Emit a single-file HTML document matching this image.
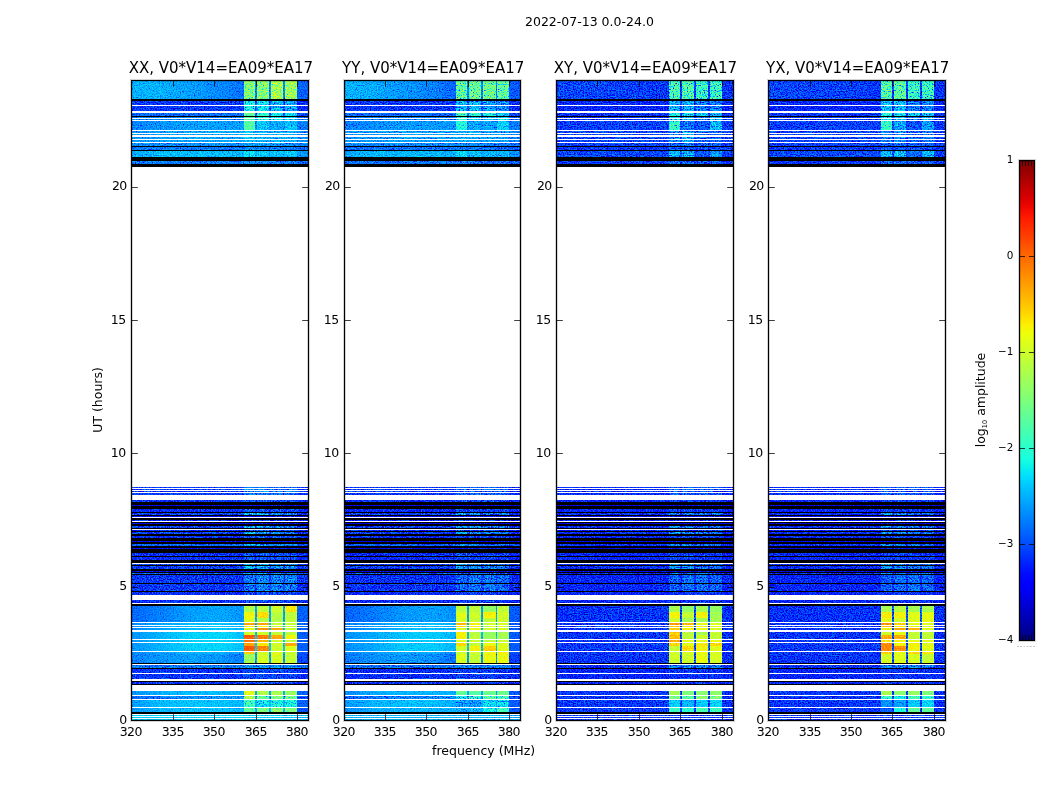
<!DOCTYPE html><html><head><meta charset="utf-8"><title>2022-07-13 0.0-24.0</title>
<style>html,body{margin:0;padding:0;background:#fff}svg{display:block}text{font-family:"DejaVu Sans","Liberation Sans",sans-serif;fill:#000}</style></head><body>
<svg width="1050" height="800" viewBox="0 0 1050 800">
<defs>
<linearGradient id="g131t1" gradientUnits="userSpaceOnUse" x1="132.2" y1="0" x2="244.2" y2="0"><stop offset="0.000" stop-color="#655500"/><stop offset="0.259" stop-color="#655500"/><stop offset="0.527" stop-color="#615500"/><stop offset="0.795" stop-color="#5d5500"/><stop offset="1.000" stop-color="#575500"/></linearGradient>
<linearGradient id="g131t5" gradientUnits="userSpaceOnUse" x1="132.2" y1="0" x2="244.2" y2="0"><stop offset="0.000" stop-color="#576600"/><stop offset="0.259" stop-color="#5b6600"/><stop offset="0.527" stop-color="#5d6600"/><stop offset="0.795" stop-color="#5d6600"/><stop offset="1.000" stop-color="#5d6600"/></linearGradient>
<linearGradient id="g131t6" gradientUnits="userSpaceOnUse" x1="132.2" y1="0" x2="244.2" y2="0"><stop offset="0.000" stop-color="#5b6600"/><stop offset="0.259" stop-color="#5d6600"/><stop offset="0.527" stop-color="#5f6600"/><stop offset="0.795" stop-color="#5f6600"/><stop offset="1.000" stop-color="#5f6600"/></linearGradient>
<linearGradient id="g131t9" gradientUnits="userSpaceOnUse" x1="132.2" y1="0" x2="244.2" y2="0"><stop offset="0.000" stop-color="#615f00"/><stop offset="0.259" stop-color="#655f00"/><stop offset="0.527" stop-color="#655f00"/><stop offset="0.795" stop-color="#655f00"/><stop offset="1.000" stop-color="#635f00"/></linearGradient>
<linearGradient id="g131m1" gradientUnits="userSpaceOnUse" x1="132.2" y1="0" x2="244.2" y2="0"><stop offset="0.000" stop-color="#5d3a00"/><stop offset="0.259" stop-color="#623a00"/><stop offset="0.527" stop-color="#683a00"/><stop offset="0.795" stop-color="#6a3a00"/><stop offset="1.000" stop-color="#663a00"/></linearGradient>
<linearGradient id="g131m2" gradientUnits="userSpaceOnUse" x1="132.2" y1="0" x2="244.2" y2="0"><stop offset="0.000" stop-color="#5d3a00"/><stop offset="0.259" stop-color="#623a00"/><stop offset="0.527" stop-color="#683a00"/><stop offset="0.795" stop-color="#6a3a00"/><stop offset="1.000" stop-color="#663a00"/></linearGradient>
<linearGradient id="g131m3" gradientUnits="userSpaceOnUse" x1="132.2" y1="0" x2="244.2" y2="0"><stop offset="0.000" stop-color="#5d3a00"/><stop offset="0.259" stop-color="#623a00"/><stop offset="0.527" stop-color="#683a00"/><stop offset="0.795" stop-color="#6a3a00"/><stop offset="1.000" stop-color="#663a00"/></linearGradient>
<linearGradient id="g131m4" gradientUnits="userSpaceOnUse" x1="132.2" y1="0" x2="244.2" y2="0"><stop offset="0.000" stop-color="#663300"/><stop offset="0.259" stop-color="#6b3300"/><stop offset="0.527" stop-color="#703300"/><stop offset="0.795" stop-color="#723300"/><stop offset="1.000" stop-color="#6e3300"/></linearGradient>
<linearGradient id="g131m5" gradientUnits="userSpaceOnUse" x1="132.2" y1="0" x2="244.2" y2="0"><stop offset="0.000" stop-color="#663300"/><stop offset="0.259" stop-color="#6b3300"/><stop offset="0.527" stop-color="#703300"/><stop offset="0.795" stop-color="#723300"/><stop offset="1.000" stop-color="#6e3300"/></linearGradient>
<linearGradient id="g131m6" gradientUnits="userSpaceOnUse" x1="132.2" y1="0" x2="244.2" y2="0"><stop offset="0.000" stop-color="#663300"/><stop offset="0.259" stop-color="#6b3300"/><stop offset="0.527" stop-color="#703300"/><stop offset="0.795" stop-color="#723300"/><stop offset="1.000" stop-color="#6e3300"/></linearGradient>
<linearGradient id="g131m7" gradientUnits="userSpaceOnUse" x1="132.2" y1="0" x2="244.2" y2="0"><stop offset="0.000" stop-color="#6a2c00"/><stop offset="0.259" stop-color="#702c00"/><stop offset="0.527" stop-color="#762c00"/><stop offset="0.795" stop-color="#772c00"/><stop offset="1.000" stop-color="#722c00"/></linearGradient>
<linearGradient id="g131m8" gradientUnits="userSpaceOnUse" x1="132.2" y1="0" x2="244.2" y2="0"><stop offset="0.000" stop-color="#6a2c00"/><stop offset="0.259" stop-color="#702c00"/><stop offset="0.527" stop-color="#762c00"/><stop offset="0.795" stop-color="#772c00"/><stop offset="1.000" stop-color="#722c00"/></linearGradient>
<linearGradient id="g131m9" gradientUnits="userSpaceOnUse" x1="132.2" y1="0" x2="244.2" y2="0"><stop offset="0.000" stop-color="#6a2c00"/><stop offset="0.259" stop-color="#702c00"/><stop offset="0.527" stop-color="#762c00"/><stop offset="0.795" stop-color="#772c00"/><stop offset="1.000" stop-color="#722c00"/></linearGradient>
<linearGradient id="g131m10" gradientUnits="userSpaceOnUse" x1="132.2" y1="0" x2="244.2" y2="0"><stop offset="0.000" stop-color="#6a2c00"/><stop offset="0.259" stop-color="#702c00"/><stop offset="0.527" stop-color="#762c00"/><stop offset="0.795" stop-color="#772c00"/><stop offset="1.000" stop-color="#722c00"/></linearGradient>
<linearGradient id="g131m11" gradientUnits="userSpaceOnUse" x1="132.2" y1="0" x2="244.2" y2="0"><stop offset="0.000" stop-color="#6a2c00"/><stop offset="0.259" stop-color="#702c00"/><stop offset="0.527" stop-color="#762c00"/><stop offset="0.795" stop-color="#772c00"/><stop offset="1.000" stop-color="#722c00"/></linearGradient>
<linearGradient id="g131m12" gradientUnits="userSpaceOnUse" x1="132.2" y1="0" x2="244.2" y2="0"><stop offset="0.000" stop-color="#643a00"/><stop offset="0.259" stop-color="#683a00"/><stop offset="0.527" stop-color="#6c3a00"/><stop offset="0.795" stop-color="#6c3a00"/><stop offset="1.000" stop-color="#663a00"/></linearGradient>
<linearGradient id="g131m13" gradientUnits="userSpaceOnUse" x1="132.2" y1="0" x2="244.2" y2="0"><stop offset="0.000" stop-color="#5e4b00"/><stop offset="0.259" stop-color="#624b00"/><stop offset="0.527" stop-color="#644b00"/><stop offset="0.795" stop-color="#624b00"/><stop offset="1.000" stop-color="#5c4b00"/></linearGradient>
<linearGradient id="g131d1" gradientUnits="userSpaceOnUse" x1="132.2" y1="0" x2="244.2" y2="0"><stop offset="0.000" stop-color="#653d00"/><stop offset="0.259" stop-color="#6b3d00"/><stop offset="0.527" stop-color="#6d3d00"/><stop offset="0.795" stop-color="#6d3d00"/><stop offset="1.000" stop-color="#6b3d00"/></linearGradient>
<linearGradient id="g131d2" gradientUnits="userSpaceOnUse" x1="132.2" y1="0" x2="244.2" y2="0"><stop offset="0.000" stop-color="#4d7700"/><stop offset="0.259" stop-color="#517700"/><stop offset="0.527" stop-color="#557700"/><stop offset="0.795" stop-color="#577700"/><stop offset="1.000" stop-color="#577700"/></linearGradient>
<linearGradient id="g131d3" gradientUnits="userSpaceOnUse" x1="132.2" y1="0" x2="244.2" y2="0"><stop offset="0.000" stop-color="#673d00"/><stop offset="0.259" stop-color="#6d3d00"/><stop offset="0.527" stop-color="#6f3d00"/><stop offset="0.795" stop-color="#6f3d00"/><stop offset="1.000" stop-color="#6b3d00"/></linearGradient>
<linearGradient id="g131d4" gradientUnits="userSpaceOnUse" x1="132.2" y1="0" x2="244.2" y2="0"><stop offset="0.000" stop-color="#644400"/><stop offset="0.259" stop-color="#6a4400"/><stop offset="0.527" stop-color="#6c4400"/><stop offset="0.795" stop-color="#6c4400"/><stop offset="1.000" stop-color="#6a4400"/></linearGradient>
<linearGradient id="g131e1" gradientUnits="userSpaceOnUse" x1="132.2" y1="0" x2="244.2" y2="0"><stop offset="0.000" stop-color="#6e4400"/><stop offset="0.259" stop-color="#704400"/><stop offset="0.527" stop-color="#704400"/><stop offset="0.795" stop-color="#704400"/><stop offset="1.000" stop-color="#704400"/></linearGradient>
<linearGradient id="g344t1" gradientUnits="userSpaceOnUse" x1="344.5" y1="0" x2="456.4" y2="0"><stop offset="0.000" stop-color="#645c00"/><stop offset="0.259" stop-color="#625c00"/><stop offset="0.527" stop-color="#5e5c00"/><stop offset="0.795" stop-color="#5a5c00"/><stop offset="1.000" stop-color="#535c00"/></linearGradient>
<linearGradient id="g344t5" gradientUnits="userSpaceOnUse" x1="344.5" y1="0" x2="456.4" y2="0"><stop offset="0.000" stop-color="#546d00"/><stop offset="0.259" stop-color="#586d00"/><stop offset="0.527" stop-color="#5a6d00"/><stop offset="0.795" stop-color="#5a6d00"/><stop offset="1.000" stop-color="#5a6d00"/></linearGradient>
<linearGradient id="g344t6" gradientUnits="userSpaceOnUse" x1="344.5" y1="0" x2="456.4" y2="0"><stop offset="0.000" stop-color="#586d00"/><stop offset="0.259" stop-color="#5a6d00"/><stop offset="0.527" stop-color="#5c6d00"/><stop offset="0.795" stop-color="#5c6d00"/><stop offset="1.000" stop-color="#5c6d00"/></linearGradient>
<linearGradient id="g344t9" gradientUnits="userSpaceOnUse" x1="344.5" y1="0" x2="456.4" y2="0"><stop offset="0.000" stop-color="#5e6600"/><stop offset="0.259" stop-color="#626600"/><stop offset="0.527" stop-color="#626600"/><stop offset="0.795" stop-color="#626600"/><stop offset="1.000" stop-color="#606600"/></linearGradient>
<linearGradient id="g344m1" gradientUnits="userSpaceOnUse" x1="344.5" y1="0" x2="456.4" y2="0"><stop offset="0.000" stop-color="#5a4100"/><stop offset="0.259" stop-color="#5f4100"/><stop offset="0.527" stop-color="#654100"/><stop offset="0.795" stop-color="#674100"/><stop offset="1.000" stop-color="#634100"/></linearGradient>
<linearGradient id="g344m2" gradientUnits="userSpaceOnUse" x1="344.5" y1="0" x2="456.4" y2="0"><stop offset="0.000" stop-color="#5a4100"/><stop offset="0.259" stop-color="#5f4100"/><stop offset="0.527" stop-color="#654100"/><stop offset="0.795" stop-color="#674100"/><stop offset="1.000" stop-color="#634100"/></linearGradient>
<linearGradient id="g344m3" gradientUnits="userSpaceOnUse" x1="344.5" y1="0" x2="456.4" y2="0"><stop offset="0.000" stop-color="#5a4100"/><stop offset="0.259" stop-color="#5f4100"/><stop offset="0.527" stop-color="#654100"/><stop offset="0.795" stop-color="#674100"/><stop offset="1.000" stop-color="#634100"/></linearGradient>
<linearGradient id="g344m4" gradientUnits="userSpaceOnUse" x1="344.5" y1="0" x2="456.4" y2="0"><stop offset="0.000" stop-color="#623a00"/><stop offset="0.259" stop-color="#673a00"/><stop offset="0.527" stop-color="#6d3a00"/><stop offset="0.795" stop-color="#6f3a00"/><stop offset="1.000" stop-color="#6b3a00"/></linearGradient>
<linearGradient id="g344m5" gradientUnits="userSpaceOnUse" x1="344.5" y1="0" x2="456.4" y2="0"><stop offset="0.000" stop-color="#623a00"/><stop offset="0.259" stop-color="#673a00"/><stop offset="0.527" stop-color="#6d3a00"/><stop offset="0.795" stop-color="#6f3a00"/><stop offset="1.000" stop-color="#6b3a00"/></linearGradient>
<linearGradient id="g344m6" gradientUnits="userSpaceOnUse" x1="344.5" y1="0" x2="456.4" y2="0"><stop offset="0.000" stop-color="#623a00"/><stop offset="0.259" stop-color="#673a00"/><stop offset="0.527" stop-color="#6d3a00"/><stop offset="0.795" stop-color="#6f3a00"/><stop offset="1.000" stop-color="#6b3a00"/></linearGradient>
<linearGradient id="g344m7" gradientUnits="userSpaceOnUse" x1="344.5" y1="0" x2="456.4" y2="0"><stop offset="0.000" stop-color="#673300"/><stop offset="0.259" stop-color="#6c3300"/><stop offset="0.527" stop-color="#723300"/><stop offset="0.795" stop-color="#733300"/><stop offset="1.000" stop-color="#6e3300"/></linearGradient>
<linearGradient id="g344m8" gradientUnits="userSpaceOnUse" x1="344.5" y1="0" x2="456.4" y2="0"><stop offset="0.000" stop-color="#673300"/><stop offset="0.259" stop-color="#6c3300"/><stop offset="0.527" stop-color="#723300"/><stop offset="0.795" stop-color="#733300"/><stop offset="1.000" stop-color="#6e3300"/></linearGradient>
<linearGradient id="g344m9" gradientUnits="userSpaceOnUse" x1="344.5" y1="0" x2="456.4" y2="0"><stop offset="0.000" stop-color="#673300"/><stop offset="0.259" stop-color="#6c3300"/><stop offset="0.527" stop-color="#723300"/><stop offset="0.795" stop-color="#733300"/><stop offset="1.000" stop-color="#6e3300"/></linearGradient>
<linearGradient id="g344m10" gradientUnits="userSpaceOnUse" x1="344.5" y1="0" x2="456.4" y2="0"><stop offset="0.000" stop-color="#673300"/><stop offset="0.259" stop-color="#6c3300"/><stop offset="0.527" stop-color="#723300"/><stop offset="0.795" stop-color="#733300"/><stop offset="1.000" stop-color="#6e3300"/></linearGradient>
<linearGradient id="g344m11" gradientUnits="userSpaceOnUse" x1="344.5" y1="0" x2="456.4" y2="0"><stop offset="0.000" stop-color="#673300"/><stop offset="0.259" stop-color="#6c3300"/><stop offset="0.527" stop-color="#723300"/><stop offset="0.795" stop-color="#733300"/><stop offset="1.000" stop-color="#6e3300"/></linearGradient>
<linearGradient id="g344m12" gradientUnits="userSpaceOnUse" x1="344.5" y1="0" x2="456.4" y2="0"><stop offset="0.000" stop-color="#614100"/><stop offset="0.259" stop-color="#654100"/><stop offset="0.527" stop-color="#694100"/><stop offset="0.795" stop-color="#694100"/><stop offset="1.000" stop-color="#634100"/></linearGradient>
<linearGradient id="g344m13" gradientUnits="userSpaceOnUse" x1="344.5" y1="0" x2="456.4" y2="0"><stop offset="0.000" stop-color="#5a5200"/><stop offset="0.259" stop-color="#5f5200"/><stop offset="0.527" stop-color="#615200"/><stop offset="0.795" stop-color="#5f5200"/><stop offset="1.000" stop-color="#585200"/></linearGradient>
<linearGradient id="g344d1" gradientUnits="userSpaceOnUse" x1="344.5" y1="0" x2="456.4" y2="0"><stop offset="0.000" stop-color="#624400"/><stop offset="0.259" stop-color="#684400"/><stop offset="0.527" stop-color="#6a4400"/><stop offset="0.795" stop-color="#6a4400"/><stop offset="1.000" stop-color="#684400"/></linearGradient>
<linearGradient id="g344d2" gradientUnits="userSpaceOnUse" x1="344.5" y1="0" x2="456.4" y2="0"><stop offset="0.000" stop-color="#4a7e00"/><stop offset="0.259" stop-color="#4e7e00"/><stop offset="0.527" stop-color="#527e00"/><stop offset="0.795" stop-color="#547e00"/><stop offset="1.000" stop-color="#547e00"/></linearGradient>
<linearGradient id="g344d3" gradientUnits="userSpaceOnUse" x1="344.5" y1="0" x2="456.4" y2="0"><stop offset="0.000" stop-color="#644400"/><stop offset="0.259" stop-color="#6a4400"/><stop offset="0.527" stop-color="#6c4400"/><stop offset="0.795" stop-color="#6c4400"/><stop offset="1.000" stop-color="#684400"/></linearGradient>
<linearGradient id="g344d4" gradientUnits="userSpaceOnUse" x1="344.5" y1="0" x2="456.4" y2="0"><stop offset="0.000" stop-color="#604b00"/><stop offset="0.259" stop-color="#664b00"/><stop offset="0.527" stop-color="#684b00"/><stop offset="0.795" stop-color="#684b00"/><stop offset="1.000" stop-color="#664b00"/></linearGradient>
<linearGradient id="g556t1" gradientUnits="userSpaceOnUse" x1="556.8" y1="0" x2="668.7" y2="0"><stop offset="0.000" stop-color="#3e9900"/><stop offset="0.259" stop-color="#3e9900"/><stop offset="0.527" stop-color="#3d9900"/><stop offset="0.795" stop-color="#3c9900"/><stop offset="1.000" stop-color="#3a9900"/></linearGradient>
<linearGradient id="g556t5" gradientUnits="userSpaceOnUse" x1="556.8" y1="0" x2="668.7" y2="0"><stop offset="0.000" stop-color="#3b9900"/><stop offset="0.259" stop-color="#3c9900"/><stop offset="0.527" stop-color="#3d9900"/><stop offset="0.795" stop-color="#3d9900"/><stop offset="1.000" stop-color="#3d9900"/></linearGradient>
<linearGradient id="g556t6" gradientUnits="userSpaceOnUse" x1="556.8" y1="0" x2="668.7" y2="0"><stop offset="0.000" stop-color="#3c9900"/><stop offset="0.259" stop-color="#3d9900"/><stop offset="0.527" stop-color="#3e9900"/><stop offset="0.795" stop-color="#3e9900"/><stop offset="1.000" stop-color="#3e9900"/></linearGradient>
<linearGradient id="g556t9" gradientUnits="userSpaceOnUse" x1="556.8" y1="0" x2="668.7" y2="0"><stop offset="0.000" stop-color="#3e9900"/><stop offset="0.259" stop-color="#3f9900"/><stop offset="0.527" stop-color="#3f9900"/><stop offset="0.795" stop-color="#3f9900"/><stop offset="1.000" stop-color="#3e9900"/></linearGradient>
<linearGradient id="g556m1" gradientUnits="userSpaceOnUse" x1="556.8" y1="0" x2="668.7" y2="0"><stop offset="0.000" stop-color="#399900"/><stop offset="0.259" stop-color="#399900"/><stop offset="0.527" stop-color="#3a9900"/><stop offset="0.795" stop-color="#3a9900"/><stop offset="1.000" stop-color="#3a9900"/></linearGradient>
<linearGradient id="g556m2" gradientUnits="userSpaceOnUse" x1="556.8" y1="0" x2="668.7" y2="0"><stop offset="0.000" stop-color="#399900"/><stop offset="0.259" stop-color="#399900"/><stop offset="0.527" stop-color="#3a9900"/><stop offset="0.795" stop-color="#3a9900"/><stop offset="1.000" stop-color="#3a9900"/></linearGradient>
<linearGradient id="g556m3" gradientUnits="userSpaceOnUse" x1="556.8" y1="0" x2="668.7" y2="0"><stop offset="0.000" stop-color="#399900"/><stop offset="0.259" stop-color="#399900"/><stop offset="0.527" stop-color="#3a9900"/><stop offset="0.795" stop-color="#3a9900"/><stop offset="1.000" stop-color="#3a9900"/></linearGradient>
<linearGradient id="g556m4" gradientUnits="userSpaceOnUse" x1="556.8" y1="0" x2="668.7" y2="0"><stop offset="0.000" stop-color="#3a9900"/><stop offset="0.259" stop-color="#3a9900"/><stop offset="0.527" stop-color="#3b9900"/><stop offset="0.795" stop-color="#3b9900"/><stop offset="1.000" stop-color="#3b9900"/></linearGradient>
<linearGradient id="g556m5" gradientUnits="userSpaceOnUse" x1="556.8" y1="0" x2="668.7" y2="0"><stop offset="0.000" stop-color="#3a9900"/><stop offset="0.259" stop-color="#3a9900"/><stop offset="0.527" stop-color="#3b9900"/><stop offset="0.795" stop-color="#3b9900"/><stop offset="1.000" stop-color="#3b9900"/></linearGradient>
<linearGradient id="g556m6" gradientUnits="userSpaceOnUse" x1="556.8" y1="0" x2="668.7" y2="0"><stop offset="0.000" stop-color="#3a9900"/><stop offset="0.259" stop-color="#3a9900"/><stop offset="0.527" stop-color="#3b9900"/><stop offset="0.795" stop-color="#3b9900"/><stop offset="1.000" stop-color="#3b9900"/></linearGradient>
<linearGradient id="g556m7" gradientUnits="userSpaceOnUse" x1="556.8" y1="0" x2="668.7" y2="0"><stop offset="0.000" stop-color="#3a9900"/><stop offset="0.259" stop-color="#3b9900"/><stop offset="0.527" stop-color="#3b9900"/><stop offset="0.795" stop-color="#3b9900"/><stop offset="1.000" stop-color="#3b9900"/></linearGradient>
<linearGradient id="g556m8" gradientUnits="userSpaceOnUse" x1="556.8" y1="0" x2="668.7" y2="0"><stop offset="0.000" stop-color="#3a9900"/><stop offset="0.259" stop-color="#3b9900"/><stop offset="0.527" stop-color="#3b9900"/><stop offset="0.795" stop-color="#3b9900"/><stop offset="1.000" stop-color="#3b9900"/></linearGradient>
<linearGradient id="g556m9" gradientUnits="userSpaceOnUse" x1="556.8" y1="0" x2="668.7" y2="0"><stop offset="0.000" stop-color="#3a9900"/><stop offset="0.259" stop-color="#3b9900"/><stop offset="0.527" stop-color="#3b9900"/><stop offset="0.795" stop-color="#3b9900"/><stop offset="1.000" stop-color="#3b9900"/></linearGradient>
<linearGradient id="g556m10" gradientUnits="userSpaceOnUse" x1="556.8" y1="0" x2="668.7" y2="0"><stop offset="0.000" stop-color="#3a9900"/><stop offset="0.259" stop-color="#3b9900"/><stop offset="0.527" stop-color="#3b9900"/><stop offset="0.795" stop-color="#3b9900"/><stop offset="1.000" stop-color="#3b9900"/></linearGradient>
<linearGradient id="g556m11" gradientUnits="userSpaceOnUse" x1="556.8" y1="0" x2="668.7" y2="0"><stop offset="0.000" stop-color="#3a9900"/><stop offset="0.259" stop-color="#3b9900"/><stop offset="0.527" stop-color="#3b9900"/><stop offset="0.795" stop-color="#3b9900"/><stop offset="1.000" stop-color="#3b9900"/></linearGradient>
<linearGradient id="g556m12" gradientUnits="userSpaceOnUse" x1="556.8" y1="0" x2="668.7" y2="0"><stop offset="0.000" stop-color="#3a9900"/><stop offset="0.259" stop-color="#3a9900"/><stop offset="0.527" stop-color="#3b9900"/><stop offset="0.795" stop-color="#3b9900"/><stop offset="1.000" stop-color="#3a9900"/></linearGradient>
<linearGradient id="g556m13" gradientUnits="userSpaceOnUse" x1="556.8" y1="0" x2="668.7" y2="0"><stop offset="0.000" stop-color="#399900"/><stop offset="0.259" stop-color="#3a9900"/><stop offset="0.527" stop-color="#3a9900"/><stop offset="0.795" stop-color="#3a9900"/><stop offset="1.000" stop-color="#399900"/></linearGradient>
<linearGradient id="g556d1" gradientUnits="userSpaceOnUse" x1="556.8" y1="0" x2="668.7" y2="0"><stop offset="0.000" stop-color="#3a9900"/><stop offset="0.259" stop-color="#3b9900"/><stop offset="0.527" stop-color="#3b9900"/><stop offset="0.795" stop-color="#3b9900"/><stop offset="1.000" stop-color="#3b9900"/></linearGradient>
<linearGradient id="g556d2" gradientUnits="userSpaceOnUse" x1="556.8" y1="0" x2="668.7" y2="0"><stop offset="0.000" stop-color="#399900"/><stop offset="0.259" stop-color="#399900"/><stop offset="0.527" stop-color="#3a9900"/><stop offset="0.795" stop-color="#3a9900"/><stop offset="1.000" stop-color="#3a9900"/></linearGradient>
<linearGradient id="g556d3" gradientUnits="userSpaceOnUse" x1="556.8" y1="0" x2="668.7" y2="0"><stop offset="0.000" stop-color="#3a9900"/><stop offset="0.259" stop-color="#3b9900"/><stop offset="0.527" stop-color="#3b9900"/><stop offset="0.795" stop-color="#3b9900"/><stop offset="1.000" stop-color="#3b9900"/></linearGradient>
<linearGradient id="g556d4" gradientUnits="userSpaceOnUse" x1="556.8" y1="0" x2="668.7" y2="0"><stop offset="0.000" stop-color="#3a9900"/><stop offset="0.259" stop-color="#3b9900"/><stop offset="0.527" stop-color="#3b9900"/><stop offset="0.795" stop-color="#3b9900"/><stop offset="1.000" stop-color="#3b9900"/></linearGradient>
<linearGradient id="g556e1" gradientUnits="userSpaceOnUse" x1="556.8" y1="0" x2="668.7" y2="0"><stop offset="0.000" stop-color="#3b9900"/><stop offset="0.259" stop-color="#3b9900"/><stop offset="0.527" stop-color="#3b9900"/><stop offset="0.795" stop-color="#3b9900"/><stop offset="1.000" stop-color="#3b9900"/></linearGradient>
<linearGradient id="g768t1" gradientUnits="userSpaceOnUse" x1="769.1" y1="0" x2="881.0" y2="0"><stop offset="0.000" stop-color="#3e9900"/><stop offset="0.259" stop-color="#3e9900"/><stop offset="0.527" stop-color="#3d9900"/><stop offset="0.795" stop-color="#3c9900"/><stop offset="1.000" stop-color="#3a9900"/></linearGradient>
<linearGradient id="g768t5" gradientUnits="userSpaceOnUse" x1="769.1" y1="0" x2="881.0" y2="0"><stop offset="0.000" stop-color="#3b9900"/><stop offset="0.259" stop-color="#3c9900"/><stop offset="0.527" stop-color="#3d9900"/><stop offset="0.795" stop-color="#3d9900"/><stop offset="1.000" stop-color="#3d9900"/></linearGradient>
<linearGradient id="g768t6" gradientUnits="userSpaceOnUse" x1="769.1" y1="0" x2="881.0" y2="0"><stop offset="0.000" stop-color="#3c9900"/><stop offset="0.259" stop-color="#3d9900"/><stop offset="0.527" stop-color="#3e9900"/><stop offset="0.795" stop-color="#3e9900"/><stop offset="1.000" stop-color="#3e9900"/></linearGradient>
<linearGradient id="g768t9" gradientUnits="userSpaceOnUse" x1="769.1" y1="0" x2="881.0" y2="0"><stop offset="0.000" stop-color="#3e9900"/><stop offset="0.259" stop-color="#3f9900"/><stop offset="0.527" stop-color="#3f9900"/><stop offset="0.795" stop-color="#3f9900"/><stop offset="1.000" stop-color="#3e9900"/></linearGradient>
<linearGradient id="g768m1" gradientUnits="userSpaceOnUse" x1="769.1" y1="0" x2="881.0" y2="0"><stop offset="0.000" stop-color="#399900"/><stop offset="0.259" stop-color="#399900"/><stop offset="0.527" stop-color="#3a9900"/><stop offset="0.795" stop-color="#3a9900"/><stop offset="1.000" stop-color="#3a9900"/></linearGradient>
<linearGradient id="g768m2" gradientUnits="userSpaceOnUse" x1="769.1" y1="0" x2="881.0" y2="0"><stop offset="0.000" stop-color="#399900"/><stop offset="0.259" stop-color="#399900"/><stop offset="0.527" stop-color="#3a9900"/><stop offset="0.795" stop-color="#3a9900"/><stop offset="1.000" stop-color="#3a9900"/></linearGradient>
<linearGradient id="g768m3" gradientUnits="userSpaceOnUse" x1="769.1" y1="0" x2="881.0" y2="0"><stop offset="0.000" stop-color="#399900"/><stop offset="0.259" stop-color="#399900"/><stop offset="0.527" stop-color="#3a9900"/><stop offset="0.795" stop-color="#3a9900"/><stop offset="1.000" stop-color="#3a9900"/></linearGradient>
<linearGradient id="g768m4" gradientUnits="userSpaceOnUse" x1="769.1" y1="0" x2="881.0" y2="0"><stop offset="0.000" stop-color="#3a9900"/><stop offset="0.259" stop-color="#3a9900"/><stop offset="0.527" stop-color="#3b9900"/><stop offset="0.795" stop-color="#3b9900"/><stop offset="1.000" stop-color="#3b9900"/></linearGradient>
<linearGradient id="g768m5" gradientUnits="userSpaceOnUse" x1="769.1" y1="0" x2="881.0" y2="0"><stop offset="0.000" stop-color="#3a9900"/><stop offset="0.259" stop-color="#3a9900"/><stop offset="0.527" stop-color="#3b9900"/><stop offset="0.795" stop-color="#3b9900"/><stop offset="1.000" stop-color="#3b9900"/></linearGradient>
<linearGradient id="g768m6" gradientUnits="userSpaceOnUse" x1="769.1" y1="0" x2="881.0" y2="0"><stop offset="0.000" stop-color="#3a9900"/><stop offset="0.259" stop-color="#3a9900"/><stop offset="0.527" stop-color="#3b9900"/><stop offset="0.795" stop-color="#3b9900"/><stop offset="1.000" stop-color="#3b9900"/></linearGradient>
<linearGradient id="g768m7" gradientUnits="userSpaceOnUse" x1="769.1" y1="0" x2="881.0" y2="0"><stop offset="0.000" stop-color="#3a9900"/><stop offset="0.259" stop-color="#3b9900"/><stop offset="0.527" stop-color="#3b9900"/><stop offset="0.795" stop-color="#3b9900"/><stop offset="1.000" stop-color="#3b9900"/></linearGradient>
<linearGradient id="g768m8" gradientUnits="userSpaceOnUse" x1="769.1" y1="0" x2="881.0" y2="0"><stop offset="0.000" stop-color="#3a9900"/><stop offset="0.259" stop-color="#3b9900"/><stop offset="0.527" stop-color="#3b9900"/><stop offset="0.795" stop-color="#3b9900"/><stop offset="1.000" stop-color="#3b9900"/></linearGradient>
<linearGradient id="g768m9" gradientUnits="userSpaceOnUse" x1="769.1" y1="0" x2="881.0" y2="0"><stop offset="0.000" stop-color="#3a9900"/><stop offset="0.259" stop-color="#3b9900"/><stop offset="0.527" stop-color="#3b9900"/><stop offset="0.795" stop-color="#3b9900"/><stop offset="1.000" stop-color="#3b9900"/></linearGradient>
<linearGradient id="g768m10" gradientUnits="userSpaceOnUse" x1="769.1" y1="0" x2="881.0" y2="0"><stop offset="0.000" stop-color="#3a9900"/><stop offset="0.259" stop-color="#3b9900"/><stop offset="0.527" stop-color="#3b9900"/><stop offset="0.795" stop-color="#3b9900"/><stop offset="1.000" stop-color="#3b9900"/></linearGradient>
<linearGradient id="g768m11" gradientUnits="userSpaceOnUse" x1="769.1" y1="0" x2="881.0" y2="0"><stop offset="0.000" stop-color="#3a9900"/><stop offset="0.259" stop-color="#3b9900"/><stop offset="0.527" stop-color="#3b9900"/><stop offset="0.795" stop-color="#3b9900"/><stop offset="1.000" stop-color="#3b9900"/></linearGradient>
<linearGradient id="g768m12" gradientUnits="userSpaceOnUse" x1="769.1" y1="0" x2="881.0" y2="0"><stop offset="0.000" stop-color="#3a9900"/><stop offset="0.259" stop-color="#3a9900"/><stop offset="0.527" stop-color="#3b9900"/><stop offset="0.795" stop-color="#3b9900"/><stop offset="1.000" stop-color="#3a9900"/></linearGradient>
<linearGradient id="g768m13" gradientUnits="userSpaceOnUse" x1="769.1" y1="0" x2="881.0" y2="0"><stop offset="0.000" stop-color="#399900"/><stop offset="0.259" stop-color="#3a9900"/><stop offset="0.527" stop-color="#3a9900"/><stop offset="0.795" stop-color="#3a9900"/><stop offset="1.000" stop-color="#399900"/></linearGradient>
<linearGradient id="g768d1" gradientUnits="userSpaceOnUse" x1="769.1" y1="0" x2="881.0" y2="0"><stop offset="0.000" stop-color="#3a9900"/><stop offset="0.259" stop-color="#3b9900"/><stop offset="0.527" stop-color="#3b9900"/><stop offset="0.795" stop-color="#3b9900"/><stop offset="1.000" stop-color="#3b9900"/></linearGradient>
<linearGradient id="g768d2" gradientUnits="userSpaceOnUse" x1="769.1" y1="0" x2="881.0" y2="0"><stop offset="0.000" stop-color="#399900"/><stop offset="0.259" stop-color="#399900"/><stop offset="0.527" stop-color="#3a9900"/><stop offset="0.795" stop-color="#3a9900"/><stop offset="1.000" stop-color="#3a9900"/></linearGradient>
<linearGradient id="g768d3" gradientUnits="userSpaceOnUse" x1="769.1" y1="0" x2="881.0" y2="0"><stop offset="0.000" stop-color="#3a9900"/><stop offset="0.259" stop-color="#3b9900"/><stop offset="0.527" stop-color="#3b9900"/><stop offset="0.795" stop-color="#3b9900"/><stop offset="1.000" stop-color="#3b9900"/></linearGradient>
<linearGradient id="g768d4" gradientUnits="userSpaceOnUse" x1="769.1" y1="0" x2="881.0" y2="0"><stop offset="0.000" stop-color="#3a9900"/><stop offset="0.259" stop-color="#3b9900"/><stop offset="0.527" stop-color="#3b9900"/><stop offset="0.795" stop-color="#3b9900"/><stop offset="1.000" stop-color="#3b9900"/></linearGradient>
<linearGradient id="g768e1" gradientUnits="userSpaceOnUse" x1="769.1" y1="0" x2="881.0" y2="0"><stop offset="0.000" stop-color="#3b9900"/><stop offset="0.259" stop-color="#3b9900"/><stop offset="0.527" stop-color="#3b9900"/><stop offset="0.795" stop-color="#3b9900"/><stop offset="1.000" stop-color="#3b9900"/></linearGradient>
<filter id="f131" filterUnits="userSpaceOnUse" x="131" y="80" width="178" height="641" color-interpolation-filters="sRGB">
<feTurbulence type="fractalNoise" baseFrequency="0.71 0.83" numOctaves="2" seed="3" result="n"/>
<feColorMatrix in="n" type="matrix" values="1 0 0 0 0  1 0 0 0 0  1 0 0 0 0  0 0 0 0 1" result="ng0"/>
<feComponentTransfer in="ng0" result="ng"><feFuncR type="table" tableValues="0.000 0.000 0.000 0.000 0.000 0.000 0.000 0.000 0.000 0.000 0.014 0.083 0.148 0.209 0.267 0.322 0.373 0.421 0.466 0.509 0.549 0.586 0.621 0.654 0.685 0.714 0.741 0.767 0.792 0.815 0.837 0.857 0.877 0.896 0.914 0.931 0.947 0.963 0.978 0.992 1.000 1.000 1.000 1.000 1.000 1.000 1.000 1.000 1.000 1.000 1.000"/><feFuncG type="table" tableValues="0.000 0.000 0.000 0.000 0.000 0.000 0.000 0.000 0.000 0.000 0.014 0.083 0.148 0.209 0.267 0.322 0.373 0.421 0.466 0.509 0.549 0.586 0.621 0.654 0.685 0.714 0.741 0.767 0.792 0.815 0.837 0.857 0.877 0.896 0.914 0.931 0.947 0.963 0.978 0.992 1.000 1.000 1.000 1.000 1.000 1.000 1.000 1.000 1.000 1.000 1.000"/><feFuncB type="table" tableValues="0.000 0.000 0.000 0.000 0.000 0.000 0.000 0.000 0.000 0.000 0.014 0.083 0.148 0.209 0.267 0.322 0.373 0.421 0.466 0.509 0.549 0.586 0.621 0.654 0.685 0.714 0.741 0.767 0.792 0.815 0.837 0.857 0.877 0.896 0.914 0.931 0.947 0.963 0.978 0.992 1.000 1.000 1.000 1.000 1.000 1.000 1.000 1.000 1.000 1.000 1.000"/></feComponentTransfer>
<feColorMatrix in="SourceGraphic" type="matrix" values="0 1 0 0 0  0 1 0 0 0  0 1 0 0 0  0 0 0 0 1" result="amp"/>
<feColorMatrix in="SourceGraphic" type="matrix" values="1 0 0 0 0  1 0 0 0 0  1 0 0 0 0  0 0 0 0 1" result="v"/>
<feComposite in="amp" in2="ng" operator="arithmetic" k1="0.44999999999999996" k2="0" k3="0" k4="0" result="an"/>
<feComposite in="v" in2="an" operator="arithmetic" k1="0" k2="1.25" k3="1" k4="-0.3" result="vv"/>
<feComponentTransfer in="vv">
<feFuncR type="table" tableValues="0.000 0.000 0.000 0.000 0.000 0.000 0.000 0.000 0.000 0.000 0.000 0.000 0.000 0.000 0.000 0.000 0.000 0.000 0.000 0.000 0.000 0.000 0.000 0.000 0.000 0.000 0.000 0.000 0.000 0.035 0.085 0.123 0.161 0.199 0.237 0.288 0.326 0.364 0.402 0.440 0.490 0.528 0.566 0.604 0.642 0.693 0.731 0.769 0.806 0.844 0.895 0.933 0.971 1.000 1.000 1.000 1.000 1.000 1.000 1.000 1.000 1.000 1.000 1.000 1.000 1.000 1.000 1.000 1.000 1.000 1.000 0.999 0.946 0.892 0.839 0.767 0.714 0.660 0.607 0.553 0.500"/>
<feFuncG type="table" tableValues="0.000 0.000 0.000 0.000 0.000 0.000 0.000 0.000 0.000 0.000 0.002 0.049 0.096 0.143 0.190 0.253 0.300 0.347 0.394 0.441 0.504 0.551 0.598 0.645 0.692 0.755 0.802 0.849 0.896 0.943 1.000 1.000 1.000 1.000 1.000 1.000 1.000 1.000 1.000 1.000 1.000 1.000 1.000 1.000 1.000 1.000 1.000 1.000 1.000 1.000 1.000 1.000 0.959 0.916 0.872 0.814 0.771 0.727 0.683 0.640 0.582 0.538 0.495 0.451 0.407 0.349 0.306 0.262 0.219 0.175 0.117 0.073 0.030 0.000 0.000 0.000 0.000 0.000 0.000 0.000 0.000"/>
<feFuncB type="table" tableValues="0.500 0.553 0.607 0.660 0.714 0.785 0.839 0.892 0.946 0.999 1.000 1.000 1.000 1.000 1.000 1.000 1.000 1.000 1.000 1.000 1.000 1.000 1.000 1.000 1.000 1.000 1.000 1.000 0.971 0.933 0.882 0.844 0.806 0.769 0.731 0.680 0.642 0.604 0.566 0.528 0.478 0.440 0.402 0.364 0.326 0.275 0.237 0.199 0.161 0.123 0.073 0.035 0.000 0.000 0.000 0.000 0.000 0.000 0.000 0.000 0.000 0.000 0.000 0.000 0.000 0.000 0.000 0.000 0.000 0.000 0.000 0.000 0.000 0.000 0.000 0.000 0.000 0.000 0.000 0.000 0.000"/>
<feFuncA type="linear" slope="0" intercept="1"/>
</feComponentTransfer>
</filter>
<filter id="f344" filterUnits="userSpaceOnUse" x="344" y="80" width="177" height="641" color-interpolation-filters="sRGB">
<feTurbulence type="fractalNoise" baseFrequency="0.71 0.83" numOctaves="2" seed="11" result="n"/>
<feColorMatrix in="n" type="matrix" values="1 0 0 0 0  1 0 0 0 0  1 0 0 0 0  0 0 0 0 1" result="ng0"/>
<feComponentTransfer in="ng0" result="ng"><feFuncR type="table" tableValues="0.000 0.000 0.000 0.000 0.000 0.000 0.000 0.000 0.000 0.000 0.014 0.083 0.148 0.209 0.267 0.322 0.373 0.421 0.466 0.509 0.549 0.586 0.621 0.654 0.685 0.714 0.741 0.767 0.792 0.815 0.837 0.857 0.877 0.896 0.914 0.931 0.947 0.963 0.978 0.992 1.000 1.000 1.000 1.000 1.000 1.000 1.000 1.000 1.000 1.000 1.000"/><feFuncG type="table" tableValues="0.000 0.000 0.000 0.000 0.000 0.000 0.000 0.000 0.000 0.000 0.014 0.083 0.148 0.209 0.267 0.322 0.373 0.421 0.466 0.509 0.549 0.586 0.621 0.654 0.685 0.714 0.741 0.767 0.792 0.815 0.837 0.857 0.877 0.896 0.914 0.931 0.947 0.963 0.978 0.992 1.000 1.000 1.000 1.000 1.000 1.000 1.000 1.000 1.000 1.000 1.000"/><feFuncB type="table" tableValues="0.000 0.000 0.000 0.000 0.000 0.000 0.000 0.000 0.000 0.000 0.014 0.083 0.148 0.209 0.267 0.322 0.373 0.421 0.466 0.509 0.549 0.586 0.621 0.654 0.685 0.714 0.741 0.767 0.792 0.815 0.837 0.857 0.877 0.896 0.914 0.931 0.947 0.963 0.978 0.992 1.000 1.000 1.000 1.000 1.000 1.000 1.000 1.000 1.000 1.000 1.000"/></feComponentTransfer>
<feColorMatrix in="SourceGraphic" type="matrix" values="0 1 0 0 0  0 1 0 0 0  0 1 0 0 0  0 0 0 0 1" result="amp"/>
<feColorMatrix in="SourceGraphic" type="matrix" values="1 0 0 0 0  1 0 0 0 0  1 0 0 0 0  0 0 0 0 1" result="v"/>
<feComposite in="amp" in2="ng" operator="arithmetic" k1="0.44999999999999996" k2="0" k3="0" k4="0" result="an"/>
<feComposite in="v" in2="an" operator="arithmetic" k1="0" k2="1.25" k3="1" k4="-0.3" result="vv"/>
<feComponentTransfer in="vv">
<feFuncR type="table" tableValues="0.000 0.000 0.000 0.000 0.000 0.000 0.000 0.000 0.000 0.000 0.000 0.000 0.000 0.000 0.000 0.000 0.000 0.000 0.000 0.000 0.000 0.000 0.000 0.000 0.000 0.000 0.000 0.000 0.000 0.035 0.085 0.123 0.161 0.199 0.237 0.288 0.326 0.364 0.402 0.440 0.490 0.528 0.566 0.604 0.642 0.693 0.731 0.769 0.806 0.844 0.895 0.933 0.971 1.000 1.000 1.000 1.000 1.000 1.000 1.000 1.000 1.000 1.000 1.000 1.000 1.000 1.000 1.000 1.000 1.000 1.000 0.999 0.946 0.892 0.839 0.767 0.714 0.660 0.607 0.553 0.500"/>
<feFuncG type="table" tableValues="0.000 0.000 0.000 0.000 0.000 0.000 0.000 0.000 0.000 0.000 0.002 0.049 0.096 0.143 0.190 0.253 0.300 0.347 0.394 0.441 0.504 0.551 0.598 0.645 0.692 0.755 0.802 0.849 0.896 0.943 1.000 1.000 1.000 1.000 1.000 1.000 1.000 1.000 1.000 1.000 1.000 1.000 1.000 1.000 1.000 1.000 1.000 1.000 1.000 1.000 1.000 1.000 0.959 0.916 0.872 0.814 0.771 0.727 0.683 0.640 0.582 0.538 0.495 0.451 0.407 0.349 0.306 0.262 0.219 0.175 0.117 0.073 0.030 0.000 0.000 0.000 0.000 0.000 0.000 0.000 0.000"/>
<feFuncB type="table" tableValues="0.500 0.553 0.607 0.660 0.714 0.785 0.839 0.892 0.946 0.999 1.000 1.000 1.000 1.000 1.000 1.000 1.000 1.000 1.000 1.000 1.000 1.000 1.000 1.000 1.000 1.000 1.000 1.000 0.971 0.933 0.882 0.844 0.806 0.769 0.731 0.680 0.642 0.604 0.566 0.528 0.478 0.440 0.402 0.364 0.326 0.275 0.237 0.199 0.161 0.123 0.073 0.035 0.000 0.000 0.000 0.000 0.000 0.000 0.000 0.000 0.000 0.000 0.000 0.000 0.000 0.000 0.000 0.000 0.000 0.000 0.000 0.000 0.000 0.000 0.000 0.000 0.000 0.000 0.000 0.000 0.000"/>
<feFuncA type="linear" slope="0" intercept="1"/>
</feComponentTransfer>
</filter>
<filter id="f556" filterUnits="userSpaceOnUse" x="556" y="80" width="178" height="641" color-interpolation-filters="sRGB">
<feTurbulence type="fractalNoise" baseFrequency="0.71 0.83" numOctaves="2" seed="23" result="n"/>
<feColorMatrix in="n" type="matrix" values="1 0 0 0 0  1 0 0 0 0  1 0 0 0 0  0 0 0 0 1" result="ng0"/>
<feComponentTransfer in="ng0" result="ng"><feFuncR type="table" tableValues="0.000 0.000 0.000 0.000 0.000 0.000 0.000 0.000 0.000 0.000 0.014 0.083 0.148 0.209 0.267 0.322 0.373 0.421 0.466 0.509 0.549 0.586 0.621 0.654 0.685 0.714 0.741 0.767 0.792 0.815 0.837 0.857 0.877 0.896 0.914 0.931 0.947 0.963 0.978 0.992 1.000 1.000 1.000 1.000 1.000 1.000 1.000 1.000 1.000 1.000 1.000"/><feFuncG type="table" tableValues="0.000 0.000 0.000 0.000 0.000 0.000 0.000 0.000 0.000 0.000 0.014 0.083 0.148 0.209 0.267 0.322 0.373 0.421 0.466 0.509 0.549 0.586 0.621 0.654 0.685 0.714 0.741 0.767 0.792 0.815 0.837 0.857 0.877 0.896 0.914 0.931 0.947 0.963 0.978 0.992 1.000 1.000 1.000 1.000 1.000 1.000 1.000 1.000 1.000 1.000 1.000"/><feFuncB type="table" tableValues="0.000 0.000 0.000 0.000 0.000 0.000 0.000 0.000 0.000 0.000 0.014 0.083 0.148 0.209 0.267 0.322 0.373 0.421 0.466 0.509 0.549 0.586 0.621 0.654 0.685 0.714 0.741 0.767 0.792 0.815 0.837 0.857 0.877 0.896 0.914 0.931 0.947 0.963 0.978 0.992 1.000 1.000 1.000 1.000 1.000 1.000 1.000 1.000 1.000 1.000 1.000"/></feComponentTransfer>
<feColorMatrix in="SourceGraphic" type="matrix" values="0 1 0 0 0  0 1 0 0 0  0 1 0 0 0  0 0 0 0 1" result="amp"/>
<feColorMatrix in="SourceGraphic" type="matrix" values="1 0 0 0 0  1 0 0 0 0  1 0 0 0 0  0 0 0 0 1" result="v"/>
<feComposite in="amp" in2="ng" operator="arithmetic" k1="0.44999999999999996" k2="0" k3="0" k4="0" result="an"/>
<feComposite in="v" in2="an" operator="arithmetic" k1="0" k2="1.25" k3="1" k4="-0.3" result="vv"/>
<feComponentTransfer in="vv">
<feFuncR type="table" tableValues="0.000 0.000 0.000 0.000 0.000 0.000 0.000 0.000 0.000 0.000 0.000 0.000 0.000 0.000 0.000 0.000 0.000 0.000 0.000 0.000 0.000 0.000 0.000 0.000 0.000 0.000 0.000 0.000 0.000 0.035 0.085 0.123 0.161 0.199 0.237 0.288 0.326 0.364 0.402 0.440 0.490 0.528 0.566 0.604 0.642 0.693 0.731 0.769 0.806 0.844 0.895 0.933 0.971 1.000 1.000 1.000 1.000 1.000 1.000 1.000 1.000 1.000 1.000 1.000 1.000 1.000 1.000 1.000 1.000 1.000 1.000 0.999 0.946 0.892 0.839 0.767 0.714 0.660 0.607 0.553 0.500"/>
<feFuncG type="table" tableValues="0.000 0.000 0.000 0.000 0.000 0.000 0.000 0.000 0.000 0.000 0.002 0.049 0.096 0.143 0.190 0.253 0.300 0.347 0.394 0.441 0.504 0.551 0.598 0.645 0.692 0.755 0.802 0.849 0.896 0.943 1.000 1.000 1.000 1.000 1.000 1.000 1.000 1.000 1.000 1.000 1.000 1.000 1.000 1.000 1.000 1.000 1.000 1.000 1.000 1.000 1.000 1.000 0.959 0.916 0.872 0.814 0.771 0.727 0.683 0.640 0.582 0.538 0.495 0.451 0.407 0.349 0.306 0.262 0.219 0.175 0.117 0.073 0.030 0.000 0.000 0.000 0.000 0.000 0.000 0.000 0.000"/>
<feFuncB type="table" tableValues="0.500 0.553 0.607 0.660 0.714 0.785 0.839 0.892 0.946 0.999 1.000 1.000 1.000 1.000 1.000 1.000 1.000 1.000 1.000 1.000 1.000 1.000 1.000 1.000 1.000 1.000 1.000 1.000 0.971 0.933 0.882 0.844 0.806 0.769 0.731 0.680 0.642 0.604 0.566 0.528 0.478 0.440 0.402 0.364 0.326 0.275 0.237 0.199 0.161 0.123 0.073 0.035 0.000 0.000 0.000 0.000 0.000 0.000 0.000 0.000 0.000 0.000 0.000 0.000 0.000 0.000 0.000 0.000 0.000 0.000 0.000 0.000 0.000 0.000 0.000 0.000 0.000 0.000 0.000 0.000 0.000"/>
<feFuncA type="linear" slope="0" intercept="1"/>
</feComponentTransfer>
</filter>
<filter id="f768" filterUnits="userSpaceOnUse" x="768" y="80" width="178" height="641" color-interpolation-filters="sRGB">
<feTurbulence type="fractalNoise" baseFrequency="0.71 0.83" numOctaves="2" seed="37" result="n"/>
<feColorMatrix in="n" type="matrix" values="1 0 0 0 0  1 0 0 0 0  1 0 0 0 0  0 0 0 0 1" result="ng0"/>
<feComponentTransfer in="ng0" result="ng"><feFuncR type="table" tableValues="0.000 0.000 0.000 0.000 0.000 0.000 0.000 0.000 0.000 0.000 0.014 0.083 0.148 0.209 0.267 0.322 0.373 0.421 0.466 0.509 0.549 0.586 0.621 0.654 0.685 0.714 0.741 0.767 0.792 0.815 0.837 0.857 0.877 0.896 0.914 0.931 0.947 0.963 0.978 0.992 1.000 1.000 1.000 1.000 1.000 1.000 1.000 1.000 1.000 1.000 1.000"/><feFuncG type="table" tableValues="0.000 0.000 0.000 0.000 0.000 0.000 0.000 0.000 0.000 0.000 0.014 0.083 0.148 0.209 0.267 0.322 0.373 0.421 0.466 0.509 0.549 0.586 0.621 0.654 0.685 0.714 0.741 0.767 0.792 0.815 0.837 0.857 0.877 0.896 0.914 0.931 0.947 0.963 0.978 0.992 1.000 1.000 1.000 1.000 1.000 1.000 1.000 1.000 1.000 1.000 1.000"/><feFuncB type="table" tableValues="0.000 0.000 0.000 0.000 0.000 0.000 0.000 0.000 0.000 0.000 0.014 0.083 0.148 0.209 0.267 0.322 0.373 0.421 0.466 0.509 0.549 0.586 0.621 0.654 0.685 0.714 0.741 0.767 0.792 0.815 0.837 0.857 0.877 0.896 0.914 0.931 0.947 0.963 0.978 0.992 1.000 1.000 1.000 1.000 1.000 1.000 1.000 1.000 1.000 1.000 1.000"/></feComponentTransfer>
<feColorMatrix in="SourceGraphic" type="matrix" values="0 1 0 0 0  0 1 0 0 0  0 1 0 0 0  0 0 0 0 1" result="amp"/>
<feColorMatrix in="SourceGraphic" type="matrix" values="1 0 0 0 0  1 0 0 0 0  1 0 0 0 0  0 0 0 0 1" result="v"/>
<feComposite in="amp" in2="ng" operator="arithmetic" k1="0.44999999999999996" k2="0" k3="0" k4="0" result="an"/>
<feComposite in="v" in2="an" operator="arithmetic" k1="0" k2="1.25" k3="1" k4="-0.3" result="vv"/>
<feComponentTransfer in="vv">
<feFuncR type="table" tableValues="0.000 0.000 0.000 0.000 0.000 0.000 0.000 0.000 0.000 0.000 0.000 0.000 0.000 0.000 0.000 0.000 0.000 0.000 0.000 0.000 0.000 0.000 0.000 0.000 0.000 0.000 0.000 0.000 0.000 0.035 0.085 0.123 0.161 0.199 0.237 0.288 0.326 0.364 0.402 0.440 0.490 0.528 0.566 0.604 0.642 0.693 0.731 0.769 0.806 0.844 0.895 0.933 0.971 1.000 1.000 1.000 1.000 1.000 1.000 1.000 1.000 1.000 1.000 1.000 1.000 1.000 1.000 1.000 1.000 1.000 1.000 0.999 0.946 0.892 0.839 0.767 0.714 0.660 0.607 0.553 0.500"/>
<feFuncG type="table" tableValues="0.000 0.000 0.000 0.000 0.000 0.000 0.000 0.000 0.000 0.000 0.002 0.049 0.096 0.143 0.190 0.253 0.300 0.347 0.394 0.441 0.504 0.551 0.598 0.645 0.692 0.755 0.802 0.849 0.896 0.943 1.000 1.000 1.000 1.000 1.000 1.000 1.000 1.000 1.000 1.000 1.000 1.000 1.000 1.000 1.000 1.000 1.000 1.000 1.000 1.000 1.000 1.000 0.959 0.916 0.872 0.814 0.771 0.727 0.683 0.640 0.582 0.538 0.495 0.451 0.407 0.349 0.306 0.262 0.219 0.175 0.117 0.073 0.030 0.000 0.000 0.000 0.000 0.000 0.000 0.000 0.000"/>
<feFuncB type="table" tableValues="0.500 0.553 0.607 0.660 0.714 0.785 0.839 0.892 0.946 0.999 1.000 1.000 1.000 1.000 1.000 1.000 1.000 1.000 1.000 1.000 1.000 1.000 1.000 1.000 1.000 1.000 1.000 1.000 0.971 0.933 0.882 0.844 0.806 0.769 0.731 0.680 0.642 0.604 0.566 0.528 0.478 0.440 0.402 0.364 0.326 0.275 0.237 0.199 0.161 0.123 0.073 0.035 0.000 0.000 0.000 0.000 0.000 0.000 0.000 0.000 0.000 0.000 0.000 0.000 0.000 0.000 0.000 0.000 0.000 0.000 0.000 0.000 0.000 0.000 0.000 0.000 0.000 0.000 0.000 0.000 0.000"/>
<feFuncA type="linear" slope="0" intercept="1"/>
</feComponentTransfer>
</filter>
<linearGradient id="cb" x1="0" y1="0" x2="0" y2="1"><stop offset="0.000" stop-color="#800000"/><stop offset="0.020" stop-color="#960000"/><stop offset="0.040" stop-color="#ad0000"/><stop offset="0.060" stop-color="#c40000"/><stop offset="0.080" stop-color="#da0000"/><stop offset="0.100" stop-color="#f10800"/><stop offset="0.120" stop-color="#ff1a00"/><stop offset="0.140" stop-color="#ff2d00"/><stop offset="0.160" stop-color="#ff3f00"/><stop offset="0.180" stop-color="#ff5500"/><stop offset="0.200" stop-color="#ff6800"/><stop offset="0.220" stop-color="#ff7a00"/><stop offset="0.240" stop-color="#ff8d00"/><stop offset="0.260" stop-color="#ff9f00"/><stop offset="0.280" stop-color="#ffb200"/><stop offset="0.300" stop-color="#ffc400"/><stop offset="0.320" stop-color="#ffd700"/><stop offset="0.340" stop-color="#feed00"/><stop offset="0.360" stop-color="#eeff09"/><stop offset="0.380" stop-color="#deff19"/><stop offset="0.400" stop-color="#ceff29"/><stop offset="0.420" stop-color="#beff39"/><stop offset="0.440" stop-color="#adff49"/><stop offset="0.460" stop-color="#9dff5a"/><stop offset="0.480" stop-color="#8dff6a"/><stop offset="0.500" stop-color="#7dff7a"/><stop offset="0.520" stop-color="#6aff8d"/><stop offset="0.540" stop-color="#5aff9d"/><stop offset="0.560" stop-color="#49ffad"/><stop offset="0.580" stop-color="#39ffbe"/><stop offset="0.600" stop-color="#29ffce"/><stop offset="0.620" stop-color="#19ffde"/><stop offset="0.640" stop-color="#09f0ee"/><stop offset="0.660" stop-color="#00dcfe"/><stop offset="0.680" stop-color="#00c4ff"/><stop offset="0.700" stop-color="#00b0ff"/><stop offset="0.720" stop-color="#009cff"/><stop offset="0.740" stop-color="#0088ff"/><stop offset="0.760" stop-color="#0074ff"/><stop offset="0.780" stop-color="#0060ff"/><stop offset="0.800" stop-color="#004cff"/><stop offset="0.820" stop-color="#0038ff"/><stop offset="0.840" stop-color="#0020ff"/><stop offset="0.860" stop-color="#000cff"/><stop offset="0.880" stop-color="#0000ff"/><stop offset="0.900" stop-color="#0000f1"/><stop offset="0.920" stop-color="#0000da"/><stop offset="0.940" stop-color="#0000c4"/><stop offset="0.960" stop-color="#0000ad"/><stop offset="0.980" stop-color="#000096"/><stop offset="1.000" stop-color="#000080"/></linearGradient>
</defs>
<rect width="1050" height="800" fill="#fff"/>
<text x="525" y="26" font-size="12.5">2022-07-13 0.0-24.0</text>
<g filter="url(#f131)" shape-rendering="crispEdges">
<rect x="131" y="80" width="178" height="641" fill="#593300"/>
<rect x="132" y="81" width="112" height="18" fill="url(#g131t1)"/>
<rect x="244" y="81" width="11" height="18" fill="#71cc00"/>
<rect x="255" y="81" width="2" height="18" fill="#5b5500"/>
<rect x="257" y="81" width="12" height="18" fill="#73cc00"/>
<rect x="269" y="81" width="2" height="18" fill="#5b5500"/>
<rect x="271" y="81" width="12" height="18" fill="#7bcc00"/>
<rect x="283" y="81" width="2" height="18" fill="#5b5500"/>
<rect x="285" y="81" width="12" height="18" fill="#79cc00"/>
<rect x="297" y="81" width="11" height="18" fill="#555500"/>
<rect x="132" y="101" width="112" height="4" fill="#3b9900"/>
<rect x="244" y="101" width="11" height="4" fill="#5da800"/>
<rect x="255" y="101" width="2" height="4" fill="#3e9900"/>
<rect x="257" y="101" width="12" height="4" fill="#59a800"/>
<rect x="269" y="101" width="2" height="4" fill="#3e9900"/>
<rect x="271" y="101" width="12" height="4" fill="#51a800"/>
<rect x="283" y="101" width="2" height="4" fill="#3e9900"/>
<rect x="285" y="101" width="12" height="4" fill="#4da800"/>
<rect x="297" y="101" width="11" height="4" fill="#389900"/>
<rect x="132" y="106" width="112" height="5" fill="#3b9900"/>
<rect x="244" y="106" width="11" height="5" fill="#5da800"/>
<rect x="255" y="106" width="2" height="5" fill="#3e9900"/>
<rect x="257" y="106" width="12" height="5" fill="#59a800"/>
<rect x="269" y="106" width="2" height="5" fill="#3e9900"/>
<rect x="271" y="106" width="12" height="5" fill="#51a800"/>
<rect x="283" y="106" width="2" height="5" fill="#3e9900"/>
<rect x="285" y="106" width="12" height="5" fill="#4da800"/>
<rect x="297" y="106" width="11" height="5" fill="#389900"/>
<rect x="132" y="113" width="112" height="3" fill="#4f7700"/>
<rect x="244" y="113" width="11" height="3" fill="#7b8300"/>
<rect x="255" y="113" width="2" height="3" fill="#4d7700"/>
<rect x="257" y="113" width="12" height="3" fill="#6f8300"/>
<rect x="269" y="113" width="2" height="3" fill="#4d7700"/>
<rect x="271" y="113" width="12" height="3" fill="#668300"/>
<rect x="283" y="113" width="2" height="3" fill="#4d7700"/>
<rect x="285" y="113" width="12" height="3" fill="#608300"/>
<rect x="297" y="113" width="11" height="3" fill="#497700"/>
<rect x="132" y="117" width="112" height="1" fill="#537700"/>
<rect x="244" y="117" width="11" height="1" fill="#7b8300"/>
<rect x="255" y="117" width="2" height="1" fill="#517700"/>
<rect x="257" y="117" width="12" height="1" fill="#6b8300"/>
<rect x="269" y="117" width="2" height="1" fill="#517700"/>
<rect x="271" y="117" width="12" height="1" fill="#648300"/>
<rect x="283" y="117" width="2" height="1" fill="#517700"/>
<rect x="285" y="117" width="12" height="1" fill="#608300"/>
<rect x="297" y="117" width="11" height="1" fill="#4d7700"/>
<rect x="132" y="119" width="112" height="1" fill="#537700"/>
<rect x="244" y="119" width="11" height="1" fill="#7b8300"/>
<rect x="255" y="119" width="2" height="1" fill="#517700"/>
<rect x="257" y="119" width="12" height="1" fill="#6b8300"/>
<rect x="269" y="119" width="2" height="1" fill="#517700"/>
<rect x="271" y="119" width="12" height="1" fill="#648300"/>
<rect x="283" y="119" width="2" height="1" fill="#517700"/>
<rect x="285" y="119" width="12" height="1" fill="#608300"/>
<rect x="297" y="119" width="11" height="1" fill="#4d7700"/>
<rect x="132" y="121" width="112" height="9" fill="url(#g131t5)"/>
<rect x="244" y="121" width="11" height="9" fill="#7d7000"/>
<rect x="255" y="121" width="2" height="9" fill="#5b6600"/>
<rect x="257" y="121" width="12" height="9" fill="#637000"/>
<rect x="269" y="121" width="2" height="9" fill="#5b6600"/>
<rect x="271" y="121" width="12" height="9" fill="#5d7000"/>
<rect x="283" y="121" width="2" height="9" fill="#5b6600"/>
<rect x="285" y="121" width="12" height="9" fill="#617000"/>
<rect x="297" y="121" width="11" height="9" fill="#576600"/>
<rect x="132" y="131" width="112" height="2" fill="url(#g131t6)"/>
<rect x="244" y="131" width="11" height="2" fill="#617000"/>
<rect x="255" y="131" width="2" height="2" fill="#5d6600"/>
<rect x="257" y="131" width="12" height="2" fill="#5f7000"/>
<rect x="269" y="131" width="2" height="2" fill="#5d6600"/>
<rect x="271" y="131" width="12" height="2" fill="#5f7000"/>
<rect x="283" y="131" width="2" height="2" fill="#5d6600"/>
<rect x="285" y="131" width="12" height="2" fill="#5d7000"/>
<rect x="297" y="131" width="11" height="2" fill="#596600"/>
<rect x="132" y="134" width="112" height="1" fill="url(#g131t6)"/>
<rect x="244" y="134" width="11" height="1" fill="#617000"/>
<rect x="255" y="134" width="2" height="1" fill="#5d6600"/>
<rect x="257" y="134" width="12" height="1" fill="#5f7000"/>
<rect x="269" y="134" width="2" height="1" fill="#5d6600"/>
<rect x="271" y="134" width="12" height="1" fill="#5f7000"/>
<rect x="283" y="134" width="2" height="1" fill="#5d6600"/>
<rect x="285" y="134" width="12" height="1" fill="#5d7000"/>
<rect x="297" y="134" width="11" height="1" fill="#596600"/>
<rect x="132" y="137" width="112" height="2" fill="url(#g131t6)"/>
<rect x="244" y="137" width="11" height="2" fill="#617000"/>
<rect x="255" y="137" width="2" height="2" fill="#5d6600"/>
<rect x="257" y="137" width="12" height="2" fill="#5f7000"/>
<rect x="269" y="137" width="2" height="2" fill="#5d6600"/>
<rect x="271" y="137" width="12" height="2" fill="#5f7000"/>
<rect x="283" y="137" width="2" height="2" fill="#5d6600"/>
<rect x="285" y="137" width="12" height="2" fill="#5d7000"/>
<rect x="297" y="137" width="11" height="2" fill="#596600"/>
<rect x="132" y="140" width="112" height="2" fill="url(#g131t6)"/>
<rect x="244" y="140" width="11" height="2" fill="#617000"/>
<rect x="255" y="140" width="2" height="2" fill="#5d6600"/>
<rect x="257" y="140" width="12" height="2" fill="#5f7000"/>
<rect x="269" y="140" width="2" height="2" fill="#5d6600"/>
<rect x="271" y="140" width="12" height="2" fill="#5f7000"/>
<rect x="283" y="140" width="2" height="2" fill="#5d6600"/>
<rect x="285" y="140" width="12" height="2" fill="#5d7000"/>
<rect x="297" y="140" width="11" height="2" fill="#596600"/>
<rect x="132" y="143" width="112" height="3" fill="#557700"/>
<rect x="244" y="143" width="11" height="3" fill="#568300"/>
<rect x="255" y="143" width="2" height="3" fill="#557700"/>
<rect x="257" y="143" width="12" height="3" fill="#568300"/>
<rect x="269" y="143" width="2" height="3" fill="#557700"/>
<rect x="271" y="143" width="12" height="3" fill="#548300"/>
<rect x="283" y="143" width="2" height="3" fill="#557700"/>
<rect x="285" y="143" width="12" height="3" fill="#528300"/>
<rect x="297" y="143" width="11" height="3" fill="#517700"/>
<rect x="132" y="147" width="112" height="3" fill="#517700"/>
<rect x="244" y="147" width="11" height="3" fill="#528300"/>
<rect x="255" y="147" width="2" height="3" fill="#517700"/>
<rect x="257" y="147" width="12" height="3" fill="#528300"/>
<rect x="269" y="147" width="2" height="3" fill="#517700"/>
<rect x="271" y="147" width="12" height="3" fill="#508300"/>
<rect x="283" y="147" width="2" height="3" fill="#517700"/>
<rect x="285" y="147" width="12" height="3" fill="#4e8300"/>
<rect x="297" y="147" width="11" height="3" fill="#4d7700"/>
<rect x="132" y="151" width="112" height="6" fill="url(#g131t9)"/>
<rect x="244" y="151" width="11" height="6" fill="#696900"/>
<rect x="255" y="151" width="2" height="6" fill="#615f00"/>
<rect x="257" y="151" width="12" height="6" fill="#656900"/>
<rect x="269" y="151" width="2" height="6" fill="#615f00"/>
<rect x="271" y="151" width="12" height="6" fill="#636900"/>
<rect x="283" y="151" width="2" height="6" fill="#615f00"/>
<rect x="285" y="151" width="12" height="6" fill="#656900"/>
<rect x="297" y="151" width="11" height="6" fill="#5d5f00"/>
<rect x="132" y="161" width="112" height="3" fill="#4d8800"/>
<rect x="244" y="161" width="11" height="3" fill="#4f9600"/>
<rect x="255" y="161" width="2" height="3" fill="#4d8800"/>
<rect x="257" y="161" width="12" height="3" fill="#4d9600"/>
<rect x="269" y="161" width="2" height="3" fill="#4d8800"/>
<rect x="271" y="161" width="12" height="3" fill="#4b9600"/>
<rect x="283" y="161" width="2" height="3" fill="#4d8800"/>
<rect x="285" y="161" width="12" height="3" fill="#4b9600"/>
<rect x="297" y="161" width="11" height="3" fill="#498800"/>
<rect x="132" y="487" width="112" height="1" fill="#3c9900"/>
<rect x="244" y="487" width="11" height="1" fill="#45a800"/>
<rect x="255" y="487" width="2" height="1" fill="#3c9900"/>
<rect x="257" y="487" width="12" height="1" fill="#45a800"/>
<rect x="269" y="487" width="2" height="1" fill="#3c9900"/>
<rect x="271" y="487" width="12" height="1" fill="#43a800"/>
<rect x="283" y="487" width="2" height="1" fill="#3c9900"/>
<rect x="285" y="487" width="12" height="1" fill="#41a800"/>
<rect x="297" y="487" width="11" height="1" fill="#389900"/>
<rect x="132" y="489" width="112" height="1" fill="#3c9900"/>
<rect x="244" y="489" width="11" height="1" fill="#45a800"/>
<rect x="255" y="489" width="2" height="1" fill="#3c9900"/>
<rect x="257" y="489" width="12" height="1" fill="#45a800"/>
<rect x="269" y="489" width="2" height="1" fill="#3c9900"/>
<rect x="271" y="489" width="12" height="1" fill="#43a800"/>
<rect x="283" y="489" width="2" height="1" fill="#3c9900"/>
<rect x="285" y="489" width="12" height="1" fill="#41a800"/>
<rect x="297" y="489" width="11" height="1" fill="#389900"/>
<rect x="132" y="491" width="112" height="1" fill="#3c9900"/>
<rect x="244" y="491" width="11" height="1" fill="#45a800"/>
<rect x="255" y="491" width="2" height="1" fill="#3c9900"/>
<rect x="257" y="491" width="12" height="1" fill="#45a800"/>
<rect x="269" y="491" width="2" height="1" fill="#3c9900"/>
<rect x="271" y="491" width="12" height="1" fill="#43a800"/>
<rect x="283" y="491" width="2" height="1" fill="#3c9900"/>
<rect x="285" y="491" width="12" height="1" fill="#41a800"/>
<rect x="297" y="491" width="11" height="1" fill="#389900"/>
<rect x="132" y="493" width="112" height="2" fill="#3c9900"/>
<rect x="244" y="493" width="11" height="2" fill="#45a800"/>
<rect x="255" y="493" width="2" height="2" fill="#3c9900"/>
<rect x="257" y="493" width="12" height="2" fill="#45a800"/>
<rect x="269" y="493" width="2" height="2" fill="#3c9900"/>
<rect x="271" y="493" width="12" height="2" fill="#43a800"/>
<rect x="283" y="493" width="2" height="2" fill="#3c9900"/>
<rect x="285" y="493" width="12" height="2" fill="#41a800"/>
<rect x="297" y="493" width="11" height="2" fill="#389900"/>
<rect x="132" y="500" width="112" height="2" fill="#34aa00"/>
<rect x="244" y="500" width="11" height="2" fill="#38bb00"/>
<rect x="255" y="500" width="2" height="2" fill="#34aa00"/>
<rect x="257" y="500" width="12" height="2" fill="#38bb00"/>
<rect x="269" y="500" width="2" height="2" fill="#34aa00"/>
<rect x="271" y="500" width="12" height="2" fill="#36bb00"/>
<rect x="283" y="500" width="2" height="2" fill="#34aa00"/>
<rect x="285" y="500" width="12" height="2" fill="#36bb00"/>
<rect x="297" y="500" width="11" height="2" fill="#32aa00"/>
<rect x="132" y="505" width="112" height="1" fill="#2e9900"/>
<rect x="244" y="505" width="11" height="1" fill="#2ea800"/>
<rect x="255" y="505" width="2" height="1" fill="#2e9900"/>
<rect x="257" y="505" width="12" height="1" fill="#2ea800"/>
<rect x="269" y="505" width="2" height="1" fill="#2e9900"/>
<rect x="271" y="505" width="12" height="1" fill="#2ea800"/>
<rect x="283" y="505" width="2" height="1" fill="#2e9900"/>
<rect x="285" y="505" width="12" height="1" fill="#2ca800"/>
<rect x="297" y="505" width="11" height="1" fill="#2c9900"/>
<rect x="132" y="509" width="112" height="3" fill="#34aa00"/>
<rect x="244" y="509" width="11" height="3" fill="#38bb00"/>
<rect x="255" y="509" width="2" height="3" fill="#34aa00"/>
<rect x="257" y="509" width="12" height="3" fill="#38bb00"/>
<rect x="269" y="509" width="2" height="3" fill="#34aa00"/>
<rect x="271" y="509" width="12" height="3" fill="#36bb00"/>
<rect x="283" y="509" width="2" height="3" fill="#34aa00"/>
<rect x="285" y="509" width="12" height="3" fill="#36bb00"/>
<rect x="297" y="509" width="11" height="3" fill="#32aa00"/>
<rect x="132" y="513" width="112" height="2" fill="#38aa00"/>
<rect x="244" y="513" width="11" height="2" fill="#4cbb00"/>
<rect x="255" y="513" width="2" height="2" fill="#3aaa00"/>
<rect x="257" y="513" width="12" height="2" fill="#48bb00"/>
<rect x="269" y="513" width="2" height="2" fill="#3aaa00"/>
<rect x="271" y="513" width="12" height="2" fill="#44bb00"/>
<rect x="283" y="513" width="2" height="2" fill="#3aaa00"/>
<rect x="285" y="513" width="12" height="2" fill="#42bb00"/>
<rect x="297" y="513" width="11" height="2" fill="#36aa00"/>
<rect x="132" y="516" width="112" height="1" fill="#2e9900"/>
<rect x="244" y="516" width="11" height="1" fill="#2ea800"/>
<rect x="255" y="516" width="2" height="1" fill="#2e9900"/>
<rect x="257" y="516" width="12" height="1" fill="#2ea800"/>
<rect x="269" y="516" width="2" height="1" fill="#2e9900"/>
<rect x="271" y="516" width="12" height="1" fill="#2ea800"/>
<rect x="283" y="516" width="2" height="1" fill="#2e9900"/>
<rect x="285" y="516" width="12" height="1" fill="#2ca800"/>
<rect x="297" y="516" width="11" height="1" fill="#2c9900"/>
<rect x="132" y="520" width="112" height="1" fill="#34aa00"/>
<rect x="244" y="520" width="11" height="1" fill="#38bb00"/>
<rect x="255" y="520" width="2" height="1" fill="#34aa00"/>
<rect x="257" y="520" width="12" height="1" fill="#38bb00"/>
<rect x="269" y="520" width="2" height="1" fill="#34aa00"/>
<rect x="271" y="520" width="12" height="1" fill="#36bb00"/>
<rect x="283" y="520" width="2" height="1" fill="#34aa00"/>
<rect x="285" y="520" width="12" height="1" fill="#36bb00"/>
<rect x="297" y="520" width="11" height="1" fill="#32aa00"/>
<rect x="132" y="523" width="112" height="1" fill="#2e9900"/>
<rect x="244" y="523" width="11" height="1" fill="#2ea800"/>
<rect x="255" y="523" width="2" height="1" fill="#2e9900"/>
<rect x="257" y="523" width="12" height="1" fill="#2ea800"/>
<rect x="269" y="523" width="2" height="1" fill="#2e9900"/>
<rect x="271" y="523" width="12" height="1" fill="#2ea800"/>
<rect x="283" y="523" width="2" height="1" fill="#2e9900"/>
<rect x="285" y="523" width="12" height="1" fill="#2ca800"/>
<rect x="297" y="523" width="11" height="1" fill="#2c9900"/>
<rect x="132" y="526" width="112" height="2" fill="#38aa00"/>
<rect x="244" y="526" width="11" height="2" fill="#4cbb00"/>
<rect x="255" y="526" width="2" height="2" fill="#3aaa00"/>
<rect x="257" y="526" width="12" height="2" fill="#48bb00"/>
<rect x="269" y="526" width="2" height="2" fill="#3aaa00"/>
<rect x="271" y="526" width="12" height="2" fill="#44bb00"/>
<rect x="283" y="526" width="2" height="2" fill="#3aaa00"/>
<rect x="285" y="526" width="12" height="2" fill="#42bb00"/>
<rect x="297" y="526" width="11" height="2" fill="#36aa00"/>
<rect x="132" y="530" width="112" height="1" fill="#34aa00"/>
<rect x="244" y="530" width="11" height="1" fill="#38bb00"/>
<rect x="255" y="530" width="2" height="1" fill="#34aa00"/>
<rect x="257" y="530" width="12" height="1" fill="#38bb00"/>
<rect x="269" y="530" width="2" height="1" fill="#34aa00"/>
<rect x="271" y="530" width="12" height="1" fill="#36bb00"/>
<rect x="283" y="530" width="2" height="1" fill="#34aa00"/>
<rect x="285" y="530" width="12" height="1" fill="#36bb00"/>
<rect x="297" y="530" width="11" height="1" fill="#32aa00"/>
<rect x="132" y="532" width="112" height="2" fill="#38aa00"/>
<rect x="244" y="532" width="11" height="2" fill="#4cbb00"/>
<rect x="255" y="532" width="2" height="2" fill="#3aaa00"/>
<rect x="257" y="532" width="12" height="2" fill="#48bb00"/>
<rect x="269" y="532" width="2" height="2" fill="#3aaa00"/>
<rect x="271" y="532" width="12" height="2" fill="#44bb00"/>
<rect x="283" y="532" width="2" height="2" fill="#3aaa00"/>
<rect x="285" y="532" width="12" height="2" fill="#42bb00"/>
<rect x="297" y="532" width="11" height="2" fill="#36aa00"/>
<rect x="132" y="536" width="112" height="2" fill="#34aa00"/>
<rect x="244" y="536" width="11" height="2" fill="#38bb00"/>
<rect x="255" y="536" width="2" height="2" fill="#34aa00"/>
<rect x="257" y="536" width="12" height="2" fill="#38bb00"/>
<rect x="269" y="536" width="2" height="2" fill="#34aa00"/>
<rect x="271" y="536" width="12" height="2" fill="#36bb00"/>
<rect x="283" y="536" width="2" height="2" fill="#34aa00"/>
<rect x="285" y="536" width="12" height="2" fill="#36bb00"/>
<rect x="297" y="536" width="11" height="2" fill="#32aa00"/>
<rect x="132" y="541" width="112" height="1" fill="#2e9900"/>
<rect x="244" y="541" width="11" height="1" fill="#2ea800"/>
<rect x="255" y="541" width="2" height="1" fill="#2e9900"/>
<rect x="257" y="541" width="12" height="1" fill="#2ea800"/>
<rect x="269" y="541" width="2" height="1" fill="#2e9900"/>
<rect x="271" y="541" width="12" height="1" fill="#2ea800"/>
<rect x="283" y="541" width="2" height="1" fill="#2e9900"/>
<rect x="285" y="541" width="12" height="1" fill="#2ca800"/>
<rect x="297" y="541" width="11" height="1" fill="#2c9900"/>
<rect x="132" y="544" width="112" height="2" fill="#498800"/>
<rect x="244" y="544" width="11" height="2" fill="#529600"/>
<rect x="255" y="544" width="2" height="2" fill="#498800"/>
<rect x="257" y="544" width="12" height="2" fill="#4f9600"/>
<rect x="269" y="544" width="2" height="2" fill="#498800"/>
<rect x="271" y="544" width="12" height="2" fill="#4d9600"/>
<rect x="283" y="544" width="2" height="2" fill="#498800"/>
<rect x="285" y="544" width="12" height="2" fill="#4b9600"/>
<rect x="297" y="544" width="11" height="2" fill="#458800"/>
<rect x="132" y="548" width="112" height="1" fill="#2e9900"/>
<rect x="244" y="548" width="11" height="1" fill="#2ea800"/>
<rect x="255" y="548" width="2" height="1" fill="#2e9900"/>
<rect x="257" y="548" width="12" height="1" fill="#2ea800"/>
<rect x="269" y="548" width="2" height="1" fill="#2e9900"/>
<rect x="271" y="548" width="12" height="1" fill="#2ea800"/>
<rect x="283" y="548" width="2" height="1" fill="#2e9900"/>
<rect x="285" y="548" width="12" height="1" fill="#2ca800"/>
<rect x="297" y="548" width="11" height="1" fill="#2c9900"/>
<rect x="132" y="553" width="112" height="3" fill="#34aa00"/>
<rect x="244" y="553" width="11" height="3" fill="#38bb00"/>
<rect x="255" y="553" width="2" height="3" fill="#34aa00"/>
<rect x="257" y="553" width="12" height="3" fill="#38bb00"/>
<rect x="269" y="553" width="2" height="3" fill="#34aa00"/>
<rect x="271" y="553" width="12" height="3" fill="#36bb00"/>
<rect x="283" y="553" width="2" height="3" fill="#34aa00"/>
<rect x="285" y="553" width="12" height="3" fill="#36bb00"/>
<rect x="297" y="553" width="11" height="3" fill="#32aa00"/>
<rect x="132" y="557" width="112" height="3" fill="#34aa00"/>
<rect x="244" y="557" width="11" height="3" fill="#38bb00"/>
<rect x="255" y="557" width="2" height="3" fill="#34aa00"/>
<rect x="257" y="557" width="12" height="3" fill="#38bb00"/>
<rect x="269" y="557" width="2" height="3" fill="#34aa00"/>
<rect x="271" y="557" width="12" height="3" fill="#36bb00"/>
<rect x="283" y="557" width="2" height="3" fill="#34aa00"/>
<rect x="285" y="557" width="12" height="3" fill="#36bb00"/>
<rect x="297" y="557" width="11" height="3" fill="#32aa00"/>
<rect x="132" y="564" width="112" height="1" fill="#38aa00"/>
<rect x="244" y="564" width="11" height="1" fill="#4cbb00"/>
<rect x="255" y="564" width="2" height="1" fill="#3aaa00"/>
<rect x="257" y="564" width="12" height="1" fill="#48bb00"/>
<rect x="269" y="564" width="2" height="1" fill="#3aaa00"/>
<rect x="271" y="564" width="12" height="1" fill="#44bb00"/>
<rect x="283" y="564" width="2" height="1" fill="#3aaa00"/>
<rect x="285" y="564" width="12" height="1" fill="#42bb00"/>
<rect x="297" y="564" width="11" height="1" fill="#36aa00"/>
<rect x="132" y="566" width="112" height="3" fill="#38aa00"/>
<rect x="244" y="566" width="11" height="3" fill="#4cbb00"/>
<rect x="255" y="566" width="2" height="3" fill="#3aaa00"/>
<rect x="257" y="566" width="12" height="3" fill="#48bb00"/>
<rect x="269" y="566" width="2" height="3" fill="#3aaa00"/>
<rect x="271" y="566" width="12" height="3" fill="#44bb00"/>
<rect x="283" y="566" width="2" height="3" fill="#3aaa00"/>
<rect x="285" y="566" width="12" height="3" fill="#42bb00"/>
<rect x="297" y="566" width="11" height="3" fill="#36aa00"/>
<rect x="132" y="571" width="112" height="1" fill="#2e9900"/>
<rect x="244" y="571" width="11" height="1" fill="#2ea800"/>
<rect x="255" y="571" width="2" height="1" fill="#2e9900"/>
<rect x="257" y="571" width="12" height="1" fill="#2ea800"/>
<rect x="269" y="571" width="2" height="1" fill="#2e9900"/>
<rect x="271" y="571" width="12" height="1" fill="#2ea800"/>
<rect x="283" y="571" width="2" height="1" fill="#2e9900"/>
<rect x="285" y="571" width="12" height="1" fill="#2ca800"/>
<rect x="297" y="571" width="11" height="1" fill="#2c9900"/>
<rect x="132" y="573" width="112" height="1" fill="#498800"/>
<rect x="244" y="573" width="11" height="1" fill="#529600"/>
<rect x="255" y="573" width="2" height="1" fill="#498800"/>
<rect x="257" y="573" width="12" height="1" fill="#4f9600"/>
<rect x="269" y="573" width="2" height="1" fill="#498800"/>
<rect x="271" y="573" width="12" height="1" fill="#4d9600"/>
<rect x="283" y="573" width="2" height="1" fill="#498800"/>
<rect x="285" y="573" width="12" height="1" fill="#4b9600"/>
<rect x="297" y="573" width="11" height="1" fill="#458800"/>
<rect x="132" y="575" width="112" height="8" fill="#36aa00"/>
<rect x="244" y="575" width="11" height="8" fill="#3ebb00"/>
<rect x="255" y="575" width="2" height="8" fill="#38aa00"/>
<rect x="257" y="575" width="12" height="8" fill="#42bb00"/>
<rect x="269" y="575" width="2" height="8" fill="#38aa00"/>
<rect x="271" y="575" width="12" height="8" fill="#42bb00"/>
<rect x="283" y="575" width="2" height="8" fill="#38aa00"/>
<rect x="285" y="575" width="12" height="8" fill="#40bb00"/>
<rect x="297" y="575" width="11" height="8" fill="#34aa00"/>
<rect x="132" y="584" width="112" height="7" fill="#36aa00"/>
<rect x="244" y="584" width="11" height="7" fill="#3ebb00"/>
<rect x="255" y="584" width="2" height="7" fill="#38aa00"/>
<rect x="257" y="584" width="12" height="7" fill="#42bb00"/>
<rect x="269" y="584" width="2" height="7" fill="#38aa00"/>
<rect x="271" y="584" width="12" height="7" fill="#42bb00"/>
<rect x="283" y="584" width="2" height="7" fill="#38aa00"/>
<rect x="285" y="584" width="12" height="7" fill="#40bb00"/>
<rect x="297" y="584" width="11" height="7" fill="#34aa00"/>
<rect x="132" y="592" width="112" height="3" fill="#34aa00"/>
<rect x="244" y="592" width="11" height="3" fill="#36bb00"/>
<rect x="255" y="592" width="2" height="3" fill="#34aa00"/>
<rect x="257" y="592" width="12" height="3" fill="#36bb00"/>
<rect x="269" y="592" width="2" height="3" fill="#34aa00"/>
<rect x="271" y="592" width="12" height="3" fill="#36bb00"/>
<rect x="283" y="592" width="2" height="3" fill="#34aa00"/>
<rect x="285" y="592" width="12" height="3" fill="#34bb00"/>
<rect x="297" y="592" width="11" height="3" fill="#32aa00"/>
<rect x="132" y="600" width="112" height="3" fill="#34aa00"/>
<rect x="244" y="600" width="11" height="3" fill="#36bb00"/>
<rect x="255" y="600" width="2" height="3" fill="#34aa00"/>
<rect x="257" y="600" width="12" height="3" fill="#36bb00"/>
<rect x="269" y="600" width="2" height="3" fill="#34aa00"/>
<rect x="271" y="600" width="12" height="3" fill="#36bb00"/>
<rect x="283" y="600" width="2" height="3" fill="#34aa00"/>
<rect x="285" y="600" width="12" height="3" fill="#34bb00"/>
<rect x="297" y="600" width="11" height="3" fill="#32aa00"/>
<rect x="132" y="606" width="112" height="6" fill="url(#g131m1)"/>
<rect x="244" y="606" width="11" height="6" fill="#a33a00"/>
<rect x="255" y="606" width="2" height="6" fill="#6a3a00"/>
<rect x="257" y="606" width="12" height="6" fill="#a53a00"/>
<rect x="269" y="606" width="2" height="6" fill="#6a3a00"/>
<rect x="271" y="606" width="12" height="6" fill="#a93a00"/>
<rect x="283" y="606" width="2" height="6" fill="#6a3a00"/>
<rect x="285" y="606" width="12" height="6" fill="#b63a00"/>
<rect x="297" y="606" width="11" height="6" fill="#5c3a00"/>
<rect x="132" y="612" width="112" height="6" fill="url(#g131m2)"/>
<rect x="244" y="612" width="11" height="6" fill="#b23a00"/>
<rect x="255" y="612" width="2" height="6" fill="#6a3a00"/>
<rect x="257" y="612" width="12" height="6" fill="#b83a00"/>
<rect x="269" y="612" width="2" height="6" fill="#6a3a00"/>
<rect x="271" y="612" width="12" height="6" fill="#a33a00"/>
<rect x="283" y="612" width="2" height="6" fill="#6a3a00"/>
<rect x="285" y="612" width="12" height="6" fill="#a53a00"/>
<rect x="297" y="612" width="11" height="6" fill="#5c3a00"/>
<rect x="132" y="618" width="112" height="4" fill="url(#g131m3)"/>
<rect x="244" y="618" width="11" height="4" fill="#ad3a00"/>
<rect x="255" y="618" width="2" height="4" fill="#6a3a00"/>
<rect x="257" y="618" width="12" height="4" fill="#a33a00"/>
<rect x="269" y="618" width="2" height="4" fill="#6a3a00"/>
<rect x="271" y="618" width="12" height="4" fill="#a33a00"/>
<rect x="283" y="618" width="2" height="4" fill="#6a3a00"/>
<rect x="285" y="618" width="12" height="4" fill="#a53a00"/>
<rect x="297" y="618" width="11" height="4" fill="#5c3a00"/>
<rect x="132" y="623" width="112" height="2" fill="url(#g131m4)"/>
<rect x="244" y="623" width="11" height="2" fill="#c63300"/>
<rect x="255" y="623" width="2" height="2" fill="#703300"/>
<rect x="257" y="623" width="12" height="2" fill="#c63300"/>
<rect x="269" y="623" width="2" height="2" fill="#703300"/>
<rect x="271" y="623" width="12" height="2" fill="#a93300"/>
<rect x="283" y="623" width="2" height="2" fill="#703300"/>
<rect x="285" y="623" width="12" height="2" fill="#a93300"/>
<rect x="297" y="623" width="11" height="2" fill="#5e3300"/>
<rect x="132" y="626" width="112" height="1" fill="url(#g131m5)"/>
<rect x="244" y="626" width="11" height="1" fill="#b93300"/>
<rect x="255" y="626" width="2" height="1" fill="#703300"/>
<rect x="257" y="626" width="12" height="1" fill="#b33300"/>
<rect x="269" y="626" width="2" height="1" fill="#703300"/>
<rect x="271" y="626" width="12" height="1" fill="#a93300"/>
<rect x="283" y="626" width="2" height="1" fill="#703300"/>
<rect x="285" y="626" width="12" height="1" fill="#a93300"/>
<rect x="297" y="626" width="11" height="1" fill="#5e3300"/>
<rect x="132" y="628" width="112" height="2" fill="url(#g131m6)"/>
<rect x="244" y="628" width="11" height="2" fill="#af3300"/>
<rect x="255" y="628" width="2" height="2" fill="#703300"/>
<rect x="257" y="628" width="12" height="2" fill="#ca3300"/>
<rect x="269" y="628" width="2" height="2" fill="#703300"/>
<rect x="271" y="628" width="12" height="2" fill="#c63300"/>
<rect x="283" y="628" width="2" height="2" fill="#703300"/>
<rect x="285" y="628" width="12" height="2" fill="#a93300"/>
<rect x="297" y="628" width="11" height="2" fill="#5e3300"/>
<rect x="132" y="632" width="112" height="3" fill="url(#g131m7)"/>
<rect x="244" y="632" width="11" height="3" fill="#ad2c00"/>
<rect x="255" y="632" width="2" height="3" fill="#722c00"/>
<rect x="257" y="632" width="12" height="3" fill="#ad2c00"/>
<rect x="269" y="632" width="2" height="3" fill="#722c00"/>
<rect x="271" y="632" width="12" height="3" fill="#ab2c00"/>
<rect x="283" y="632" width="2" height="3" fill="#722c00"/>
<rect x="285" y="632" width="12" height="3" fill="#a92c00"/>
<rect x="297" y="632" width="11" height="3" fill="#5f2c00"/>
<rect x="132" y="635" width="112" height="4" fill="url(#g131m8)"/>
<rect x="244" y="635" width="11" height="4" fill="#d82c00"/>
<rect x="255" y="635" width="2" height="4" fill="#742c00"/>
<rect x="257" y="635" width="12" height="4" fill="#d12c00"/>
<rect x="269" y="635" width="2" height="4" fill="#742c00"/>
<rect x="271" y="635" width="12" height="4" fill="#c72c00"/>
<rect x="283" y="635" width="2" height="4" fill="#742c00"/>
<rect x="285" y="635" width="12" height="4" fill="#b52c00"/>
<rect x="297" y="635" width="11" height="4" fill="#5f2c00"/>
<rect x="132" y="640" width="112" height="2" fill="url(#g131m9)"/>
<rect x="244" y="640" width="11" height="2" fill="#d32c00"/>
<rect x="255" y="640" width="2" height="2" fill="#742c00"/>
<rect x="257" y="640" width="12" height="2" fill="#c52c00"/>
<rect x="269" y="640" width="2" height="2" fill="#742c00"/>
<rect x="271" y="640" width="12" height="2" fill="#ad2c00"/>
<rect x="283" y="640" width="2" height="2" fill="#742c00"/>
<rect x="285" y="640" width="12" height="2" fill="#a92c00"/>
<rect x="297" y="640" width="11" height="2" fill="#5f2c00"/>
<rect x="132" y="643" width="112" height="3" fill="url(#g131m10)"/>
<rect x="244" y="643" width="11" height="3" fill="#c92c00"/>
<rect x="255" y="643" width="2" height="3" fill="#742c00"/>
<rect x="257" y="643" width="12" height="3" fill="#b92c00"/>
<rect x="269" y="643" width="2" height="3" fill="#742c00"/>
<rect x="271" y="643" width="12" height="3" fill="#ad2c00"/>
<rect x="283" y="643" width="2" height="3" fill="#742c00"/>
<rect x="285" y="643" width="12" height="3" fill="#c72c00"/>
<rect x="297" y="643" width="11" height="3" fill="#5f2c00"/>
<rect x="132" y="646" width="112" height="5" fill="url(#g131m11)"/>
<rect x="244" y="646" width="11" height="5" fill="#d82c00"/>
<rect x="255" y="646" width="2" height="5" fill="#742c00"/>
<rect x="257" y="646" width="12" height="5" fill="#cf2c00"/>
<rect x="269" y="646" width="2" height="5" fill="#742c00"/>
<rect x="271" y="646" width="12" height="5" fill="#ad2c00"/>
<rect x="283" y="646" width="2" height="5" fill="#742c00"/>
<rect x="285" y="646" width="12" height="5" fill="#b12c00"/>
<rect x="297" y="646" width="11" height="5" fill="#5f2c00"/>
<rect x="132" y="652" width="112" height="2" fill="url(#g131m12)"/>
<rect x="244" y="652" width="11" height="2" fill="#bc3a00"/>
<rect x="255" y="652" width="2" height="2" fill="#6c3a00"/>
<rect x="257" y="652" width="12" height="2" fill="#a93a00"/>
<rect x="269" y="652" width="2" height="2" fill="#6c3a00"/>
<rect x="271" y="652" width="12" height="2" fill="#ad3a00"/>
<rect x="283" y="652" width="2" height="2" fill="#6c3a00"/>
<rect x="285" y="652" width="12" height="2" fill="#a93a00"/>
<rect x="297" y="652" width="11" height="2" fill="#5a3a00"/>
<rect x="132" y="654" width="112" height="9" fill="url(#g131m13)"/>
<rect x="244" y="654" width="11" height="9" fill="#994b00"/>
<rect x="255" y="654" width="2" height="9" fill="#624b00"/>
<rect x="257" y="654" width="12" height="9" fill="#a74b00"/>
<rect x="269" y="654" width="2" height="9" fill="#624b00"/>
<rect x="271" y="654" width="12" height="9" fill="#a74b00"/>
<rect x="283" y="654" width="2" height="9" fill="#624b00"/>
<rect x="285" y="654" width="12" height="9" fill="#a34b00"/>
<rect x="297" y="654" width="11" height="9" fill="#524b00"/>
<rect x="132" y="665" width="112" height="3" fill="#517700"/>
<rect x="244" y="665" width="11" height="3" fill="#548300"/>
<rect x="255" y="665" width="2" height="3" fill="#517700"/>
<rect x="257" y="665" width="12" height="3" fill="#548300"/>
<rect x="269" y="665" width="2" height="3" fill="#517700"/>
<rect x="271" y="665" width="12" height="3" fill="#548300"/>
<rect x="283" y="665" width="2" height="3" fill="#517700"/>
<rect x="285" y="665" width="12" height="3" fill="#528300"/>
<rect x="297" y="665" width="11" height="3" fill="#4d7700"/>
<rect x="132" y="669" width="112" height="4" fill="#35aa00"/>
<rect x="244" y="669" width="11" height="4" fill="#36bb00"/>
<rect x="255" y="669" width="2" height="4" fill="#35aa00"/>
<rect x="257" y="669" width="12" height="4" fill="#36bb00"/>
<rect x="269" y="669" width="2" height="4" fill="#35aa00"/>
<rect x="271" y="669" width="12" height="4" fill="#36bb00"/>
<rect x="283" y="669" width="2" height="4" fill="#35aa00"/>
<rect x="285" y="669" width="12" height="4" fill="#34bb00"/>
<rect x="297" y="669" width="11" height="4" fill="#34aa00"/>
<rect x="132" y="674" width="112" height="5" fill="#35aa00"/>
<rect x="244" y="674" width="11" height="5" fill="#36bb00"/>
<rect x="255" y="674" width="2" height="5" fill="#35aa00"/>
<rect x="257" y="674" width="12" height="5" fill="#36bb00"/>
<rect x="269" y="674" width="2" height="5" fill="#35aa00"/>
<rect x="271" y="674" width="12" height="5" fill="#36bb00"/>
<rect x="283" y="674" width="2" height="5" fill="#35aa00"/>
<rect x="285" y="674" width="12" height="5" fill="#34bb00"/>
<rect x="297" y="674" width="11" height="5" fill="#34aa00"/>
<rect x="132" y="682" width="112" height="2" fill="#35aa00"/>
<rect x="244" y="682" width="11" height="2" fill="#36bb00"/>
<rect x="255" y="682" width="2" height="2" fill="#35aa00"/>
<rect x="257" y="682" width="12" height="2" fill="#36bb00"/>
<rect x="269" y="682" width="2" height="2" fill="#35aa00"/>
<rect x="271" y="682" width="12" height="2" fill="#36bb00"/>
<rect x="283" y="682" width="2" height="2" fill="#35aa00"/>
<rect x="285" y="682" width="12" height="2" fill="#34bb00"/>
<rect x="297" y="682" width="11" height="2" fill="#34aa00"/>
<rect x="132" y="691" width="112" height="4" fill="url(#g131d1)"/>
<rect x="244" y="691" width="11" height="4" fill="#a36600"/>
<rect x="255" y="691" width="2" height="4" fill="#6b3d00"/>
<rect x="257" y="691" width="12" height="4" fill="#966600"/>
<rect x="269" y="691" width="2" height="4" fill="#6b3d00"/>
<rect x="271" y="691" width="12" height="4" fill="#966600"/>
<rect x="283" y="691" width="2" height="4" fill="#6b3d00"/>
<rect x="285" y="691" width="12" height="4" fill="#926600"/>
<rect x="297" y="691" width="11" height="4" fill="#5b3d00"/>
<rect x="132" y="696" width="112" height="3" fill="url(#g131d2)"/>
<rect x="244" y="696" width="11" height="3" fill="#7fbe00"/>
<rect x="255" y="696" width="2" height="3" fill="#577700"/>
<rect x="257" y="696" width="12" height="3" fill="#6cbe00"/>
<rect x="269" y="696" width="2" height="3" fill="#577700"/>
<rect x="271" y="696" width="12" height="3" fill="#74be00"/>
<rect x="283" y="696" width="2" height="3" fill="#577700"/>
<rect x="285" y="696" width="12" height="3" fill="#70be00"/>
<rect x="297" y="696" width="11" height="3" fill="#497700"/>
<rect x="132" y="700" width="112" height="7" fill="url(#g131d3)"/>
<rect x="244" y="700" width="11" height="7" fill="#6d9900"/>
<rect x="255" y="700" width="2" height="7" fill="#6b3d00"/>
<rect x="257" y="700" width="12" height="7" fill="#5d9900"/>
<rect x="269" y="700" width="2" height="7" fill="#6b3d00"/>
<rect x="271" y="700" width="12" height="7" fill="#639900"/>
<rect x="283" y="700" width="2" height="7" fill="#6b3d00"/>
<rect x="285" y="700" width="12" height="7" fill="#639900"/>
<rect x="297" y="700" width="11" height="7" fill="#5b3d00"/>
<rect x="132" y="708" width="112" height="4" fill="url(#g131d4)"/>
<rect x="244" y="708" width="11" height="4" fill="#7a8800"/>
<rect x="255" y="708" width="2" height="4" fill="#6a4400"/>
<rect x="257" y="708" width="12" height="4" fill="#828800"/>
<rect x="269" y="708" width="2" height="4" fill="#6a4400"/>
<rect x="271" y="708" width="12" height="4" fill="#868800"/>
<rect x="283" y="708" width="2" height="4" fill="#6a4400"/>
<rect x="285" y="708" width="12" height="4" fill="#828800"/>
<rect x="297" y="708" width="11" height="4" fill="#574400"/>
<rect x="132" y="715" width="112" height="1" fill="url(#g131e1)"/>
<rect x="244" y="715" width="11" height="1" fill="#6e4b00"/>
<rect x="255" y="715" width="2" height="1" fill="#704400"/>
<rect x="257" y="715" width="12" height="1" fill="#6e4b00"/>
<rect x="269" y="715" width="2" height="1" fill="#704400"/>
<rect x="271" y="715" width="12" height="1" fill="#6e4b00"/>
<rect x="283" y="715" width="2" height="1" fill="#704400"/>
<rect x="285" y="715" width="12" height="1" fill="#6c4b00"/>
<rect x="297" y="715" width="11" height="1" fill="#6a4400"/>
<rect x="132" y="717" width="112" height="1" fill="url(#g131e1)"/>
<rect x="244" y="717" width="11" height="1" fill="#6e4b00"/>
<rect x="255" y="717" width="2" height="1" fill="#704400"/>
<rect x="257" y="717" width="12" height="1" fill="#6e4b00"/>
<rect x="269" y="717" width="2" height="1" fill="#704400"/>
<rect x="271" y="717" width="12" height="1" fill="#6e4b00"/>
<rect x="283" y="717" width="2" height="1" fill="#704400"/>
<rect x="285" y="717" width="12" height="1" fill="#6c4b00"/>
<rect x="297" y="717" width="11" height="1" fill="#6a4400"/>
<rect x="132" y="719" width="112" height="1" fill="url(#g131e1)"/>
<rect x="244" y="719" width="11" height="1" fill="#6e4b00"/>
<rect x="255" y="719" width="2" height="1" fill="#704400"/>
<rect x="257" y="719" width="12" height="1" fill="#6e4b00"/>
<rect x="269" y="719" width="2" height="1" fill="#704400"/>
<rect x="271" y="719" width="12" height="1" fill="#6e4b00"/>
<rect x="283" y="719" width="2" height="1" fill="#704400"/>
<rect x="285" y="719" width="12" height="1" fill="#6c4b00"/>
<rect x="297" y="719" width="11" height="1" fill="#6a4400"/>
</g>
<path d="M131 105h177v1h-177zM131 111h177v2h-177zM131 118h177v1h-177zM131 120h177v1h-177zM131 130h177v1h-177zM131 133h177v1h-177zM131 135h177v2h-177zM131 139h177v1h-177zM131 142h177v1h-177zM131 167h177v320h-177zM131 488h177v1h-177zM131 490h177v1h-177zM131 492h177v1h-177zM131 495h177v5h-177zM131 517h177v1h-177zM131 521h177v1h-177zM131 529h177v1h-177zM131 563h177v1h-177zM131 595h177v5h-177zM131 603h177v1h-177zM131 622h177v1h-177zM131 625h177v1h-177zM131 627h177v1h-177zM131 630h177v2h-177zM131 639h177v1h-177zM131 642h177v1h-177zM131 651h177v1h-177zM131 664h177v1h-177zM131 673h177v1h-177zM131 679h177v2h-177zM131 685h177v6h-177zM131 695h177v1h-177zM131 699h177v1h-177zM131 707h177v1h-177zM131 714h177v1h-177zM131 716h177v1h-177zM131 718h177v1h-177z" fill="#fff" shape-rendering="crispEdges"/>
<path d="M131 99h177v2h-177zM131 116h177v1h-177zM131 146h177v1h-177zM131 150h177v1h-177zM131 157h177v4h-177zM131 164h177v3h-177zM131 502h177v3h-177zM131 506h177v3h-177zM131 512h177v1h-177zM131 515h177v1h-177zM131 518h177v2h-177zM131 522h177v1h-177zM131 524h177v2h-177zM131 528h177v1h-177zM131 531h177v1h-177zM131 534h177v2h-177zM131 538h177v3h-177zM131 542h177v2h-177zM131 546h177v2h-177zM131 549h177v4h-177zM131 556h177v1h-177zM131 560h177v3h-177zM131 565h177v1h-177zM131 569h177v2h-177zM131 572h177v1h-177zM131 574h177v1h-177zM131 583h177v1h-177zM131 591h177v1h-177zM131 604h177v2h-177zM131 663h177v1h-177zM131 668h177v1h-177zM131 681h177v1h-177zM131 684h177v1h-177zM131 712h177v2h-177z" fill="#000" shape-rendering="crispEdges"/>
<rect x="131.5" y="80.5" width="177" height="640" fill="none" stroke="#000" stroke-opacity="0.17" stroke-width="3"/><rect x="131.5" y="80.5" width="177" height="640" fill="none" stroke="#000" stroke-width="1"/>
<path d="M173.5 720.5v-6.3M173.5 80.5v6.3M214.5 720.5v-6.3M214.5 80.5v6.3M256.5 720.5v-6.3M256.5 80.5v6.3M297.5 720.5v-6.3M297.5 80.5v6.3M131.5 587.5h6.3M308.5 587.5h-6.3M131.5 453.5h6.3M308.5 453.5h-6.3M131.5 320.5h6.3M308.5 320.5h-6.3M131.5 187.5h6.3M308.5 187.5h-6.3" stroke="#000" stroke-width="0.75" fill="none"/>
<text x="130.8" y="736.0" font-size="12.5" text-anchor="middle" letter-spacing="-0.6">320</text>
<text x="172.8" y="736.0" font-size="12.5" text-anchor="middle" letter-spacing="-0.6">335</text>
<text x="213.8" y="736.0" font-size="12.5" text-anchor="middle" letter-spacing="-0.6">350</text>
<text x="255.8" y="736.0" font-size="12.5" text-anchor="middle" letter-spacing="-0.6">365</text>
<text x="296.9" y="736.0" font-size="12.5" text-anchor="middle" letter-spacing="-0.6">380</text>
<text x="126.6" y="723.6" font-size="12.5" text-anchor="end" letter-spacing="-0.6">0</text>
<text x="126.6" y="590.3" font-size="12.5" text-anchor="end" letter-spacing="-0.6">5</text>
<text x="125.5" y="456.9" font-size="12.5" text-anchor="end" letter-spacing="-0.6">10</text>
<text x="125.5" y="323.6" font-size="12.5" text-anchor="end" letter-spacing="-0.6">15</text>
<text x="126.6" y="190.3" font-size="12.5" text-anchor="end" letter-spacing="-0.6">20</text>
<text x="220.9" y="73.2" font-size="15" text-anchor="middle">XX, V0*V14=EA09*EA17</text>
<g filter="url(#f344)" shape-rendering="crispEdges">
<rect x="344" y="80" width="177" height="641" fill="#593300"/>
<rect x="345" y="81" width="111" height="18" fill="url(#g344t1)"/>
<rect x="456" y="81" width="11" height="18" fill="#63dd00"/>
<rect x="467" y="81" width="2" height="18" fill="#585c00"/>
<rect x="469" y="81" width="12" height="18" fill="#67dd00"/>
<rect x="481" y="81" width="2" height="18" fill="#585c00"/>
<rect x="483" y="81" width="13" height="18" fill="#67dd00"/>
<rect x="496" y="81" width="1" height="18" fill="#585c00"/>
<rect x="497" y="81" width="12" height="18" fill="#63dd00"/>
<rect x="509" y="81" width="11" height="18" fill="#525c00"/>
<rect x="345" y="101" width="111" height="4" fill="#38a000"/>
<rect x="456" y="101" width="11" height="4" fill="#4fb000"/>
<rect x="467" y="101" width="2" height="4" fill="#3ba000"/>
<rect x="469" y="101" width="12" height="4" fill="#4fb000"/>
<rect x="481" y="101" width="2" height="4" fill="#3ba000"/>
<rect x="483" y="101" width="13" height="4" fill="#49b000"/>
<rect x="496" y="101" width="1" height="4" fill="#3ba000"/>
<rect x="497" y="101" width="12" height="4" fill="#47b000"/>
<rect x="509" y="101" width="11" height="4" fill="#35a000"/>
<rect x="345" y="106" width="111" height="5" fill="#38a000"/>
<rect x="456" y="106" width="11" height="5" fill="#4fb000"/>
<rect x="467" y="106" width="2" height="5" fill="#3ba000"/>
<rect x="469" y="106" width="12" height="5" fill="#4fb000"/>
<rect x="481" y="106" width="2" height="5" fill="#3ba000"/>
<rect x="483" y="106" width="13" height="5" fill="#49b000"/>
<rect x="496" y="106" width="1" height="5" fill="#3ba000"/>
<rect x="497" y="106" width="12" height="5" fill="#47b000"/>
<rect x="509" y="106" width="11" height="5" fill="#35a000"/>
<rect x="345" y="113" width="111" height="3" fill="#4c7e00"/>
<rect x="456" y="113" width="11" height="3" fill="#718a00"/>
<rect x="467" y="113" width="2" height="3" fill="#4a7e00"/>
<rect x="469" y="113" width="12" height="3" fill="#6d8a00"/>
<rect x="481" y="113" width="2" height="3" fill="#4a7e00"/>
<rect x="483" y="113" width="13" height="3" fill="#698a00"/>
<rect x="496" y="113" width="1" height="3" fill="#4a7e00"/>
<rect x="497" y="113" width="12" height="3" fill="#5c8a00"/>
<rect x="509" y="113" width="11" height="3" fill="#457e00"/>
<rect x="345" y="117" width="111" height="1" fill="#507e00"/>
<rect x="456" y="117" width="11" height="1" fill="#698a00"/>
<rect x="467" y="117" width="2" height="1" fill="#4e7e00"/>
<rect x="469" y="117" width="12" height="1" fill="#5c8a00"/>
<rect x="481" y="117" width="2" height="1" fill="#4e7e00"/>
<rect x="483" y="117" width="13" height="1" fill="#588a00"/>
<rect x="496" y="117" width="1" height="1" fill="#4e7e00"/>
<rect x="497" y="117" width="12" height="1" fill="#5c8a00"/>
<rect x="509" y="117" width="11" height="1" fill="#4a7e00"/>
<rect x="345" y="119" width="111" height="1" fill="#507e00"/>
<rect x="456" y="119" width="11" height="1" fill="#698a00"/>
<rect x="467" y="119" width="2" height="1" fill="#4e7e00"/>
<rect x="469" y="119" width="12" height="1" fill="#5c8a00"/>
<rect x="481" y="119" width="2" height="1" fill="#4e7e00"/>
<rect x="483" y="119" width="13" height="1" fill="#588a00"/>
<rect x="496" y="119" width="1" height="1" fill="#4e7e00"/>
<rect x="497" y="119" width="12" height="1" fill="#5c8a00"/>
<rect x="509" y="119" width="11" height="1" fill="#4a7e00"/>
<rect x="345" y="121" width="111" height="9" fill="url(#g344t5)"/>
<rect x="456" y="121" width="11" height="9" fill="#6d7800"/>
<rect x="467" y="121" width="2" height="9" fill="#586d00"/>
<rect x="469" y="121" width="12" height="9" fill="#5b7800"/>
<rect x="481" y="121" width="2" height="9" fill="#586d00"/>
<rect x="483" y="121" width="13" height="9" fill="#597800"/>
<rect x="496" y="121" width="1" height="9" fill="#586d00"/>
<rect x="497" y="121" width="12" height="9" fill="#617800"/>
<rect x="509" y="121" width="11" height="9" fill="#546d00"/>
<rect x="345" y="131" width="111" height="2" fill="url(#g344t6)"/>
<rect x="456" y="131" width="11" height="2" fill="#5b7800"/>
<rect x="467" y="131" width="2" height="2" fill="#5a6d00"/>
<rect x="469" y="131" width="12" height="2" fill="#5b7800"/>
<rect x="481" y="131" width="2" height="2" fill="#5a6d00"/>
<rect x="483" y="131" width="13" height="2" fill="#597800"/>
<rect x="496" y="131" width="1" height="2" fill="#5a6d00"/>
<rect x="497" y="131" width="12" height="2" fill="#597800"/>
<rect x="509" y="131" width="11" height="2" fill="#566d00"/>
<rect x="345" y="134" width="111" height="1" fill="url(#g344t6)"/>
<rect x="456" y="134" width="11" height="1" fill="#5b7800"/>
<rect x="467" y="134" width="2" height="1" fill="#5a6d00"/>
<rect x="469" y="134" width="12" height="1" fill="#5b7800"/>
<rect x="481" y="134" width="2" height="1" fill="#5a6d00"/>
<rect x="483" y="134" width="13" height="1" fill="#597800"/>
<rect x="496" y="134" width="1" height="1" fill="#5a6d00"/>
<rect x="497" y="134" width="12" height="1" fill="#597800"/>
<rect x="509" y="134" width="11" height="1" fill="#566d00"/>
<rect x="345" y="137" width="111" height="2" fill="url(#g344t6)"/>
<rect x="456" y="137" width="11" height="2" fill="#5b7800"/>
<rect x="467" y="137" width="2" height="2" fill="#5a6d00"/>
<rect x="469" y="137" width="12" height="2" fill="#5b7800"/>
<rect x="481" y="137" width="2" height="2" fill="#5a6d00"/>
<rect x="483" y="137" width="13" height="2" fill="#597800"/>
<rect x="496" y="137" width="1" height="2" fill="#5a6d00"/>
<rect x="497" y="137" width="12" height="2" fill="#597800"/>
<rect x="509" y="137" width="11" height="2" fill="#566d00"/>
<rect x="345" y="140" width="111" height="2" fill="url(#g344t6)"/>
<rect x="456" y="140" width="11" height="2" fill="#5b7800"/>
<rect x="467" y="140" width="2" height="2" fill="#5a6d00"/>
<rect x="469" y="140" width="12" height="2" fill="#5b7800"/>
<rect x="481" y="140" width="2" height="2" fill="#5a6d00"/>
<rect x="483" y="140" width="13" height="2" fill="#597800"/>
<rect x="496" y="140" width="1" height="2" fill="#5a6d00"/>
<rect x="497" y="140" width="12" height="2" fill="#597800"/>
<rect x="509" y="140" width="11" height="2" fill="#566d00"/>
<rect x="345" y="143" width="111" height="3" fill="#527e00"/>
<rect x="456" y="143" width="11" height="3" fill="#508a00"/>
<rect x="467" y="143" width="2" height="3" fill="#527e00"/>
<rect x="469" y="143" width="12" height="3" fill="#508a00"/>
<rect x="481" y="143" width="2" height="3" fill="#527e00"/>
<rect x="483" y="143" width="13" height="3" fill="#4e8a00"/>
<rect x="496" y="143" width="1" height="3" fill="#527e00"/>
<rect x="497" y="143" width="12" height="3" fill="#4c8a00"/>
<rect x="509" y="143" width="11" height="3" fill="#4e7e00"/>
<rect x="345" y="147" width="111" height="3" fill="#4e7e00"/>
<rect x="456" y="147" width="11" height="3" fill="#4c8a00"/>
<rect x="467" y="147" width="2" height="3" fill="#4e7e00"/>
<rect x="469" y="147" width="12" height="3" fill="#4c8a00"/>
<rect x="481" y="147" width="2" height="3" fill="#4e7e00"/>
<rect x="483" y="147" width="13" height="3" fill="#4a8a00"/>
<rect x="496" y="147" width="1" height="3" fill="#4e7e00"/>
<rect x="497" y="147" width="12" height="3" fill="#488a00"/>
<rect x="509" y="147" width="11" height="3" fill="#4a7e00"/>
<rect x="345" y="151" width="111" height="6" fill="url(#g344t9)"/>
<rect x="456" y="151" width="11" height="6" fill="#657000"/>
<rect x="467" y="151" width="2" height="6" fill="#5e6600"/>
<rect x="469" y="151" width="12" height="6" fill="#617000"/>
<rect x="481" y="151" width="2" height="6" fill="#5e6600"/>
<rect x="483" y="151" width="13" height="6" fill="#5f7000"/>
<rect x="496" y="151" width="1" height="6" fill="#5e6600"/>
<rect x="497" y="151" width="12" height="6" fill="#5f7000"/>
<rect x="509" y="151" width="11" height="6" fill="#5a6600"/>
<rect x="345" y="161" width="111" height="3" fill="#498f00"/>
<rect x="456" y="161" width="11" height="3" fill="#499d00"/>
<rect x="467" y="161" width="2" height="3" fill="#498f00"/>
<rect x="469" y="161" width="12" height="3" fill="#479d00"/>
<rect x="481" y="161" width="2" height="3" fill="#498f00"/>
<rect x="483" y="161" width="13" height="3" fill="#459d00"/>
<rect x="496" y="161" width="1" height="3" fill="#498f00"/>
<rect x="497" y="161" width="12" height="3" fill="#459d00"/>
<rect x="509" y="161" width="11" height="3" fill="#458f00"/>
<rect x="345" y="487" width="111" height="1" fill="#39a000"/>
<rect x="456" y="487" width="11" height="1" fill="#3fb000"/>
<rect x="467" y="487" width="2" height="1" fill="#39a000"/>
<rect x="469" y="487" width="12" height="1" fill="#3fb000"/>
<rect x="481" y="487" width="2" height="1" fill="#39a000"/>
<rect x="483" y="487" width="13" height="1" fill="#3db000"/>
<rect x="496" y="487" width="1" height="1" fill="#39a000"/>
<rect x="497" y="487" width="12" height="1" fill="#3bb000"/>
<rect x="509" y="487" width="11" height="1" fill="#35a000"/>
<rect x="345" y="489" width="111" height="1" fill="#39a000"/>
<rect x="456" y="489" width="11" height="1" fill="#3fb000"/>
<rect x="467" y="489" width="2" height="1" fill="#39a000"/>
<rect x="469" y="489" width="12" height="1" fill="#3fb000"/>
<rect x="481" y="489" width="2" height="1" fill="#39a000"/>
<rect x="483" y="489" width="13" height="1" fill="#3db000"/>
<rect x="496" y="489" width="1" height="1" fill="#39a000"/>
<rect x="497" y="489" width="12" height="1" fill="#3bb000"/>
<rect x="509" y="489" width="11" height="1" fill="#35a000"/>
<rect x="345" y="491" width="111" height="1" fill="#39a000"/>
<rect x="456" y="491" width="11" height="1" fill="#3fb000"/>
<rect x="467" y="491" width="2" height="1" fill="#39a000"/>
<rect x="469" y="491" width="12" height="1" fill="#3fb000"/>
<rect x="481" y="491" width="2" height="1" fill="#39a000"/>
<rect x="483" y="491" width="13" height="1" fill="#3db000"/>
<rect x="496" y="491" width="1" height="1" fill="#39a000"/>
<rect x="497" y="491" width="12" height="1" fill="#3bb000"/>
<rect x="509" y="491" width="11" height="1" fill="#35a000"/>
<rect x="345" y="493" width="111" height="2" fill="#39a000"/>
<rect x="456" y="493" width="11" height="2" fill="#3fb000"/>
<rect x="467" y="493" width="2" height="2" fill="#39a000"/>
<rect x="469" y="493" width="12" height="2" fill="#3fb000"/>
<rect x="481" y="493" width="2" height="2" fill="#39a000"/>
<rect x="483" y="493" width="13" height="2" fill="#3db000"/>
<rect x="496" y="493" width="1" height="2" fill="#39a000"/>
<rect x="497" y="493" width="12" height="2" fill="#3bb000"/>
<rect x="509" y="493" width="11" height="2" fill="#35a000"/>
<rect x="345" y="500" width="111" height="2" fill="#31b100"/>
<rect x="456" y="500" width="11" height="2" fill="#33c200"/>
<rect x="467" y="500" width="2" height="2" fill="#31b100"/>
<rect x="469" y="500" width="12" height="2" fill="#33c200"/>
<rect x="481" y="500" width="2" height="2" fill="#31b100"/>
<rect x="483" y="500" width="13" height="2" fill="#31c200"/>
<rect x="496" y="500" width="1" height="2" fill="#31b100"/>
<rect x="497" y="500" width="12" height="2" fill="#31c200"/>
<rect x="509" y="500" width="11" height="2" fill="#2fb100"/>
<rect x="345" y="505" width="111" height="1" fill="#2ba000"/>
<rect x="456" y="505" width="11" height="1" fill="#2ab000"/>
<rect x="467" y="505" width="2" height="1" fill="#2ba000"/>
<rect x="469" y="505" width="12" height="1" fill="#2ab000"/>
<rect x="481" y="505" width="2" height="1" fill="#2ba000"/>
<rect x="483" y="505" width="13" height="1" fill="#2ab000"/>
<rect x="496" y="505" width="1" height="1" fill="#2ba000"/>
<rect x="497" y="505" width="12" height="1" fill="#28b000"/>
<rect x="509" y="505" width="11" height="1" fill="#29a000"/>
<rect x="345" y="509" width="111" height="3" fill="#31b100"/>
<rect x="456" y="509" width="11" height="3" fill="#33c200"/>
<rect x="467" y="509" width="2" height="3" fill="#31b100"/>
<rect x="469" y="509" width="12" height="3" fill="#33c200"/>
<rect x="481" y="509" width="2" height="3" fill="#31b100"/>
<rect x="483" y="509" width="13" height="3" fill="#31c200"/>
<rect x="496" y="509" width="1" height="3" fill="#31b100"/>
<rect x="497" y="509" width="12" height="3" fill="#31c200"/>
<rect x="509" y="509" width="11" height="3" fill="#2fb100"/>
<rect x="345" y="513" width="111" height="2" fill="#35b100"/>
<rect x="456" y="513" width="11" height="2" fill="#46c200"/>
<rect x="467" y="513" width="2" height="2" fill="#37b100"/>
<rect x="469" y="513" width="12" height="2" fill="#42c200"/>
<rect x="481" y="513" width="2" height="2" fill="#37b100"/>
<rect x="483" y="513" width="13" height="2" fill="#3ec200"/>
<rect x="496" y="513" width="1" height="2" fill="#37b100"/>
<rect x="497" y="513" width="12" height="2" fill="#3cc200"/>
<rect x="509" y="513" width="11" height="2" fill="#33b100"/>
<rect x="345" y="516" width="111" height="1" fill="#2ba000"/>
<rect x="456" y="516" width="11" height="1" fill="#2ab000"/>
<rect x="467" y="516" width="2" height="1" fill="#2ba000"/>
<rect x="469" y="516" width="12" height="1" fill="#2ab000"/>
<rect x="481" y="516" width="2" height="1" fill="#2ba000"/>
<rect x="483" y="516" width="13" height="1" fill="#2ab000"/>
<rect x="496" y="516" width="1" height="1" fill="#2ba000"/>
<rect x="497" y="516" width="12" height="1" fill="#28b000"/>
<rect x="509" y="516" width="11" height="1" fill="#29a000"/>
<rect x="345" y="520" width="111" height="1" fill="#31b100"/>
<rect x="456" y="520" width="11" height="1" fill="#33c200"/>
<rect x="467" y="520" width="2" height="1" fill="#31b100"/>
<rect x="469" y="520" width="12" height="1" fill="#33c200"/>
<rect x="481" y="520" width="2" height="1" fill="#31b100"/>
<rect x="483" y="520" width="13" height="1" fill="#31c200"/>
<rect x="496" y="520" width="1" height="1" fill="#31b100"/>
<rect x="497" y="520" width="12" height="1" fill="#31c200"/>
<rect x="509" y="520" width="11" height="1" fill="#2fb100"/>
<rect x="345" y="523" width="111" height="1" fill="#2ba000"/>
<rect x="456" y="523" width="11" height="1" fill="#2ab000"/>
<rect x="467" y="523" width="2" height="1" fill="#2ba000"/>
<rect x="469" y="523" width="12" height="1" fill="#2ab000"/>
<rect x="481" y="523" width="2" height="1" fill="#2ba000"/>
<rect x="483" y="523" width="13" height="1" fill="#2ab000"/>
<rect x="496" y="523" width="1" height="1" fill="#2ba000"/>
<rect x="497" y="523" width="12" height="1" fill="#28b000"/>
<rect x="509" y="523" width="11" height="1" fill="#29a000"/>
<rect x="345" y="526" width="111" height="2" fill="#35b100"/>
<rect x="456" y="526" width="11" height="2" fill="#46c200"/>
<rect x="467" y="526" width="2" height="2" fill="#37b100"/>
<rect x="469" y="526" width="12" height="2" fill="#42c200"/>
<rect x="481" y="526" width="2" height="2" fill="#37b100"/>
<rect x="483" y="526" width="13" height="2" fill="#3ec200"/>
<rect x="496" y="526" width="1" height="2" fill="#37b100"/>
<rect x="497" y="526" width="12" height="2" fill="#3cc200"/>
<rect x="509" y="526" width="11" height="2" fill="#33b100"/>
<rect x="345" y="530" width="111" height="1" fill="#31b100"/>
<rect x="456" y="530" width="11" height="1" fill="#33c200"/>
<rect x="467" y="530" width="2" height="1" fill="#31b100"/>
<rect x="469" y="530" width="12" height="1" fill="#33c200"/>
<rect x="481" y="530" width="2" height="1" fill="#31b100"/>
<rect x="483" y="530" width="13" height="1" fill="#31c200"/>
<rect x="496" y="530" width="1" height="1" fill="#31b100"/>
<rect x="497" y="530" width="12" height="1" fill="#31c200"/>
<rect x="509" y="530" width="11" height="1" fill="#2fb100"/>
<rect x="345" y="532" width="111" height="2" fill="#35b100"/>
<rect x="456" y="532" width="11" height="2" fill="#46c200"/>
<rect x="467" y="532" width="2" height="2" fill="#37b100"/>
<rect x="469" y="532" width="12" height="2" fill="#42c200"/>
<rect x="481" y="532" width="2" height="2" fill="#37b100"/>
<rect x="483" y="532" width="13" height="2" fill="#3ec200"/>
<rect x="496" y="532" width="1" height="2" fill="#37b100"/>
<rect x="497" y="532" width="12" height="2" fill="#3cc200"/>
<rect x="509" y="532" width="11" height="2" fill="#33b100"/>
<rect x="345" y="536" width="111" height="2" fill="#31b100"/>
<rect x="456" y="536" width="11" height="2" fill="#33c200"/>
<rect x="467" y="536" width="2" height="2" fill="#31b100"/>
<rect x="469" y="536" width="12" height="2" fill="#33c200"/>
<rect x="481" y="536" width="2" height="2" fill="#31b100"/>
<rect x="483" y="536" width="13" height="2" fill="#31c200"/>
<rect x="496" y="536" width="1" height="2" fill="#31b100"/>
<rect x="497" y="536" width="12" height="2" fill="#31c200"/>
<rect x="509" y="536" width="11" height="2" fill="#2fb100"/>
<rect x="345" y="541" width="111" height="1" fill="#2ba000"/>
<rect x="456" y="541" width="11" height="1" fill="#2ab000"/>
<rect x="467" y="541" width="2" height="1" fill="#2ba000"/>
<rect x="469" y="541" width="12" height="1" fill="#2ab000"/>
<rect x="481" y="541" width="2" height="1" fill="#2ba000"/>
<rect x="483" y="541" width="13" height="1" fill="#2ab000"/>
<rect x="496" y="541" width="1" height="1" fill="#2ba000"/>
<rect x="497" y="541" width="12" height="1" fill="#28b000"/>
<rect x="509" y="541" width="11" height="1" fill="#29a000"/>
<rect x="345" y="544" width="111" height="2" fill="#458f00"/>
<rect x="456" y="544" width="11" height="2" fill="#4b9d00"/>
<rect x="467" y="544" width="2" height="2" fill="#458f00"/>
<rect x="469" y="544" width="12" height="2" fill="#499d00"/>
<rect x="481" y="544" width="2" height="2" fill="#458f00"/>
<rect x="483" y="544" width="13" height="2" fill="#479d00"/>
<rect x="496" y="544" width="1" height="2" fill="#458f00"/>
<rect x="497" y="544" width="12" height="2" fill="#459d00"/>
<rect x="509" y="544" width="11" height="2" fill="#418f00"/>
<rect x="345" y="548" width="111" height="1" fill="#2ba000"/>
<rect x="456" y="548" width="11" height="1" fill="#2ab000"/>
<rect x="467" y="548" width="2" height="1" fill="#2ba000"/>
<rect x="469" y="548" width="12" height="1" fill="#2ab000"/>
<rect x="481" y="548" width="2" height="1" fill="#2ba000"/>
<rect x="483" y="548" width="13" height="1" fill="#2ab000"/>
<rect x="496" y="548" width="1" height="1" fill="#2ba000"/>
<rect x="497" y="548" width="12" height="1" fill="#28b000"/>
<rect x="509" y="548" width="11" height="1" fill="#29a000"/>
<rect x="345" y="553" width="111" height="3" fill="#31b100"/>
<rect x="456" y="553" width="11" height="3" fill="#33c200"/>
<rect x="467" y="553" width="2" height="3" fill="#31b100"/>
<rect x="469" y="553" width="12" height="3" fill="#33c200"/>
<rect x="481" y="553" width="2" height="3" fill="#31b100"/>
<rect x="483" y="553" width="13" height="3" fill="#31c200"/>
<rect x="496" y="553" width="1" height="3" fill="#31b100"/>
<rect x="497" y="553" width="12" height="3" fill="#31c200"/>
<rect x="509" y="553" width="11" height="3" fill="#2fb100"/>
<rect x="345" y="557" width="111" height="3" fill="#31b100"/>
<rect x="456" y="557" width="11" height="3" fill="#33c200"/>
<rect x="467" y="557" width="2" height="3" fill="#31b100"/>
<rect x="469" y="557" width="12" height="3" fill="#33c200"/>
<rect x="481" y="557" width="2" height="3" fill="#31b100"/>
<rect x="483" y="557" width="13" height="3" fill="#31c200"/>
<rect x="496" y="557" width="1" height="3" fill="#31b100"/>
<rect x="497" y="557" width="12" height="3" fill="#31c200"/>
<rect x="509" y="557" width="11" height="3" fill="#2fb100"/>
<rect x="345" y="564" width="111" height="1" fill="#35b100"/>
<rect x="456" y="564" width="11" height="1" fill="#46c200"/>
<rect x="467" y="564" width="2" height="1" fill="#37b100"/>
<rect x="469" y="564" width="12" height="1" fill="#42c200"/>
<rect x="481" y="564" width="2" height="1" fill="#37b100"/>
<rect x="483" y="564" width="13" height="1" fill="#3ec200"/>
<rect x="496" y="564" width="1" height="1" fill="#37b100"/>
<rect x="497" y="564" width="12" height="1" fill="#3cc200"/>
<rect x="509" y="564" width="11" height="1" fill="#33b100"/>
<rect x="345" y="566" width="111" height="3" fill="#35b100"/>
<rect x="456" y="566" width="11" height="3" fill="#46c200"/>
<rect x="467" y="566" width="2" height="3" fill="#37b100"/>
<rect x="469" y="566" width="12" height="3" fill="#42c200"/>
<rect x="481" y="566" width="2" height="3" fill="#37b100"/>
<rect x="483" y="566" width="13" height="3" fill="#3ec200"/>
<rect x="496" y="566" width="1" height="3" fill="#37b100"/>
<rect x="497" y="566" width="12" height="3" fill="#3cc200"/>
<rect x="509" y="566" width="11" height="3" fill="#33b100"/>
<rect x="345" y="571" width="111" height="1" fill="#2ba000"/>
<rect x="456" y="571" width="11" height="1" fill="#2ab000"/>
<rect x="467" y="571" width="2" height="1" fill="#2ba000"/>
<rect x="469" y="571" width="12" height="1" fill="#2ab000"/>
<rect x="481" y="571" width="2" height="1" fill="#2ba000"/>
<rect x="483" y="571" width="13" height="1" fill="#2ab000"/>
<rect x="496" y="571" width="1" height="1" fill="#2ba000"/>
<rect x="497" y="571" width="12" height="1" fill="#28b000"/>
<rect x="509" y="571" width="11" height="1" fill="#29a000"/>
<rect x="345" y="573" width="111" height="1" fill="#458f00"/>
<rect x="456" y="573" width="11" height="1" fill="#4b9d00"/>
<rect x="467" y="573" width="2" height="1" fill="#458f00"/>
<rect x="469" y="573" width="12" height="1" fill="#499d00"/>
<rect x="481" y="573" width="2" height="1" fill="#458f00"/>
<rect x="483" y="573" width="13" height="1" fill="#479d00"/>
<rect x="496" y="573" width="1" height="1" fill="#458f00"/>
<rect x="497" y="573" width="12" height="1" fill="#459d00"/>
<rect x="509" y="573" width="11" height="1" fill="#418f00"/>
<rect x="345" y="575" width="111" height="8" fill="#33b100"/>
<rect x="456" y="575" width="11" height="8" fill="#39c200"/>
<rect x="467" y="575" width="2" height="8" fill="#35b100"/>
<rect x="469" y="575" width="12" height="8" fill="#3cc200"/>
<rect x="481" y="575" width="2" height="8" fill="#35b100"/>
<rect x="483" y="575" width="13" height="8" fill="#3cc200"/>
<rect x="496" y="575" width="1" height="8" fill="#35b100"/>
<rect x="497" y="575" width="12" height="8" fill="#3ac200"/>
<rect x="509" y="575" width="11" height="8" fill="#31b100"/>
<rect x="345" y="584" width="111" height="7" fill="#33b100"/>
<rect x="456" y="584" width="11" height="7" fill="#39c200"/>
<rect x="467" y="584" width="2" height="7" fill="#35b100"/>
<rect x="469" y="584" width="12" height="7" fill="#3cc200"/>
<rect x="481" y="584" width="2" height="7" fill="#35b100"/>
<rect x="483" y="584" width="13" height="7" fill="#3cc200"/>
<rect x="496" y="584" width="1" height="7" fill="#35b100"/>
<rect x="497" y="584" width="12" height="7" fill="#3ac200"/>
<rect x="509" y="584" width="11" height="7" fill="#31b100"/>
<rect x="345" y="592" width="111" height="3" fill="#31b100"/>
<rect x="456" y="592" width="11" height="3" fill="#31c200"/>
<rect x="467" y="592" width="2" height="3" fill="#31b100"/>
<rect x="469" y="592" width="12" height="3" fill="#31c200"/>
<rect x="481" y="592" width="2" height="3" fill="#31b100"/>
<rect x="483" y="592" width="13" height="3" fill="#31c200"/>
<rect x="496" y="592" width="1" height="3" fill="#31b100"/>
<rect x="497" y="592" width="12" height="3" fill="#2fc200"/>
<rect x="509" y="592" width="11" height="3" fill="#2fb100"/>
<rect x="345" y="600" width="111" height="3" fill="#31b100"/>
<rect x="456" y="600" width="11" height="3" fill="#31c200"/>
<rect x="467" y="600" width="2" height="3" fill="#31b100"/>
<rect x="469" y="600" width="12" height="3" fill="#31c200"/>
<rect x="481" y="600" width="2" height="3" fill="#31b100"/>
<rect x="483" y="600" width="13" height="3" fill="#31c200"/>
<rect x="496" y="600" width="1" height="3" fill="#31b100"/>
<rect x="497" y="600" width="12" height="3" fill="#2fc200"/>
<rect x="509" y="600" width="11" height="3" fill="#2fb100"/>
<rect x="345" y="606" width="111" height="6" fill="url(#g344m1)"/>
<rect x="456" y="606" width="11" height="6" fill="#a44100"/>
<rect x="467" y="606" width="2" height="6" fill="#674100"/>
<rect x="469" y="606" width="12" height="6" fill="#a44100"/>
<rect x="481" y="606" width="2" height="6" fill="#674100"/>
<rect x="483" y="606" width="13" height="6" fill="#994100"/>
<rect x="496" y="606" width="1" height="6" fill="#674100"/>
<rect x="497" y="606" width="12" height="6" fill="#a44100"/>
<rect x="509" y="606" width="11" height="6" fill="#594100"/>
<rect x="345" y="612" width="111" height="6" fill="url(#g344m2)"/>
<rect x="456" y="612" width="11" height="6" fill="#ac4100"/>
<rect x="467" y="612" width="2" height="6" fill="#674100"/>
<rect x="469" y="612" width="12" height="6" fill="#a84100"/>
<rect x="481" y="612" width="2" height="6" fill="#674100"/>
<rect x="483" y="612" width="13" height="6" fill="#b24100"/>
<rect x="496" y="612" width="1" height="6" fill="#674100"/>
<rect x="497" y="612" width="12" height="6" fill="#a84100"/>
<rect x="509" y="612" width="11" height="6" fill="#594100"/>
<rect x="345" y="618" width="111" height="4" fill="url(#g344m3)"/>
<rect x="456" y="618" width="11" height="4" fill="#aa4100"/>
<rect x="467" y="618" width="2" height="4" fill="#674100"/>
<rect x="469" y="618" width="12" height="4" fill="#a64100"/>
<rect x="481" y="618" width="2" height="4" fill="#674100"/>
<rect x="483" y="618" width="13" height="4" fill="#a44100"/>
<rect x="496" y="618" width="1" height="4" fill="#674100"/>
<rect x="497" y="618" width="12" height="4" fill="#a84100"/>
<rect x="509" y="618" width="11" height="4" fill="#594100"/>
<rect x="345" y="623" width="111" height="2" fill="url(#g344m4)"/>
<rect x="456" y="623" width="11" height="2" fill="#c03a00"/>
<rect x="467" y="623" width="2" height="2" fill="#6d3a00"/>
<rect x="469" y="623" width="12" height="2" fill="#b43a00"/>
<rect x="481" y="623" width="2" height="2" fill="#6d3a00"/>
<rect x="483" y="623" width="13" height="2" fill="#a93a00"/>
<rect x="496" y="623" width="1" height="2" fill="#6d3a00"/>
<rect x="497" y="623" width="12" height="2" fill="#ab3a00"/>
<rect x="509" y="623" width="11" height="2" fill="#5a3a00"/>
<rect x="345" y="626" width="111" height="1" fill="url(#g344m5)"/>
<rect x="456" y="626" width="11" height="1" fill="#b83a00"/>
<rect x="467" y="626" width="2" height="1" fill="#6d3a00"/>
<rect x="469" y="626" width="12" height="1" fill="#b03a00"/>
<rect x="481" y="626" width="2" height="1" fill="#6d3a00"/>
<rect x="483" y="626" width="13" height="1" fill="#a93a00"/>
<rect x="496" y="626" width="1" height="1" fill="#6d3a00"/>
<rect x="497" y="626" width="12" height="1" fill="#ab3a00"/>
<rect x="509" y="626" width="11" height="1" fill="#5a3a00"/>
<rect x="345" y="628" width="111" height="2" fill="url(#g344m6)"/>
<rect x="456" y="628" width="11" height="2" fill="#ab3a00"/>
<rect x="467" y="628" width="2" height="2" fill="#6d3a00"/>
<rect x="469" y="628" width="12" height="2" fill="#b03a00"/>
<rect x="481" y="628" width="2" height="2" fill="#6d3a00"/>
<rect x="483" y="628" width="13" height="2" fill="#a93a00"/>
<rect x="496" y="628" width="1" height="2" fill="#6d3a00"/>
<rect x="497" y="628" width="12" height="2" fill="#ab3a00"/>
<rect x="509" y="628" width="11" height="2" fill="#5a3a00"/>
<rect x="345" y="632" width="111" height="3" fill="url(#g344m7)"/>
<rect x="456" y="632" width="11" height="3" fill="#b53300"/>
<rect x="467" y="632" width="2" height="3" fill="#6e3300"/>
<rect x="469" y="632" width="12" height="3" fill="#a73300"/>
<rect x="481" y="632" width="2" height="3" fill="#6e3300"/>
<rect x="483" y="632" width="13" height="3" fill="#9d3300"/>
<rect x="496" y="632" width="1" height="3" fill="#6e3300"/>
<rect x="497" y="632" width="12" height="3" fill="#a13300"/>
<rect x="509" y="632" width="11" height="3" fill="#5c3300"/>
<rect x="345" y="635" width="111" height="4" fill="url(#g344m8)"/>
<rect x="456" y="635" width="11" height="4" fill="#b53300"/>
<rect x="467" y="635" width="2" height="4" fill="#703300"/>
<rect x="469" y="635" width="12" height="4" fill="#a73300"/>
<rect x="481" y="635" width="2" height="4" fill="#703300"/>
<rect x="483" y="635" width="13" height="4" fill="#9f3300"/>
<rect x="496" y="635" width="1" height="4" fill="#703300"/>
<rect x="497" y="635" width="12" height="4" fill="#a13300"/>
<rect x="509" y="635" width="11" height="4" fill="#5c3300"/>
<rect x="345" y="640" width="111" height="2" fill="url(#g344m9)"/>
<rect x="456" y="640" width="11" height="2" fill="#af3300"/>
<rect x="467" y="640" width="2" height="2" fill="#703300"/>
<rect x="469" y="640" width="12" height="2" fill="#a93300"/>
<rect x="481" y="640" width="2" height="2" fill="#703300"/>
<rect x="483" y="640" width="13" height="2" fill="#a73300"/>
<rect x="496" y="640" width="1" height="2" fill="#703300"/>
<rect x="497" y="640" width="12" height="2" fill="#ab3300"/>
<rect x="509" y="640" width="11" height="2" fill="#5c3300"/>
<rect x="345" y="643" width="111" height="3" fill="url(#g344m10)"/>
<rect x="456" y="643" width="11" height="3" fill="#bb3300"/>
<rect x="467" y="643" width="2" height="3" fill="#703300"/>
<rect x="469" y="643" width="12" height="3" fill="#a93300"/>
<rect x="481" y="643" width="2" height="3" fill="#703300"/>
<rect x="483" y="643" width="13" height="3" fill="#b13300"/>
<rect x="496" y="643" width="1" height="3" fill="#703300"/>
<rect x="497" y="643" width="12" height="3" fill="#ad3300"/>
<rect x="509" y="643" width="11" height="3" fill="#5c3300"/>
<rect x="345" y="646" width="111" height="5" fill="url(#g344m11)"/>
<rect x="456" y="646" width="11" height="5" fill="#ad3300"/>
<rect x="467" y="646" width="2" height="5" fill="#703300"/>
<rect x="469" y="646" width="12" height="5" fill="#b53300"/>
<rect x="481" y="646" width="2" height="5" fill="#703300"/>
<rect x="483" y="646" width="13" height="5" fill="#bd3300"/>
<rect x="496" y="646" width="1" height="5" fill="#703300"/>
<rect x="497" y="646" width="12" height="5" fill="#af3300"/>
<rect x="509" y="646" width="11" height="5" fill="#5c3300"/>
<rect x="345" y="652" width="111" height="2" fill="url(#g344m12)"/>
<rect x="456" y="652" width="11" height="2" fill="#a84100"/>
<rect x="467" y="652" width="2" height="2" fill="#694100"/>
<rect x="469" y="652" width="12" height="2" fill="#a64100"/>
<rect x="481" y="652" width="2" height="2" fill="#694100"/>
<rect x="483" y="652" width="13" height="2" fill="#ae4100"/>
<rect x="496" y="652" width="1" height="2" fill="#694100"/>
<rect x="497" y="652" width="12" height="2" fill="#b24100"/>
<rect x="509" y="652" width="11" height="2" fill="#574100"/>
<rect x="345" y="654" width="111" height="9" fill="url(#g344m13)"/>
<rect x="456" y="654" width="11" height="9" fill="#a65200"/>
<rect x="467" y="654" width="2" height="9" fill="#5f5200"/>
<rect x="469" y="654" width="12" height="9" fill="#a15200"/>
<rect x="481" y="654" width="2" height="9" fill="#5f5200"/>
<rect x="483" y="654" width="13" height="9" fill="#aa5200"/>
<rect x="496" y="654" width="1" height="9" fill="#5f5200"/>
<rect x="497" y="654" width="12" height="9" fill="#aa5200"/>
<rect x="509" y="654" width="11" height="9" fill="#4e5200"/>
<rect x="345" y="665" width="111" height="3" fill="#4e7e00"/>
<rect x="456" y="665" width="11" height="3" fill="#4e8a00"/>
<rect x="467" y="665" width="2" height="3" fill="#4e7e00"/>
<rect x="469" y="665" width="12" height="3" fill="#4e8a00"/>
<rect x="481" y="665" width="2" height="3" fill="#4e7e00"/>
<rect x="483" y="665" width="13" height="3" fill="#4e8a00"/>
<rect x="496" y="665" width="1" height="3" fill="#4e7e00"/>
<rect x="497" y="665" width="12" height="3" fill="#4c8a00"/>
<rect x="509" y="665" width="11" height="3" fill="#4a7e00"/>
<rect x="345" y="669" width="111" height="4" fill="#32b100"/>
<rect x="456" y="669" width="11" height="4" fill="#31c200"/>
<rect x="467" y="669" width="2" height="4" fill="#32b100"/>
<rect x="469" y="669" width="12" height="4" fill="#31c200"/>
<rect x="481" y="669" width="2" height="4" fill="#32b100"/>
<rect x="483" y="669" width="13" height="4" fill="#31c200"/>
<rect x="496" y="669" width="1" height="4" fill="#32b100"/>
<rect x="497" y="669" width="12" height="4" fill="#2fc200"/>
<rect x="509" y="669" width="11" height="4" fill="#31b100"/>
<rect x="345" y="674" width="111" height="5" fill="#32b100"/>
<rect x="456" y="674" width="11" height="5" fill="#31c200"/>
<rect x="467" y="674" width="2" height="5" fill="#32b100"/>
<rect x="469" y="674" width="12" height="5" fill="#31c200"/>
<rect x="481" y="674" width="2" height="5" fill="#32b100"/>
<rect x="483" y="674" width="13" height="5" fill="#31c200"/>
<rect x="496" y="674" width="1" height="5" fill="#32b100"/>
<rect x="497" y="674" width="12" height="5" fill="#2fc200"/>
<rect x="509" y="674" width="11" height="5" fill="#31b100"/>
<rect x="345" y="682" width="111" height="2" fill="#32b100"/>
<rect x="456" y="682" width="11" height="2" fill="#31c200"/>
<rect x="467" y="682" width="2" height="2" fill="#32b100"/>
<rect x="469" y="682" width="12" height="2" fill="#31c200"/>
<rect x="481" y="682" width="2" height="2" fill="#32b100"/>
<rect x="483" y="682" width="13" height="2" fill="#31c200"/>
<rect x="496" y="682" width="1" height="2" fill="#32b100"/>
<rect x="497" y="682" width="12" height="2" fill="#2fc200"/>
<rect x="509" y="682" width="11" height="2" fill="#31b100"/>
<rect x="345" y="691" width="111" height="4" fill="url(#g344d1)"/>
<rect x="456" y="691" width="11" height="4" fill="#846600"/>
<rect x="467" y="691" width="2" height="4" fill="#684400"/>
<rect x="469" y="691" width="12" height="4" fill="#806600"/>
<rect x="481" y="691" width="2" height="4" fill="#684400"/>
<rect x="483" y="691" width="13" height="4" fill="#866600"/>
<rect x="496" y="691" width="1" height="4" fill="#684400"/>
<rect x="497" y="691" width="12" height="4" fill="#866600"/>
<rect x="509" y="691" width="11" height="4" fill="#584400"/>
<rect x="345" y="696" width="111" height="3" fill="url(#g344d2)"/>
<rect x="456" y="696" width="11" height="3" fill="#4fc900"/>
<rect x="467" y="696" width="2" height="3" fill="#547e00"/>
<rect x="469" y="696" width="12" height="3" fill="#59c900"/>
<rect x="481" y="696" width="2" height="3" fill="#547e00"/>
<rect x="483" y="696" width="13" height="3" fill="#67c900"/>
<rect x="496" y="696" width="1" height="3" fill="#547e00"/>
<rect x="497" y="696" width="12" height="3" fill="#61c900"/>
<rect x="509" y="696" width="11" height="3" fill="#457e00"/>
<rect x="345" y="700" width="111" height="7" fill="url(#g344d3)"/>
<rect x="456" y="700" width="11" height="7" fill="#4f9900"/>
<rect x="467" y="700" width="2" height="7" fill="#684400"/>
<rect x="469" y="700" width="12" height="7" fill="#4f9900"/>
<rect x="481" y="700" width="2" height="7" fill="#684400"/>
<rect x="483" y="700" width="13" height="7" fill="#5b9900"/>
<rect x="496" y="700" width="1" height="7" fill="#684400"/>
<rect x="497" y="700" width="12" height="7" fill="#5b9900"/>
<rect x="509" y="700" width="11" height="7" fill="#584400"/>
<rect x="345" y="708" width="111" height="4" fill="url(#g344d4)"/>
<rect x="456" y="708" width="11" height="4" fill="#558800"/>
<rect x="467" y="708" width="2" height="4" fill="#664b00"/>
<rect x="469" y="708" width="12" height="4" fill="#598800"/>
<rect x="481" y="708" width="2" height="4" fill="#664b00"/>
<rect x="483" y="708" width="13" height="4" fill="#658800"/>
<rect x="496" y="708" width="1" height="4" fill="#664b00"/>
<rect x="497" y="708" width="12" height="4" fill="#718800"/>
<rect x="509" y="708" width="11" height="4" fill="#544b00"/>
<rect x="345" y="715" width="111" height="1" fill="#684b00"/>
<rect x="456" y="715" width="11" height="1" fill="#665200"/>
<rect x="467" y="715" width="2" height="1" fill="#684b00"/>
<rect x="469" y="715" width="12" height="1" fill="#665200"/>
<rect x="481" y="715" width="2" height="1" fill="#684b00"/>
<rect x="483" y="715" width="13" height="1" fill="#665200"/>
<rect x="496" y="715" width="1" height="1" fill="#684b00"/>
<rect x="497" y="715" width="12" height="1" fill="#665200"/>
<rect x="509" y="715" width="11" height="1" fill="#644b00"/>
<rect x="345" y="717" width="111" height="1" fill="#684b00"/>
<rect x="456" y="717" width="11" height="1" fill="#665200"/>
<rect x="467" y="717" width="2" height="1" fill="#684b00"/>
<rect x="469" y="717" width="12" height="1" fill="#665200"/>
<rect x="481" y="717" width="2" height="1" fill="#684b00"/>
<rect x="483" y="717" width="13" height="1" fill="#665200"/>
<rect x="496" y="717" width="1" height="1" fill="#684b00"/>
<rect x="497" y="717" width="12" height="1" fill="#665200"/>
<rect x="509" y="717" width="11" height="1" fill="#644b00"/>
<rect x="345" y="719" width="111" height="1" fill="#684b00"/>
<rect x="456" y="719" width="11" height="1" fill="#665200"/>
<rect x="467" y="719" width="2" height="1" fill="#684b00"/>
<rect x="469" y="719" width="12" height="1" fill="#665200"/>
<rect x="481" y="719" width="2" height="1" fill="#684b00"/>
<rect x="483" y="719" width="13" height="1" fill="#665200"/>
<rect x="496" y="719" width="1" height="1" fill="#684b00"/>
<rect x="497" y="719" width="12" height="1" fill="#665200"/>
<rect x="509" y="719" width="11" height="1" fill="#644b00"/>
</g>
<path d="M344 105h176v1h-176zM344 111h176v2h-176zM344 118h176v1h-176zM344 120h176v1h-176zM344 130h176v1h-176zM344 133h176v1h-176zM344 135h176v2h-176zM344 139h176v1h-176zM344 142h176v1h-176zM344 167h176v320h-176zM344 488h176v1h-176zM344 490h176v1h-176zM344 492h176v1h-176zM344 495h176v5h-176zM344 517h176v1h-176zM344 521h176v1h-176zM344 529h176v1h-176zM344 563h176v1h-176zM344 595h176v5h-176zM344 603h176v1h-176zM344 622h176v1h-176zM344 625h176v1h-176zM344 627h176v1h-176zM344 630h176v2h-176zM344 639h176v1h-176zM344 642h176v1h-176zM344 651h176v1h-176zM344 664h176v1h-176zM344 673h176v1h-176zM344 679h176v2h-176zM344 685h176v6h-176zM344 695h176v1h-176zM344 699h176v1h-176zM344 707h176v1h-176zM344 714h176v1h-176zM344 716h176v1h-176zM344 718h176v1h-176z" fill="#fff" shape-rendering="crispEdges"/>
<path d="M344 99h176v2h-176zM344 116h176v1h-176zM344 146h176v1h-176zM344 150h176v1h-176zM344 157h176v4h-176zM344 164h176v3h-176zM344 502h176v3h-176zM344 506h176v3h-176zM344 512h176v1h-176zM344 515h176v1h-176zM344 518h176v2h-176zM344 522h176v1h-176zM344 524h176v2h-176zM344 528h176v1h-176zM344 531h176v1h-176zM344 534h176v2h-176zM344 538h176v3h-176zM344 542h176v2h-176zM344 546h176v2h-176zM344 549h176v4h-176zM344 556h176v1h-176zM344 560h176v3h-176zM344 565h176v1h-176zM344 569h176v2h-176zM344 572h176v1h-176zM344 574h176v1h-176zM344 583h176v1h-176zM344 591h176v1h-176zM344 604h176v2h-176zM344 663h176v1h-176zM344 668h176v1h-176zM344 681h176v1h-176zM344 684h176v1h-176zM344 712h176v2h-176z" fill="#000" shape-rendering="crispEdges"/>
<rect x="344.5" y="80.5" width="176" height="640" fill="none" stroke="#000" stroke-opacity="0.17" stroke-width="3"/><rect x="344.5" y="80.5" width="176" height="640" fill="none" stroke="#000" stroke-width="1"/>
<path d="M385.5 720.5v-6.3M385.5 80.5v6.3M426.5 720.5v-6.3M426.5 80.5v6.3M468.5 720.5v-6.3M468.5 80.5v6.3M509.5 720.5v-6.3M509.5 80.5v6.3M344.5 587.5h6.3M520.5 587.5h-6.3M344.5 453.5h6.3M520.5 453.5h-6.3M344.5 320.5h6.3M520.5 320.5h-6.3M344.5 187.5h6.3M520.5 187.5h-6.3" stroke="#000" stroke-width="0.75" fill="none"/>
<text x="343.9" y="736.0" font-size="12.5" text-anchor="middle" letter-spacing="-0.6">320</text>
<text x="384.9" y="736.0" font-size="12.5" text-anchor="middle" letter-spacing="-0.6">335</text>
<text x="425.9" y="736.0" font-size="12.5" text-anchor="middle" letter-spacing="-0.6">350</text>
<text x="467.9" y="736.0" font-size="12.5" text-anchor="middle" letter-spacing="-0.6">365</text>
<text x="508.9" y="736.0" font-size="12.5" text-anchor="middle" letter-spacing="-0.6">380</text>
<text x="339.6" y="723.6" font-size="12.5" text-anchor="end" letter-spacing="-0.6">0</text>
<text x="339.6" y="590.3" font-size="12.5" text-anchor="end" letter-spacing="-0.6">5</text>
<text x="338.5" y="456.9" font-size="12.5" text-anchor="end" letter-spacing="-0.6">10</text>
<text x="338.5" y="323.6" font-size="12.5" text-anchor="end" letter-spacing="-0.6">15</text>
<text x="339.6" y="190.3" font-size="12.5" text-anchor="end" letter-spacing="-0.6">20</text>
<text x="433.2" y="73.2" font-size="15" text-anchor="middle">YY, V0*V14=EA09*EA17</text>
<g filter="url(#f556)" shape-rendering="crispEdges">
<rect x="556" y="80" width="178" height="641" fill="#593300"/>
<rect x="557" y="81" width="112" height="18" fill="url(#g556t1)"/>
<rect x="669" y="81" width="11" height="18" fill="#58ee00"/>
<rect x="680" y="81" width="2" height="18" fill="#3b9900"/>
<rect x="682" y="81" width="12" height="18" fill="#5aee00"/>
<rect x="694" y="81" width="2" height="18" fill="#3b9900"/>
<rect x="696" y="81" width="12" height="18" fill="#54ee00"/>
<rect x="708" y="81" width="2" height="18" fill="#3b9900"/>
<rect x="710" y="81" width="12" height="18" fill="#54ee00"/>
<rect x="722" y="81" width="11" height="18" fill="#3a9900"/>
<rect x="557" y="101" width="112" height="4" fill="#379900"/>
<rect x="669" y="101" width="11" height="4" fill="#4faa00"/>
<rect x="680" y="101" width="2" height="4" fill="#389900"/>
<rect x="682" y="101" width="12" height="4" fill="#4daa00"/>
<rect x="694" y="101" width="2" height="4" fill="#389900"/>
<rect x="696" y="101" width="12" height="4" fill="#44aa00"/>
<rect x="708" y="101" width="2" height="4" fill="#389900"/>
<rect x="710" y="101" width="12" height="4" fill="#44aa00"/>
<rect x="722" y="101" width="11" height="4" fill="#369900"/>
<rect x="557" y="106" width="112" height="5" fill="#379900"/>
<rect x="669" y="106" width="11" height="5" fill="#4faa00"/>
<rect x="680" y="106" width="2" height="5" fill="#389900"/>
<rect x="682" y="106" width="12" height="5" fill="#4daa00"/>
<rect x="694" y="106" width="2" height="5" fill="#389900"/>
<rect x="696" y="106" width="12" height="5" fill="#44aa00"/>
<rect x="708" y="106" width="2" height="5" fill="#389900"/>
<rect x="710" y="106" width="12" height="5" fill="#44aa00"/>
<rect x="722" y="106" width="11" height="5" fill="#369900"/>
<rect x="557" y="113" width="112" height="3" fill="#3a9900"/>
<rect x="669" y="113" width="11" height="3" fill="#5daa00"/>
<rect x="680" y="113" width="2" height="3" fill="#3a9900"/>
<rect x="682" y="113" width="12" height="3" fill="#57aa00"/>
<rect x="694" y="113" width="2" height="3" fill="#3a9900"/>
<rect x="696" y="113" width="12" height="3" fill="#51aa00"/>
<rect x="708" y="113" width="2" height="3" fill="#3a9900"/>
<rect x="710" y="113" width="12" height="3" fill="#4daa00"/>
<rect x="722" y="113" width="11" height="3" fill="#389900"/>
<rect x="557" y="117" width="112" height="1" fill="#3b9900"/>
<rect x="669" y="117" width="11" height="1" fill="#5daa00"/>
<rect x="680" y="117" width="2" height="1" fill="#3b9900"/>
<rect x="682" y="117" width="12" height="1" fill="#4daa00"/>
<rect x="694" y="117" width="2" height="1" fill="#3b9900"/>
<rect x="696" y="117" width="12" height="1" fill="#44aa00"/>
<rect x="708" y="117" width="2" height="1" fill="#3b9900"/>
<rect x="710" y="117" width="12" height="1" fill="#51aa00"/>
<rect x="722" y="117" width="11" height="1" fill="#3a9900"/>
<rect x="557" y="119" width="112" height="1" fill="#3b9900"/>
<rect x="669" y="119" width="11" height="1" fill="#5daa00"/>
<rect x="680" y="119" width="2" height="1" fill="#3b9900"/>
<rect x="682" y="119" width="12" height="1" fill="#4daa00"/>
<rect x="694" y="119" width="2" height="1" fill="#3b9900"/>
<rect x="696" y="119" width="12" height="1" fill="#44aa00"/>
<rect x="708" y="119" width="2" height="1" fill="#3b9900"/>
<rect x="710" y="119" width="12" height="1" fill="#51aa00"/>
<rect x="722" y="119" width="11" height="1" fill="#3a9900"/>
<rect x="557" y="121" width="112" height="9" fill="url(#g556t5)"/>
<rect x="669" y="121" width="11" height="9" fill="#65aa00"/>
<rect x="680" y="121" width="2" height="9" fill="#3c9900"/>
<rect x="682" y="121" width="12" height="9" fill="#42aa00"/>
<rect x="694" y="121" width="2" height="9" fill="#3c9900"/>
<rect x="696" y="121" width="12" height="9" fill="#3caa00"/>
<rect x="708" y="121" width="2" height="9" fill="#3c9900"/>
<rect x="710" y="121" width="12" height="9" fill="#51aa00"/>
<rect x="722" y="121" width="11" height="9" fill="#3b9900"/>
<rect x="557" y="131" width="112" height="2" fill="url(#g556t6)"/>
<rect x="669" y="131" width="11" height="2" fill="#46aa00"/>
<rect x="680" y="131" width="2" height="2" fill="#3d9900"/>
<rect x="682" y="131" width="12" height="2" fill="#4faa00"/>
<rect x="694" y="131" width="2" height="2" fill="#3d9900"/>
<rect x="696" y="131" width="12" height="2" fill="#40aa00"/>
<rect x="708" y="131" width="2" height="2" fill="#3d9900"/>
<rect x="710" y="131" width="12" height="2" fill="#40aa00"/>
<rect x="722" y="131" width="11" height="2" fill="#3c9900"/>
<rect x="557" y="134" width="112" height="1" fill="url(#g556t6)"/>
<rect x="669" y="134" width="11" height="1" fill="#46aa00"/>
<rect x="680" y="134" width="2" height="1" fill="#3d9900"/>
<rect x="682" y="134" width="12" height="1" fill="#4faa00"/>
<rect x="694" y="134" width="2" height="1" fill="#3d9900"/>
<rect x="696" y="134" width="12" height="1" fill="#40aa00"/>
<rect x="708" y="134" width="2" height="1" fill="#3d9900"/>
<rect x="710" y="134" width="12" height="1" fill="#40aa00"/>
<rect x="722" y="134" width="11" height="1" fill="#3c9900"/>
<rect x="557" y="137" width="112" height="2" fill="url(#g556t6)"/>
<rect x="669" y="137" width="11" height="2" fill="#46aa00"/>
<rect x="680" y="137" width="2" height="2" fill="#3d9900"/>
<rect x="682" y="137" width="12" height="2" fill="#4faa00"/>
<rect x="694" y="137" width="2" height="2" fill="#3d9900"/>
<rect x="696" y="137" width="12" height="2" fill="#40aa00"/>
<rect x="708" y="137" width="2" height="2" fill="#3d9900"/>
<rect x="710" y="137" width="12" height="2" fill="#40aa00"/>
<rect x="722" y="137" width="11" height="2" fill="#3c9900"/>
<rect x="557" y="140" width="112" height="2" fill="url(#g556t6)"/>
<rect x="669" y="140" width="11" height="2" fill="#46aa00"/>
<rect x="680" y="140" width="2" height="2" fill="#3d9900"/>
<rect x="682" y="140" width="12" height="2" fill="#4faa00"/>
<rect x="694" y="140" width="2" height="2" fill="#3d9900"/>
<rect x="696" y="140" width="12" height="2" fill="#40aa00"/>
<rect x="708" y="140" width="2" height="2" fill="#3d9900"/>
<rect x="710" y="140" width="12" height="2" fill="#40aa00"/>
<rect x="722" y="140" width="11" height="2" fill="#3c9900"/>
<rect x="557" y="143" width="112" height="3" fill="#3c9900"/>
<rect x="669" y="143" width="11" height="3" fill="#40aa00"/>
<rect x="680" y="143" width="2" height="3" fill="#3c9900"/>
<rect x="682" y="143" width="12" height="3" fill="#40aa00"/>
<rect x="694" y="143" width="2" height="3" fill="#3c9900"/>
<rect x="696" y="143" width="12" height="3" fill="#3eaa00"/>
<rect x="708" y="143" width="2" height="3" fill="#3c9900"/>
<rect x="710" y="143" width="12" height="3" fill="#3eaa00"/>
<rect x="722" y="143" width="11" height="3" fill="#3b9900"/>
<rect x="557" y="147" width="112" height="3" fill="#3b9900"/>
<rect x="669" y="147" width="11" height="3" fill="#3caa00"/>
<rect x="680" y="147" width="2" height="3" fill="#3b9900"/>
<rect x="682" y="147" width="12" height="3" fill="#3caa00"/>
<rect x="694" y="147" width="2" height="3" fill="#3b9900"/>
<rect x="696" y="147" width="12" height="3" fill="#3aaa00"/>
<rect x="708" y="147" width="2" height="3" fill="#3b9900"/>
<rect x="710" y="147" width="12" height="3" fill="#3aaa00"/>
<rect x="722" y="147" width="11" height="3" fill="#3a9900"/>
<rect x="557" y="151" width="112" height="6" fill="url(#g556t9)"/>
<rect x="669" y="151" width="11" height="6" fill="#4faa00"/>
<rect x="680" y="151" width="2" height="6" fill="#3e9900"/>
<rect x="682" y="151" width="12" height="6" fill="#4faa00"/>
<rect x="694" y="151" width="2" height="6" fill="#3e9900"/>
<rect x="696" y="151" width="12" height="6" fill="#3eaa00"/>
<rect x="708" y="151" width="2" height="6" fill="#3e9900"/>
<rect x="710" y="151" width="12" height="6" fill="#4aaa00"/>
<rect x="722" y="151" width="11" height="6" fill="#3c9900"/>
<rect x="557" y="161" width="112" height="3" fill="#3b9900"/>
<rect x="669" y="161" width="11" height="3" fill="#40aa00"/>
<rect x="680" y="161" width="2" height="3" fill="#3b9900"/>
<rect x="682" y="161" width="12" height="3" fill="#40aa00"/>
<rect x="694" y="161" width="2" height="3" fill="#3b9900"/>
<rect x="696" y="161" width="12" height="3" fill="#3caa00"/>
<rect x="708" y="161" width="2" height="3" fill="#3b9900"/>
<rect x="710" y="161" width="12" height="3" fill="#3eaa00"/>
<rect x="722" y="161" width="11" height="3" fill="#3a9900"/>
<rect x="557" y="487" width="112" height="1" fill="#389900"/>
<rect x="669" y="487" width="11" height="1" fill="#3faa00"/>
<rect x="680" y="487" width="2" height="1" fill="#389900"/>
<rect x="682" y="487" width="12" height="1" fill="#3faa00"/>
<rect x="694" y="487" width="2" height="1" fill="#389900"/>
<rect x="696" y="487" width="12" height="1" fill="#3eaa00"/>
<rect x="708" y="487" width="2" height="1" fill="#389900"/>
<rect x="710" y="487" width="12" height="1" fill="#3caa00"/>
<rect x="722" y="487" width="11" height="1" fill="#379900"/>
<rect x="557" y="489" width="112" height="1" fill="#389900"/>
<rect x="669" y="489" width="11" height="1" fill="#3faa00"/>
<rect x="680" y="489" width="2" height="1" fill="#389900"/>
<rect x="682" y="489" width="12" height="1" fill="#3faa00"/>
<rect x="694" y="489" width="2" height="1" fill="#389900"/>
<rect x="696" y="489" width="12" height="1" fill="#3eaa00"/>
<rect x="708" y="489" width="2" height="1" fill="#389900"/>
<rect x="710" y="489" width="12" height="1" fill="#3caa00"/>
<rect x="722" y="489" width="11" height="1" fill="#379900"/>
<rect x="557" y="491" width="112" height="1" fill="#389900"/>
<rect x="669" y="491" width="11" height="1" fill="#3faa00"/>
<rect x="680" y="491" width="2" height="1" fill="#389900"/>
<rect x="682" y="491" width="12" height="1" fill="#3faa00"/>
<rect x="694" y="491" width="2" height="1" fill="#389900"/>
<rect x="696" y="491" width="12" height="1" fill="#3eaa00"/>
<rect x="708" y="491" width="2" height="1" fill="#389900"/>
<rect x="710" y="491" width="12" height="1" fill="#3caa00"/>
<rect x="722" y="491" width="11" height="1" fill="#379900"/>
<rect x="557" y="493" width="112" height="2" fill="#389900"/>
<rect x="669" y="493" width="11" height="2" fill="#3faa00"/>
<rect x="680" y="493" width="2" height="2" fill="#389900"/>
<rect x="682" y="493" width="12" height="2" fill="#3faa00"/>
<rect x="694" y="493" width="2" height="2" fill="#389900"/>
<rect x="696" y="493" width="12" height="2" fill="#3eaa00"/>
<rect x="708" y="493" width="2" height="2" fill="#389900"/>
<rect x="710" y="493" width="12" height="2" fill="#3caa00"/>
<rect x="722" y="493" width="11" height="2" fill="#379900"/>
<rect x="557" y="500" width="112" height="2" fill="#379900"/>
<rect x="669" y="500" width="11" height="2" fill="#38aa00"/>
<rect x="680" y="500" width="2" height="2" fill="#379900"/>
<rect x="682" y="500" width="12" height="2" fill="#38aa00"/>
<rect x="694" y="500" width="2" height="2" fill="#379900"/>
<rect x="696" y="500" width="12" height="2" fill="#36aa00"/>
<rect x="708" y="500" width="2" height="2" fill="#379900"/>
<rect x="710" y="500" width="12" height="2" fill="#36aa00"/>
<rect x="722" y="500" width="11" height="2" fill="#359900"/>
<rect x="557" y="505" width="112" height="1" fill="#2d9900"/>
<rect x="669" y="505" width="11" height="1" fill="#2baa00"/>
<rect x="680" y="505" width="2" height="1" fill="#2d9900"/>
<rect x="682" y="505" width="12" height="1" fill="#2baa00"/>
<rect x="694" y="505" width="2" height="1" fill="#2d9900"/>
<rect x="696" y="505" width="12" height="1" fill="#2baa00"/>
<rect x="708" y="505" width="2" height="1" fill="#2d9900"/>
<rect x="710" y="505" width="12" height="1" fill="#29aa00"/>
<rect x="722" y="505" width="11" height="1" fill="#2b9900"/>
<rect x="557" y="509" width="112" height="3" fill="#379900"/>
<rect x="669" y="509" width="11" height="3" fill="#38aa00"/>
<rect x="680" y="509" width="2" height="3" fill="#379900"/>
<rect x="682" y="509" width="12" height="3" fill="#38aa00"/>
<rect x="694" y="509" width="2" height="3" fill="#379900"/>
<rect x="696" y="509" width="12" height="3" fill="#36aa00"/>
<rect x="708" y="509" width="2" height="3" fill="#379900"/>
<rect x="710" y="509" width="12" height="3" fill="#36aa00"/>
<rect x="722" y="509" width="11" height="3" fill="#359900"/>
<rect x="557" y="513" width="112" height="2" fill="#389900"/>
<rect x="669" y="513" width="11" height="2" fill="#4aaa00"/>
<rect x="680" y="513" width="2" height="2" fill="#389900"/>
<rect x="682" y="513" width="12" height="2" fill="#47aa00"/>
<rect x="694" y="513" width="2" height="2" fill="#389900"/>
<rect x="696" y="513" width="12" height="2" fill="#43aa00"/>
<rect x="708" y="513" width="2" height="2" fill="#389900"/>
<rect x="710" y="513" width="12" height="2" fill="#41aa00"/>
<rect x="722" y="513" width="11" height="2" fill="#379900"/>
<rect x="557" y="516" width="112" height="1" fill="#2d9900"/>
<rect x="669" y="516" width="11" height="1" fill="#2baa00"/>
<rect x="680" y="516" width="2" height="1" fill="#2d9900"/>
<rect x="682" y="516" width="12" height="1" fill="#2baa00"/>
<rect x="694" y="516" width="2" height="1" fill="#2d9900"/>
<rect x="696" y="516" width="12" height="1" fill="#2baa00"/>
<rect x="708" y="516" width="2" height="1" fill="#2d9900"/>
<rect x="710" y="516" width="12" height="1" fill="#29aa00"/>
<rect x="722" y="516" width="11" height="1" fill="#2b9900"/>
<rect x="557" y="520" width="112" height="1" fill="#379900"/>
<rect x="669" y="520" width="11" height="1" fill="#38aa00"/>
<rect x="680" y="520" width="2" height="1" fill="#379900"/>
<rect x="682" y="520" width="12" height="1" fill="#38aa00"/>
<rect x="694" y="520" width="2" height="1" fill="#379900"/>
<rect x="696" y="520" width="12" height="1" fill="#36aa00"/>
<rect x="708" y="520" width="2" height="1" fill="#379900"/>
<rect x="710" y="520" width="12" height="1" fill="#36aa00"/>
<rect x="722" y="520" width="11" height="1" fill="#359900"/>
<rect x="557" y="523" width="112" height="1" fill="#2d9900"/>
<rect x="669" y="523" width="11" height="1" fill="#2baa00"/>
<rect x="680" y="523" width="2" height="1" fill="#2d9900"/>
<rect x="682" y="523" width="12" height="1" fill="#2baa00"/>
<rect x="694" y="523" width="2" height="1" fill="#2d9900"/>
<rect x="696" y="523" width="12" height="1" fill="#2baa00"/>
<rect x="708" y="523" width="2" height="1" fill="#2d9900"/>
<rect x="710" y="523" width="12" height="1" fill="#29aa00"/>
<rect x="722" y="523" width="11" height="1" fill="#2b9900"/>
<rect x="557" y="526" width="112" height="2" fill="#389900"/>
<rect x="669" y="526" width="11" height="2" fill="#4aaa00"/>
<rect x="680" y="526" width="2" height="2" fill="#389900"/>
<rect x="682" y="526" width="12" height="2" fill="#47aa00"/>
<rect x="694" y="526" width="2" height="2" fill="#389900"/>
<rect x="696" y="526" width="12" height="2" fill="#43aa00"/>
<rect x="708" y="526" width="2" height="2" fill="#389900"/>
<rect x="710" y="526" width="12" height="2" fill="#41aa00"/>
<rect x="722" y="526" width="11" height="2" fill="#379900"/>
<rect x="557" y="530" width="112" height="1" fill="#379900"/>
<rect x="669" y="530" width="11" height="1" fill="#38aa00"/>
<rect x="680" y="530" width="2" height="1" fill="#379900"/>
<rect x="682" y="530" width="12" height="1" fill="#38aa00"/>
<rect x="694" y="530" width="2" height="1" fill="#379900"/>
<rect x="696" y="530" width="12" height="1" fill="#36aa00"/>
<rect x="708" y="530" width="2" height="1" fill="#379900"/>
<rect x="710" y="530" width="12" height="1" fill="#36aa00"/>
<rect x="722" y="530" width="11" height="1" fill="#359900"/>
<rect x="557" y="532" width="112" height="2" fill="#389900"/>
<rect x="669" y="532" width="11" height="2" fill="#4aaa00"/>
<rect x="680" y="532" width="2" height="2" fill="#389900"/>
<rect x="682" y="532" width="12" height="2" fill="#47aa00"/>
<rect x="694" y="532" width="2" height="2" fill="#389900"/>
<rect x="696" y="532" width="12" height="2" fill="#43aa00"/>
<rect x="708" y="532" width="2" height="2" fill="#389900"/>
<rect x="710" y="532" width="12" height="2" fill="#41aa00"/>
<rect x="722" y="532" width="11" height="2" fill="#379900"/>
<rect x="557" y="536" width="112" height="2" fill="#379900"/>
<rect x="669" y="536" width="11" height="2" fill="#38aa00"/>
<rect x="680" y="536" width="2" height="2" fill="#379900"/>
<rect x="682" y="536" width="12" height="2" fill="#38aa00"/>
<rect x="694" y="536" width="2" height="2" fill="#379900"/>
<rect x="696" y="536" width="12" height="2" fill="#36aa00"/>
<rect x="708" y="536" width="2" height="2" fill="#379900"/>
<rect x="710" y="536" width="12" height="2" fill="#36aa00"/>
<rect x="722" y="536" width="11" height="2" fill="#359900"/>
<rect x="557" y="541" width="112" height="1" fill="#2d9900"/>
<rect x="669" y="541" width="11" height="1" fill="#2baa00"/>
<rect x="680" y="541" width="2" height="1" fill="#2d9900"/>
<rect x="682" y="541" width="12" height="1" fill="#2baa00"/>
<rect x="694" y="541" width="2" height="1" fill="#2d9900"/>
<rect x="696" y="541" width="12" height="1" fill="#2baa00"/>
<rect x="708" y="541" width="2" height="1" fill="#2d9900"/>
<rect x="710" y="541" width="12" height="1" fill="#29aa00"/>
<rect x="722" y="541" width="11" height="1" fill="#2b9900"/>
<rect x="557" y="544" width="112" height="2" fill="#399900"/>
<rect x="669" y="544" width="11" height="2" fill="#47aa00"/>
<rect x="680" y="544" width="2" height="2" fill="#399900"/>
<rect x="682" y="544" width="12" height="2" fill="#45aa00"/>
<rect x="694" y="544" width="2" height="2" fill="#399900"/>
<rect x="696" y="544" width="12" height="2" fill="#43aa00"/>
<rect x="708" y="544" width="2" height="2" fill="#399900"/>
<rect x="710" y="544" width="12" height="2" fill="#41aa00"/>
<rect x="722" y="544" width="11" height="2" fill="#389900"/>
<rect x="557" y="548" width="112" height="1" fill="#2d9900"/>
<rect x="669" y="548" width="11" height="1" fill="#2baa00"/>
<rect x="680" y="548" width="2" height="1" fill="#2d9900"/>
<rect x="682" y="548" width="12" height="1" fill="#2baa00"/>
<rect x="694" y="548" width="2" height="1" fill="#2d9900"/>
<rect x="696" y="548" width="12" height="1" fill="#2baa00"/>
<rect x="708" y="548" width="2" height="1" fill="#2d9900"/>
<rect x="710" y="548" width="12" height="1" fill="#29aa00"/>
<rect x="722" y="548" width="11" height="1" fill="#2b9900"/>
<rect x="557" y="553" width="112" height="3" fill="#379900"/>
<rect x="669" y="553" width="11" height="3" fill="#38aa00"/>
<rect x="680" y="553" width="2" height="3" fill="#379900"/>
<rect x="682" y="553" width="12" height="3" fill="#38aa00"/>
<rect x="694" y="553" width="2" height="3" fill="#379900"/>
<rect x="696" y="553" width="12" height="3" fill="#36aa00"/>
<rect x="708" y="553" width="2" height="3" fill="#379900"/>
<rect x="710" y="553" width="12" height="3" fill="#36aa00"/>
<rect x="722" y="553" width="11" height="3" fill="#359900"/>
<rect x="557" y="557" width="112" height="3" fill="#379900"/>
<rect x="669" y="557" width="11" height="3" fill="#38aa00"/>
<rect x="680" y="557" width="2" height="3" fill="#379900"/>
<rect x="682" y="557" width="12" height="3" fill="#38aa00"/>
<rect x="694" y="557" width="2" height="3" fill="#379900"/>
<rect x="696" y="557" width="12" height="3" fill="#36aa00"/>
<rect x="708" y="557" width="2" height="3" fill="#379900"/>
<rect x="710" y="557" width="12" height="3" fill="#36aa00"/>
<rect x="722" y="557" width="11" height="3" fill="#359900"/>
<rect x="557" y="564" width="112" height="1" fill="#389900"/>
<rect x="669" y="564" width="11" height="1" fill="#4aaa00"/>
<rect x="680" y="564" width="2" height="1" fill="#389900"/>
<rect x="682" y="564" width="12" height="1" fill="#47aa00"/>
<rect x="694" y="564" width="2" height="1" fill="#389900"/>
<rect x="696" y="564" width="12" height="1" fill="#43aa00"/>
<rect x="708" y="564" width="2" height="1" fill="#389900"/>
<rect x="710" y="564" width="12" height="1" fill="#41aa00"/>
<rect x="722" y="564" width="11" height="1" fill="#379900"/>
<rect x="557" y="566" width="112" height="3" fill="#389900"/>
<rect x="669" y="566" width="11" height="3" fill="#4aaa00"/>
<rect x="680" y="566" width="2" height="3" fill="#389900"/>
<rect x="682" y="566" width="12" height="3" fill="#47aa00"/>
<rect x="694" y="566" width="2" height="3" fill="#389900"/>
<rect x="696" y="566" width="12" height="3" fill="#43aa00"/>
<rect x="708" y="566" width="2" height="3" fill="#389900"/>
<rect x="710" y="566" width="12" height="3" fill="#41aa00"/>
<rect x="722" y="566" width="11" height="3" fill="#379900"/>
<rect x="557" y="571" width="112" height="1" fill="#2d9900"/>
<rect x="669" y="571" width="11" height="1" fill="#2baa00"/>
<rect x="680" y="571" width="2" height="1" fill="#2d9900"/>
<rect x="682" y="571" width="12" height="1" fill="#2baa00"/>
<rect x="694" y="571" width="2" height="1" fill="#2d9900"/>
<rect x="696" y="571" width="12" height="1" fill="#2baa00"/>
<rect x="708" y="571" width="2" height="1" fill="#2d9900"/>
<rect x="710" y="571" width="12" height="1" fill="#29aa00"/>
<rect x="722" y="571" width="11" height="1" fill="#2b9900"/>
<rect x="557" y="573" width="112" height="1" fill="#399900"/>
<rect x="669" y="573" width="11" height="1" fill="#47aa00"/>
<rect x="680" y="573" width="2" height="1" fill="#399900"/>
<rect x="682" y="573" width="12" height="1" fill="#45aa00"/>
<rect x="694" y="573" width="2" height="1" fill="#399900"/>
<rect x="696" y="573" width="12" height="1" fill="#43aa00"/>
<rect x="708" y="573" width="2" height="1" fill="#399900"/>
<rect x="710" y="573" width="12" height="1" fill="#41aa00"/>
<rect x="722" y="573" width="11" height="1" fill="#389900"/>
<rect x="557" y="575" width="112" height="8" fill="#379900"/>
<rect x="669" y="575" width="11" height="8" fill="#3eaa00"/>
<rect x="680" y="575" width="2" height="8" fill="#389900"/>
<rect x="682" y="575" width="12" height="8" fill="#41aa00"/>
<rect x="694" y="575" width="2" height="8" fill="#389900"/>
<rect x="696" y="575" width="12" height="8" fill="#41aa00"/>
<rect x="708" y="575" width="2" height="8" fill="#389900"/>
<rect x="710" y="575" width="12" height="8" fill="#3faa00"/>
<rect x="722" y="575" width="11" height="8" fill="#379900"/>
<rect x="557" y="584" width="112" height="7" fill="#379900"/>
<rect x="669" y="584" width="11" height="7" fill="#3eaa00"/>
<rect x="680" y="584" width="2" height="7" fill="#389900"/>
<rect x="682" y="584" width="12" height="7" fill="#41aa00"/>
<rect x="694" y="584" width="2" height="7" fill="#389900"/>
<rect x="696" y="584" width="12" height="7" fill="#41aa00"/>
<rect x="708" y="584" width="2" height="7" fill="#389900"/>
<rect x="710" y="584" width="12" height="7" fill="#3faa00"/>
<rect x="722" y="584" width="11" height="7" fill="#379900"/>
<rect x="557" y="592" width="112" height="3" fill="#379900"/>
<rect x="669" y="592" width="11" height="3" fill="#36aa00"/>
<rect x="680" y="592" width="2" height="3" fill="#379900"/>
<rect x="682" y="592" width="12" height="3" fill="#36aa00"/>
<rect x="694" y="592" width="2" height="3" fill="#379900"/>
<rect x="696" y="592" width="12" height="3" fill="#36aa00"/>
<rect x="708" y="592" width="2" height="3" fill="#379900"/>
<rect x="710" y="592" width="12" height="3" fill="#34aa00"/>
<rect x="722" y="592" width="11" height="3" fill="#359900"/>
<rect x="557" y="600" width="112" height="3" fill="#379900"/>
<rect x="669" y="600" width="11" height="3" fill="#36aa00"/>
<rect x="680" y="600" width="2" height="3" fill="#379900"/>
<rect x="682" y="600" width="12" height="3" fill="#36aa00"/>
<rect x="694" y="600" width="2" height="3" fill="#379900"/>
<rect x="696" y="600" width="12" height="3" fill="#36aa00"/>
<rect x="708" y="600" width="2" height="3" fill="#379900"/>
<rect x="710" y="600" width="12" height="3" fill="#34aa00"/>
<rect x="722" y="600" width="11" height="3" fill="#359900"/>
<rect x="557" y="606" width="112" height="6" fill="url(#g556m1)"/>
<rect x="669" y="606" width="11" height="6" fill="#9f3b00"/>
<rect x="680" y="606" width="2" height="6" fill="#409900"/>
<rect x="682" y="606" width="12" height="6" fill="#993b00"/>
<rect x="694" y="606" width="2" height="6" fill="#409900"/>
<rect x="696" y="606" width="12" height="6" fill="#9f3b00"/>
<rect x="708" y="606" width="2" height="6" fill="#409900"/>
<rect x="710" y="606" width="12" height="6" fill="#9b3b00"/>
<rect x="722" y="606" width="11" height="6" fill="#399900"/>
<rect x="557" y="612" width="112" height="6" fill="url(#g556m2)"/>
<rect x="669" y="612" width="11" height="6" fill="#b33b00"/>
<rect x="680" y="612" width="2" height="6" fill="#409900"/>
<rect x="682" y="612" width="12" height="6" fill="#a73b00"/>
<rect x="694" y="612" width="2" height="6" fill="#409900"/>
<rect x="696" y="612" width="12" height="6" fill="#b33b00"/>
<rect x="708" y="612" width="2" height="6" fill="#409900"/>
<rect x="710" y="612" width="12" height="6" fill="#9f3b00"/>
<rect x="722" y="612" width="11" height="6" fill="#399900"/>
<rect x="557" y="618" width="112" height="4" fill="url(#g556m3)"/>
<rect x="669" y="618" width="11" height="4" fill="#a93b00"/>
<rect x="680" y="618" width="2" height="4" fill="#409900"/>
<rect x="682" y="618" width="12" height="4" fill="#9f3b00"/>
<rect x="694" y="618" width="2" height="4" fill="#409900"/>
<rect x="696" y="618" width="12" height="4" fill="#9f3b00"/>
<rect x="708" y="618" width="2" height="4" fill="#409900"/>
<rect x="710" y="618" width="12" height="4" fill="#9f3b00"/>
<rect x="722" y="618" width="11" height="4" fill="#399900"/>
<rect x="557" y="623" width="112" height="2" fill="url(#g556m4)"/>
<rect x="669" y="623" width="11" height="2" fill="#c63b00"/>
<rect x="680" y="623" width="2" height="2" fill="#409900"/>
<rect x="682" y="623" width="12" height="2" fill="#c13b00"/>
<rect x="694" y="623" width="2" height="2" fill="#409900"/>
<rect x="696" y="623" width="12" height="2" fill="#af3b00"/>
<rect x="708" y="623" width="2" height="2" fill="#409900"/>
<rect x="710" y="623" width="12" height="2" fill="#ab3b00"/>
<rect x="722" y="623" width="11" height="2" fill="#399900"/>
<rect x="557" y="626" width="112" height="1" fill="url(#g556m5)"/>
<rect x="669" y="626" width="11" height="1" fill="#bf3b00"/>
<rect x="680" y="626" width="2" height="1" fill="#409900"/>
<rect x="682" y="626" width="12" height="1" fill="#b33b00"/>
<rect x="694" y="626" width="2" height="1" fill="#409900"/>
<rect x="696" y="626" width="12" height="1" fill="#af3b00"/>
<rect x="708" y="626" width="2" height="1" fill="#409900"/>
<rect x="710" y="626" width="12" height="1" fill="#ab3b00"/>
<rect x="722" y="626" width="11" height="1" fill="#399900"/>
<rect x="557" y="628" width="112" height="2" fill="url(#g556m6)"/>
<rect x="669" y="628" width="11" height="2" fill="#bb3b00"/>
<rect x="680" y="628" width="2" height="2" fill="#409900"/>
<rect x="682" y="628" width="12" height="2" fill="#b33b00"/>
<rect x="694" y="628" width="2" height="2" fill="#409900"/>
<rect x="696" y="628" width="12" height="2" fill="#af3b00"/>
<rect x="708" y="628" width="2" height="2" fill="#409900"/>
<rect x="710" y="628" width="12" height="2" fill="#ab3b00"/>
<rect x="722" y="628" width="11" height="2" fill="#399900"/>
<rect x="557" y="632" width="112" height="3" fill="url(#g556m7)"/>
<rect x="669" y="632" width="11" height="3" fill="#bb3b00"/>
<rect x="680" y="632" width="2" height="3" fill="#409900"/>
<rect x="682" y="632" width="12" height="3" fill="#a53b00"/>
<rect x="694" y="632" width="2" height="3" fill="#409900"/>
<rect x="696" y="632" width="12" height="3" fill="#9f3b00"/>
<rect x="708" y="632" width="2" height="3" fill="#409900"/>
<rect x="710" y="632" width="12" height="3" fill="#a73b00"/>
<rect x="722" y="632" width="11" height="3" fill="#399900"/>
<rect x="557" y="635" width="112" height="4" fill="url(#g556m8)"/>
<rect x="669" y="635" width="11" height="4" fill="#bf3b00"/>
<rect x="680" y="635" width="2" height="4" fill="#409900"/>
<rect x="682" y="635" width="12" height="4" fill="#a53b00"/>
<rect x="694" y="635" width="2" height="4" fill="#409900"/>
<rect x="696" y="635" width="12" height="4" fill="#a93b00"/>
<rect x="708" y="635" width="2" height="4" fill="#409900"/>
<rect x="710" y="635" width="12" height="4" fill="#a73b00"/>
<rect x="722" y="635" width="11" height="4" fill="#399900"/>
<rect x="557" y="640" width="112" height="2" fill="url(#g556m9)"/>
<rect x="669" y="640" width="11" height="2" fill="#c33b00"/>
<rect x="680" y="640" width="2" height="2" fill="#409900"/>
<rect x="682" y="640" width="12" height="2" fill="#ad3b00"/>
<rect x="694" y="640" width="2" height="2" fill="#409900"/>
<rect x="696" y="640" width="12" height="2" fill="#af3b00"/>
<rect x="708" y="640" width="2" height="2" fill="#409900"/>
<rect x="710" y="640" width="12" height="2" fill="#af3b00"/>
<rect x="722" y="640" width="11" height="2" fill="#399900"/>
<rect x="557" y="643" width="112" height="3" fill="url(#g556m10)"/>
<rect x="669" y="643" width="11" height="3" fill="#bb3b00"/>
<rect x="680" y="643" width="2" height="3" fill="#409900"/>
<rect x="682" y="643" width="12" height="3" fill="#ad3b00"/>
<rect x="694" y="643" width="2" height="3" fill="#409900"/>
<rect x="696" y="643" width="12" height="3" fill="#b53b00"/>
<rect x="708" y="643" width="2" height="3" fill="#409900"/>
<rect x="710" y="643" width="12" height="3" fill="#b93b00"/>
<rect x="722" y="643" width="11" height="3" fill="#399900"/>
<rect x="557" y="646" width="112" height="5" fill="url(#g556m11)"/>
<rect x="669" y="646" width="11" height="5" fill="#a73b00"/>
<rect x="680" y="646" width="2" height="5" fill="#409900"/>
<rect x="682" y="646" width="12" height="5" fill="#b93b00"/>
<rect x="694" y="646" width="2" height="5" fill="#409900"/>
<rect x="696" y="646" width="12" height="5" fill="#b33b00"/>
<rect x="708" y="646" width="2" height="5" fill="#409900"/>
<rect x="710" y="646" width="12" height="5" fill="#af3b00"/>
<rect x="722" y="646" width="11" height="5" fill="#399900"/>
<rect x="557" y="652" width="112" height="2" fill="url(#g556m12)"/>
<rect x="669" y="652" width="11" height="2" fill="#a93b00"/>
<rect x="680" y="652" width="2" height="2" fill="#409900"/>
<rect x="682" y="652" width="12" height="2" fill="#ab3b00"/>
<rect x="694" y="652" width="2" height="2" fill="#409900"/>
<rect x="696" y="652" width="12" height="2" fill="#af3b00"/>
<rect x="708" y="652" width="2" height="2" fill="#409900"/>
<rect x="710" y="652" width="12" height="2" fill="#ab3b00"/>
<rect x="722" y="652" width="11" height="2" fill="#389900"/>
<rect x="557" y="654" width="112" height="9" fill="url(#g556m13)"/>
<rect x="669" y="654" width="11" height="9" fill="#a93b00"/>
<rect x="680" y="654" width="2" height="9" fill="#409900"/>
<rect x="682" y="654" width="12" height="9" fill="#a93b00"/>
<rect x="694" y="654" width="2" height="9" fill="#409900"/>
<rect x="696" y="654" width="12" height="9" fill="#af3b00"/>
<rect x="708" y="654" width="2" height="9" fill="#409900"/>
<rect x="710" y="654" width="12" height="9" fill="#ab3b00"/>
<rect x="722" y="654" width="11" height="9" fill="#389900"/>
<rect x="557" y="665" width="112" height="3" fill="#399900"/>
<rect x="669" y="665" width="11" height="3" fill="#45aa00"/>
<rect x="680" y="665" width="2" height="3" fill="#399900"/>
<rect x="682" y="665" width="12" height="3" fill="#45aa00"/>
<rect x="694" y="665" width="2" height="3" fill="#399900"/>
<rect x="696" y="665" width="12" height="3" fill="#45aa00"/>
<rect x="708" y="665" width="2" height="3" fill="#399900"/>
<rect x="710" y="665" width="12" height="3" fill="#43aa00"/>
<rect x="722" y="665" width="11" height="3" fill="#399900"/>
<rect x="557" y="669" width="112" height="4" fill="#379900"/>
<rect x="669" y="669" width="11" height="4" fill="#36aa00"/>
<rect x="680" y="669" width="2" height="4" fill="#379900"/>
<rect x="682" y="669" width="12" height="4" fill="#36aa00"/>
<rect x="694" y="669" width="2" height="4" fill="#379900"/>
<rect x="696" y="669" width="12" height="4" fill="#36aa00"/>
<rect x="708" y="669" width="2" height="4" fill="#379900"/>
<rect x="710" y="669" width="12" height="4" fill="#34aa00"/>
<rect x="722" y="669" width="11" height="4" fill="#379900"/>
<rect x="557" y="674" width="112" height="5" fill="#379900"/>
<rect x="669" y="674" width="11" height="5" fill="#36aa00"/>
<rect x="680" y="674" width="2" height="5" fill="#379900"/>
<rect x="682" y="674" width="12" height="5" fill="#36aa00"/>
<rect x="694" y="674" width="2" height="5" fill="#379900"/>
<rect x="696" y="674" width="12" height="5" fill="#36aa00"/>
<rect x="708" y="674" width="2" height="5" fill="#379900"/>
<rect x="710" y="674" width="12" height="5" fill="#34aa00"/>
<rect x="722" y="674" width="11" height="5" fill="#379900"/>
<rect x="557" y="682" width="112" height="2" fill="#379900"/>
<rect x="669" y="682" width="11" height="2" fill="#36aa00"/>
<rect x="680" y="682" width="2" height="2" fill="#379900"/>
<rect x="682" y="682" width="12" height="2" fill="#36aa00"/>
<rect x="694" y="682" width="2" height="2" fill="#379900"/>
<rect x="696" y="682" width="12" height="2" fill="#36aa00"/>
<rect x="708" y="682" width="2" height="2" fill="#379900"/>
<rect x="710" y="682" width="12" height="2" fill="#34aa00"/>
<rect x="722" y="682" width="11" height="2" fill="#379900"/>
<rect x="557" y="691" width="112" height="4" fill="url(#g556d1)"/>
<rect x="669" y="691" width="11" height="4" fill="#a13300"/>
<rect x="680" y="691" width="2" height="4" fill="#3b9900"/>
<rect x="682" y="691" width="12" height="4" fill="#973300"/>
<rect x="694" y="691" width="2" height="4" fill="#3b9900"/>
<rect x="696" y="691" width="12" height="4" fill="#9b3300"/>
<rect x="708" y="691" width="2" height="4" fill="#3b9900"/>
<rect x="710" y="691" width="12" height="4" fill="#9b3300"/>
<rect x="722" y="691" width="11" height="4" fill="#399900"/>
<rect x="557" y="696" width="112" height="3" fill="url(#g556d2)"/>
<rect x="669" y="696" width="11" height="3" fill="#867700"/>
<rect x="680" y="696" width="2" height="3" fill="#3a9900"/>
<rect x="682" y="696" width="12" height="3" fill="#7c7700"/>
<rect x="694" y="696" width="2" height="3" fill="#3a9900"/>
<rect x="696" y="696" width="12" height="3" fill="#8a7700"/>
<rect x="708" y="696" width="2" height="3" fill="#3a9900"/>
<rect x="710" y="696" width="12" height="3" fill="#867700"/>
<rect x="722" y="696" width="11" height="3" fill="#389900"/>
<rect x="557" y="700" width="112" height="7" fill="url(#g556d3)"/>
<rect x="669" y="700" width="11" height="7" fill="#6e4c00"/>
<rect x="680" y="700" width="2" height="7" fill="#3b9900"/>
<rect x="682" y="700" width="12" height="7" fill="#684c00"/>
<rect x="694" y="700" width="2" height="7" fill="#3b9900"/>
<rect x="696" y="700" width="12" height="7" fill="#6c4c00"/>
<rect x="708" y="700" width="2" height="7" fill="#3b9900"/>
<rect x="710" y="700" width="12" height="7" fill="#6e4c00"/>
<rect x="722" y="700" width="11" height="7" fill="#399900"/>
<rect x="557" y="708" width="112" height="4" fill="url(#g556d4)"/>
<rect x="669" y="708" width="11" height="4" fill="#824400"/>
<rect x="680" y="708" width="2" height="4" fill="#3b9900"/>
<rect x="682" y="708" width="12" height="4" fill="#7e4400"/>
<rect x="694" y="708" width="2" height="4" fill="#3b9900"/>
<rect x="696" y="708" width="12" height="4" fill="#864400"/>
<rect x="708" y="708" width="2" height="4" fill="#3b9900"/>
<rect x="710" y="708" width="12" height="4" fill="#824400"/>
<rect x="722" y="708" width="11" height="4" fill="#389900"/>
<rect x="557" y="715" width="112" height="1" fill="url(#g556e1)"/>
<rect x="669" y="715" width="11" height="1" fill="#37aa00"/>
<rect x="680" y="715" width="2" height="1" fill="#3b9900"/>
<rect x="682" y="715" width="12" height="1" fill="#37aa00"/>
<rect x="694" y="715" width="2" height="1" fill="#3b9900"/>
<rect x="696" y="715" width="12" height="1" fill="#37aa00"/>
<rect x="708" y="715" width="2" height="1" fill="#3b9900"/>
<rect x="710" y="715" width="12" height="1" fill="#37aa00"/>
<rect x="722" y="715" width="11" height="1" fill="#3b9900"/>
<rect x="557" y="717" width="112" height="1" fill="url(#g556e1)"/>
<rect x="669" y="717" width="11" height="1" fill="#37aa00"/>
<rect x="680" y="717" width="2" height="1" fill="#3b9900"/>
<rect x="682" y="717" width="12" height="1" fill="#37aa00"/>
<rect x="694" y="717" width="2" height="1" fill="#3b9900"/>
<rect x="696" y="717" width="12" height="1" fill="#37aa00"/>
<rect x="708" y="717" width="2" height="1" fill="#3b9900"/>
<rect x="710" y="717" width="12" height="1" fill="#37aa00"/>
<rect x="722" y="717" width="11" height="1" fill="#3b9900"/>
<rect x="557" y="719" width="112" height="1" fill="url(#g556e1)"/>
<rect x="669" y="719" width="11" height="1" fill="#37aa00"/>
<rect x="680" y="719" width="2" height="1" fill="#3b9900"/>
<rect x="682" y="719" width="12" height="1" fill="#37aa00"/>
<rect x="694" y="719" width="2" height="1" fill="#3b9900"/>
<rect x="696" y="719" width="12" height="1" fill="#37aa00"/>
<rect x="708" y="719" width="2" height="1" fill="#3b9900"/>
<rect x="710" y="719" width="12" height="1" fill="#37aa00"/>
<rect x="722" y="719" width="11" height="1" fill="#3b9900"/>
</g>
<path d="M556 105h177v1h-177zM556 111h177v2h-177zM556 118h177v1h-177zM556 120h177v1h-177zM556 130h177v1h-177zM556 133h177v1h-177zM556 135h177v2h-177zM556 139h177v1h-177zM556 142h177v1h-177zM556 167h177v320h-177zM556 488h177v1h-177zM556 490h177v1h-177zM556 492h177v1h-177zM556 495h177v5h-177zM556 517h177v1h-177zM556 521h177v1h-177zM556 529h177v1h-177zM556 563h177v1h-177zM556 595h177v5h-177zM556 603h177v1h-177zM556 622h177v1h-177zM556 625h177v1h-177zM556 627h177v1h-177zM556 630h177v2h-177zM556 639h177v1h-177zM556 642h177v1h-177zM556 651h177v1h-177zM556 664h177v1h-177zM556 673h177v1h-177zM556 679h177v2h-177zM556 685h177v6h-177zM556 695h177v1h-177zM556 699h177v1h-177zM556 707h177v1h-177zM556 714h177v1h-177zM556 716h177v1h-177zM556 718h177v1h-177z" fill="#fff" shape-rendering="crispEdges"/>
<path d="M556 99h177v2h-177zM556 116h177v1h-177zM556 146h177v1h-177zM556 150h177v1h-177zM556 157h177v4h-177zM556 164h177v3h-177zM556 502h177v3h-177zM556 506h177v3h-177zM556 512h177v1h-177zM556 515h177v1h-177zM556 518h177v2h-177zM556 522h177v1h-177zM556 524h177v2h-177zM556 528h177v1h-177zM556 531h177v1h-177zM556 534h177v2h-177zM556 538h177v3h-177zM556 542h177v2h-177zM556 546h177v2h-177zM556 549h177v4h-177zM556 556h177v1h-177zM556 560h177v3h-177zM556 565h177v1h-177zM556 569h177v2h-177zM556 572h177v1h-177zM556 574h177v1h-177zM556 583h177v1h-177zM556 591h177v1h-177zM556 604h177v2h-177zM556 663h177v1h-177zM556 668h177v1h-177zM556 681h177v1h-177zM556 684h177v1h-177zM556 712h177v2h-177z" fill="#000" shape-rendering="crispEdges"/>
<rect x="556.5" y="80.5" width="177" height="640" fill="none" stroke="#000" stroke-opacity="0.17" stroke-width="3"/><rect x="556.5" y="80.5" width="177" height="640" fill="none" stroke="#000" stroke-width="1"/>
<path d="M597.5 720.5v-6.3M597.5 80.5v6.3M639.5 720.5v-6.3M639.5 80.5v6.3M680.5 720.5v-6.3M680.5 80.5v6.3M722.5 720.5v-6.3M722.5 80.5v6.3M556.5 587.5h6.3M733.5 587.5h-6.3M556.5 453.5h6.3M733.5 453.5h-6.3M556.5 320.5h6.3M733.5 320.5h-6.3M556.5 187.5h6.3M733.5 187.5h-6.3" stroke="#000" stroke-width="0.75" fill="none"/>
<text x="555.9" y="736.0" font-size="12.5" text-anchor="middle" letter-spacing="-0.6">320</text>
<text x="596.9" y="736.0" font-size="12.5" text-anchor="middle" letter-spacing="-0.6">335</text>
<text x="638.9" y="736.0" font-size="12.5" text-anchor="middle" letter-spacing="-0.6">350</text>
<text x="679.9" y="736.0" font-size="12.5" text-anchor="middle" letter-spacing="-0.6">365</text>
<text x="721.9" y="736.0" font-size="12.5" text-anchor="middle" letter-spacing="-0.6">380</text>
<text x="551.6" y="723.6" font-size="12.5" text-anchor="end" letter-spacing="-0.6">0</text>
<text x="551.6" y="590.3" font-size="12.5" text-anchor="end" letter-spacing="-0.6">5</text>
<text x="550.5" y="456.9" font-size="12.5" text-anchor="end" letter-spacing="-0.6">10</text>
<text x="550.5" y="323.6" font-size="12.5" text-anchor="end" letter-spacing="-0.6">15</text>
<text x="551.6" y="190.3" font-size="12.5" text-anchor="end" letter-spacing="-0.6">20</text>
<text x="645.5" y="73.2" font-size="15" text-anchor="middle">XY, V0*V14=EA09*EA17</text>
<g filter="url(#f768)" shape-rendering="crispEdges">
<rect x="768" y="80" width="178" height="641" fill="#593300"/>
<rect x="769" y="81" width="112" height="18" fill="url(#g768t1)"/>
<rect x="881" y="81" width="11" height="18" fill="#5cee00"/>
<rect x="892" y="81" width="2" height="18" fill="#3b9900"/>
<rect x="894" y="81" width="12" height="18" fill="#5eee00"/>
<rect x="906" y="81" width="2" height="18" fill="#3b9900"/>
<rect x="908" y="81" width="12" height="18" fill="#54ee00"/>
<rect x="920" y="81" width="2" height="18" fill="#3b9900"/>
<rect x="922" y="81" width="12" height="18" fill="#54ee00"/>
<rect x="934" y="81" width="11" height="18" fill="#3a9900"/>
<rect x="769" y="101" width="112" height="4" fill="#379900"/>
<rect x="881" y="101" width="11" height="4" fill="#51aa00"/>
<rect x="892" y="101" width="2" height="4" fill="#389900"/>
<rect x="894" y="101" width="12" height="4" fill="#51aa00"/>
<rect x="906" y="101" width="2" height="4" fill="#389900"/>
<rect x="908" y="101" width="12" height="4" fill="#44aa00"/>
<rect x="920" y="101" width="2" height="4" fill="#389900"/>
<rect x="922" y="101" width="12" height="4" fill="#44aa00"/>
<rect x="934" y="101" width="11" height="4" fill="#369900"/>
<rect x="769" y="106" width="112" height="5" fill="#379900"/>
<rect x="881" y="106" width="11" height="5" fill="#51aa00"/>
<rect x="892" y="106" width="2" height="5" fill="#389900"/>
<rect x="894" y="106" width="12" height="5" fill="#51aa00"/>
<rect x="906" y="106" width="2" height="5" fill="#389900"/>
<rect x="908" y="106" width="12" height="5" fill="#44aa00"/>
<rect x="920" y="106" width="2" height="5" fill="#389900"/>
<rect x="922" y="106" width="12" height="5" fill="#44aa00"/>
<rect x="934" y="106" width="11" height="5" fill="#369900"/>
<rect x="769" y="113" width="112" height="3" fill="#3a9900"/>
<rect x="881" y="113" width="11" height="3" fill="#61aa00"/>
<rect x="892" y="113" width="2" height="3" fill="#3a9900"/>
<rect x="894" y="113" width="12" height="3" fill="#5baa00"/>
<rect x="906" y="113" width="2" height="3" fill="#3a9900"/>
<rect x="908" y="113" width="12" height="3" fill="#55aa00"/>
<rect x="920" y="113" width="2" height="3" fill="#3a9900"/>
<rect x="922" y="113" width="12" height="3" fill="#51aa00"/>
<rect x="934" y="113" width="11" height="3" fill="#389900"/>
<rect x="769" y="117" width="112" height="1" fill="#3b9900"/>
<rect x="881" y="117" width="11" height="1" fill="#5daa00"/>
<rect x="892" y="117" width="2" height="1" fill="#3b9900"/>
<rect x="894" y="117" width="12" height="1" fill="#51aa00"/>
<rect x="906" y="117" width="2" height="1" fill="#3b9900"/>
<rect x="908" y="117" width="12" height="1" fill="#44aa00"/>
<rect x="920" y="117" width="2" height="1" fill="#3b9900"/>
<rect x="922" y="117" width="12" height="1" fill="#4daa00"/>
<rect x="934" y="117" width="11" height="1" fill="#3a9900"/>
<rect x="769" y="119" width="112" height="1" fill="#3b9900"/>
<rect x="881" y="119" width="11" height="1" fill="#5daa00"/>
<rect x="892" y="119" width="2" height="1" fill="#3b9900"/>
<rect x="894" y="119" width="12" height="1" fill="#51aa00"/>
<rect x="906" y="119" width="2" height="1" fill="#3b9900"/>
<rect x="908" y="119" width="12" height="1" fill="#44aa00"/>
<rect x="920" y="119" width="2" height="1" fill="#3b9900"/>
<rect x="922" y="119" width="12" height="1" fill="#4daa00"/>
<rect x="934" y="119" width="11" height="1" fill="#3a9900"/>
<rect x="769" y="121" width="112" height="9" fill="url(#g768t5)"/>
<rect x="881" y="121" width="11" height="9" fill="#65aa00"/>
<rect x="892" y="121" width="2" height="9" fill="#3c9900"/>
<rect x="894" y="121" width="12" height="9" fill="#4daa00"/>
<rect x="906" y="121" width="2" height="9" fill="#3c9900"/>
<rect x="908" y="121" width="12" height="9" fill="#3caa00"/>
<rect x="920" y="121" width="2" height="9" fill="#3c9900"/>
<rect x="922" y="121" width="12" height="9" fill="#4aaa00"/>
<rect x="934" y="121" width="11" height="9" fill="#3b9900"/>
<rect x="769" y="131" width="112" height="2" fill="url(#g768t6)"/>
<rect x="881" y="131" width="11" height="2" fill="#46aa00"/>
<rect x="892" y="131" width="2" height="2" fill="#3d9900"/>
<rect x="894" y="131" width="12" height="2" fill="#46aa00"/>
<rect x="906" y="131" width="2" height="2" fill="#3d9900"/>
<rect x="908" y="131" width="12" height="2" fill="#40aa00"/>
<rect x="920" y="131" width="2" height="2" fill="#3d9900"/>
<rect x="922" y="131" width="12" height="2" fill="#44aa00"/>
<rect x="934" y="131" width="11" height="2" fill="#3c9900"/>
<rect x="769" y="134" width="112" height="1" fill="url(#g768t6)"/>
<rect x="881" y="134" width="11" height="1" fill="#46aa00"/>
<rect x="892" y="134" width="2" height="1" fill="#3d9900"/>
<rect x="894" y="134" width="12" height="1" fill="#46aa00"/>
<rect x="906" y="134" width="2" height="1" fill="#3d9900"/>
<rect x="908" y="134" width="12" height="1" fill="#40aa00"/>
<rect x="920" y="134" width="2" height="1" fill="#3d9900"/>
<rect x="922" y="134" width="12" height="1" fill="#44aa00"/>
<rect x="934" y="134" width="11" height="1" fill="#3c9900"/>
<rect x="769" y="137" width="112" height="2" fill="url(#g768t6)"/>
<rect x="881" y="137" width="11" height="2" fill="#46aa00"/>
<rect x="892" y="137" width="2" height="2" fill="#3d9900"/>
<rect x="894" y="137" width="12" height="2" fill="#46aa00"/>
<rect x="906" y="137" width="2" height="2" fill="#3d9900"/>
<rect x="908" y="137" width="12" height="2" fill="#40aa00"/>
<rect x="920" y="137" width="2" height="2" fill="#3d9900"/>
<rect x="922" y="137" width="12" height="2" fill="#44aa00"/>
<rect x="934" y="137" width="11" height="2" fill="#3c9900"/>
<rect x="769" y="140" width="112" height="2" fill="url(#g768t6)"/>
<rect x="881" y="140" width="11" height="2" fill="#46aa00"/>
<rect x="892" y="140" width="2" height="2" fill="#3d9900"/>
<rect x="894" y="140" width="12" height="2" fill="#46aa00"/>
<rect x="906" y="140" width="2" height="2" fill="#3d9900"/>
<rect x="908" y="140" width="12" height="2" fill="#40aa00"/>
<rect x="920" y="140" width="2" height="2" fill="#3d9900"/>
<rect x="922" y="140" width="12" height="2" fill="#44aa00"/>
<rect x="934" y="140" width="11" height="2" fill="#3c9900"/>
<rect x="769" y="143" width="112" height="3" fill="#3c9900"/>
<rect x="881" y="143" width="11" height="3" fill="#40aa00"/>
<rect x="892" y="143" width="2" height="3" fill="#3c9900"/>
<rect x="894" y="143" width="12" height="3" fill="#40aa00"/>
<rect x="906" y="143" width="2" height="3" fill="#3c9900"/>
<rect x="908" y="143" width="12" height="3" fill="#3eaa00"/>
<rect x="920" y="143" width="2" height="3" fill="#3c9900"/>
<rect x="922" y="143" width="12" height="3" fill="#3eaa00"/>
<rect x="934" y="143" width="11" height="3" fill="#3b9900"/>
<rect x="769" y="147" width="112" height="3" fill="#3b9900"/>
<rect x="881" y="147" width="11" height="3" fill="#3caa00"/>
<rect x="892" y="147" width="2" height="3" fill="#3b9900"/>
<rect x="894" y="147" width="12" height="3" fill="#3caa00"/>
<rect x="906" y="147" width="2" height="3" fill="#3b9900"/>
<rect x="908" y="147" width="12" height="3" fill="#3aaa00"/>
<rect x="920" y="147" width="2" height="3" fill="#3b9900"/>
<rect x="922" y="147" width="12" height="3" fill="#3aaa00"/>
<rect x="934" y="147" width="11" height="3" fill="#3a9900"/>
<rect x="769" y="151" width="112" height="6" fill="url(#g768t9)"/>
<rect x="881" y="151" width="11" height="6" fill="#51aa00"/>
<rect x="892" y="151" width="2" height="6" fill="#3e9900"/>
<rect x="894" y="151" width="12" height="6" fill="#51aa00"/>
<rect x="906" y="151" width="2" height="6" fill="#3e9900"/>
<rect x="908" y="151" width="12" height="6" fill="#40aa00"/>
<rect x="920" y="151" width="2" height="6" fill="#3e9900"/>
<rect x="922" y="151" width="12" height="6" fill="#51aa00"/>
<rect x="934" y="151" width="11" height="6" fill="#3c9900"/>
<rect x="769" y="161" width="112" height="3" fill="#3b9900"/>
<rect x="881" y="161" width="11" height="3" fill="#40aa00"/>
<rect x="892" y="161" width="2" height="3" fill="#3b9900"/>
<rect x="894" y="161" width="12" height="3" fill="#40aa00"/>
<rect x="906" y="161" width="2" height="3" fill="#3b9900"/>
<rect x="908" y="161" width="12" height="3" fill="#3caa00"/>
<rect x="920" y="161" width="2" height="3" fill="#3b9900"/>
<rect x="922" y="161" width="12" height="3" fill="#3eaa00"/>
<rect x="934" y="161" width="11" height="3" fill="#3a9900"/>
<rect x="769" y="487" width="112" height="1" fill="#389900"/>
<rect x="881" y="487" width="11" height="1" fill="#3faa00"/>
<rect x="892" y="487" width="2" height="1" fill="#389900"/>
<rect x="894" y="487" width="12" height="1" fill="#3faa00"/>
<rect x="906" y="487" width="2" height="1" fill="#389900"/>
<rect x="908" y="487" width="12" height="1" fill="#3eaa00"/>
<rect x="920" y="487" width="2" height="1" fill="#389900"/>
<rect x="922" y="487" width="12" height="1" fill="#3caa00"/>
<rect x="934" y="487" width="11" height="1" fill="#379900"/>
<rect x="769" y="489" width="112" height="1" fill="#389900"/>
<rect x="881" y="489" width="11" height="1" fill="#3faa00"/>
<rect x="892" y="489" width="2" height="1" fill="#389900"/>
<rect x="894" y="489" width="12" height="1" fill="#3faa00"/>
<rect x="906" y="489" width="2" height="1" fill="#389900"/>
<rect x="908" y="489" width="12" height="1" fill="#3eaa00"/>
<rect x="920" y="489" width="2" height="1" fill="#389900"/>
<rect x="922" y="489" width="12" height="1" fill="#3caa00"/>
<rect x="934" y="489" width="11" height="1" fill="#379900"/>
<rect x="769" y="491" width="112" height="1" fill="#389900"/>
<rect x="881" y="491" width="11" height="1" fill="#3faa00"/>
<rect x="892" y="491" width="2" height="1" fill="#389900"/>
<rect x="894" y="491" width="12" height="1" fill="#3faa00"/>
<rect x="906" y="491" width="2" height="1" fill="#389900"/>
<rect x="908" y="491" width="12" height="1" fill="#3eaa00"/>
<rect x="920" y="491" width="2" height="1" fill="#389900"/>
<rect x="922" y="491" width="12" height="1" fill="#3caa00"/>
<rect x="934" y="491" width="11" height="1" fill="#379900"/>
<rect x="769" y="493" width="112" height="2" fill="#389900"/>
<rect x="881" y="493" width="11" height="2" fill="#3faa00"/>
<rect x="892" y="493" width="2" height="2" fill="#389900"/>
<rect x="894" y="493" width="12" height="2" fill="#3faa00"/>
<rect x="906" y="493" width="2" height="2" fill="#389900"/>
<rect x="908" y="493" width="12" height="2" fill="#3eaa00"/>
<rect x="920" y="493" width="2" height="2" fill="#389900"/>
<rect x="922" y="493" width="12" height="2" fill="#3caa00"/>
<rect x="934" y="493" width="11" height="2" fill="#379900"/>
<rect x="769" y="500" width="112" height="2" fill="#379900"/>
<rect x="881" y="500" width="11" height="2" fill="#38aa00"/>
<rect x="892" y="500" width="2" height="2" fill="#379900"/>
<rect x="894" y="500" width="12" height="2" fill="#38aa00"/>
<rect x="906" y="500" width="2" height="2" fill="#379900"/>
<rect x="908" y="500" width="12" height="2" fill="#36aa00"/>
<rect x="920" y="500" width="2" height="2" fill="#379900"/>
<rect x="922" y="500" width="12" height="2" fill="#36aa00"/>
<rect x="934" y="500" width="11" height="2" fill="#359900"/>
<rect x="769" y="505" width="112" height="1" fill="#2d9900"/>
<rect x="881" y="505" width="11" height="1" fill="#2baa00"/>
<rect x="892" y="505" width="2" height="1" fill="#2d9900"/>
<rect x="894" y="505" width="12" height="1" fill="#2baa00"/>
<rect x="906" y="505" width="2" height="1" fill="#2d9900"/>
<rect x="908" y="505" width="12" height="1" fill="#2baa00"/>
<rect x="920" y="505" width="2" height="1" fill="#2d9900"/>
<rect x="922" y="505" width="12" height="1" fill="#29aa00"/>
<rect x="934" y="505" width="11" height="1" fill="#2b9900"/>
<rect x="769" y="509" width="112" height="3" fill="#379900"/>
<rect x="881" y="509" width="11" height="3" fill="#38aa00"/>
<rect x="892" y="509" width="2" height="3" fill="#379900"/>
<rect x="894" y="509" width="12" height="3" fill="#38aa00"/>
<rect x="906" y="509" width="2" height="3" fill="#379900"/>
<rect x="908" y="509" width="12" height="3" fill="#36aa00"/>
<rect x="920" y="509" width="2" height="3" fill="#379900"/>
<rect x="922" y="509" width="12" height="3" fill="#36aa00"/>
<rect x="934" y="509" width="11" height="3" fill="#359900"/>
<rect x="769" y="513" width="112" height="2" fill="#389900"/>
<rect x="881" y="513" width="11" height="2" fill="#4aaa00"/>
<rect x="892" y="513" width="2" height="2" fill="#389900"/>
<rect x="894" y="513" width="12" height="2" fill="#47aa00"/>
<rect x="906" y="513" width="2" height="2" fill="#389900"/>
<rect x="908" y="513" width="12" height="2" fill="#43aa00"/>
<rect x="920" y="513" width="2" height="2" fill="#389900"/>
<rect x="922" y="513" width="12" height="2" fill="#41aa00"/>
<rect x="934" y="513" width="11" height="2" fill="#379900"/>
<rect x="769" y="516" width="112" height="1" fill="#2d9900"/>
<rect x="881" y="516" width="11" height="1" fill="#2baa00"/>
<rect x="892" y="516" width="2" height="1" fill="#2d9900"/>
<rect x="894" y="516" width="12" height="1" fill="#2baa00"/>
<rect x="906" y="516" width="2" height="1" fill="#2d9900"/>
<rect x="908" y="516" width="12" height="1" fill="#2baa00"/>
<rect x="920" y="516" width="2" height="1" fill="#2d9900"/>
<rect x="922" y="516" width="12" height="1" fill="#29aa00"/>
<rect x="934" y="516" width="11" height="1" fill="#2b9900"/>
<rect x="769" y="520" width="112" height="1" fill="#379900"/>
<rect x="881" y="520" width="11" height="1" fill="#38aa00"/>
<rect x="892" y="520" width="2" height="1" fill="#379900"/>
<rect x="894" y="520" width="12" height="1" fill="#38aa00"/>
<rect x="906" y="520" width="2" height="1" fill="#379900"/>
<rect x="908" y="520" width="12" height="1" fill="#36aa00"/>
<rect x="920" y="520" width="2" height="1" fill="#379900"/>
<rect x="922" y="520" width="12" height="1" fill="#36aa00"/>
<rect x="934" y="520" width="11" height="1" fill="#359900"/>
<rect x="769" y="523" width="112" height="1" fill="#2d9900"/>
<rect x="881" y="523" width="11" height="1" fill="#2baa00"/>
<rect x="892" y="523" width="2" height="1" fill="#2d9900"/>
<rect x="894" y="523" width="12" height="1" fill="#2baa00"/>
<rect x="906" y="523" width="2" height="1" fill="#2d9900"/>
<rect x="908" y="523" width="12" height="1" fill="#2baa00"/>
<rect x="920" y="523" width="2" height="1" fill="#2d9900"/>
<rect x="922" y="523" width="12" height="1" fill="#29aa00"/>
<rect x="934" y="523" width="11" height="1" fill="#2b9900"/>
<rect x="769" y="526" width="112" height="2" fill="#389900"/>
<rect x="881" y="526" width="11" height="2" fill="#4aaa00"/>
<rect x="892" y="526" width="2" height="2" fill="#389900"/>
<rect x="894" y="526" width="12" height="2" fill="#47aa00"/>
<rect x="906" y="526" width="2" height="2" fill="#389900"/>
<rect x="908" y="526" width="12" height="2" fill="#43aa00"/>
<rect x="920" y="526" width="2" height="2" fill="#389900"/>
<rect x="922" y="526" width="12" height="2" fill="#41aa00"/>
<rect x="934" y="526" width="11" height="2" fill="#379900"/>
<rect x="769" y="530" width="112" height="1" fill="#379900"/>
<rect x="881" y="530" width="11" height="1" fill="#38aa00"/>
<rect x="892" y="530" width="2" height="1" fill="#379900"/>
<rect x="894" y="530" width="12" height="1" fill="#38aa00"/>
<rect x="906" y="530" width="2" height="1" fill="#379900"/>
<rect x="908" y="530" width="12" height="1" fill="#36aa00"/>
<rect x="920" y="530" width="2" height="1" fill="#379900"/>
<rect x="922" y="530" width="12" height="1" fill="#36aa00"/>
<rect x="934" y="530" width="11" height="1" fill="#359900"/>
<rect x="769" y="532" width="112" height="2" fill="#389900"/>
<rect x="881" y="532" width="11" height="2" fill="#4aaa00"/>
<rect x="892" y="532" width="2" height="2" fill="#389900"/>
<rect x="894" y="532" width="12" height="2" fill="#47aa00"/>
<rect x="906" y="532" width="2" height="2" fill="#389900"/>
<rect x="908" y="532" width="12" height="2" fill="#43aa00"/>
<rect x="920" y="532" width="2" height="2" fill="#389900"/>
<rect x="922" y="532" width="12" height="2" fill="#41aa00"/>
<rect x="934" y="532" width="11" height="2" fill="#379900"/>
<rect x="769" y="536" width="112" height="2" fill="#379900"/>
<rect x="881" y="536" width="11" height="2" fill="#38aa00"/>
<rect x="892" y="536" width="2" height="2" fill="#379900"/>
<rect x="894" y="536" width="12" height="2" fill="#38aa00"/>
<rect x="906" y="536" width="2" height="2" fill="#379900"/>
<rect x="908" y="536" width="12" height="2" fill="#36aa00"/>
<rect x="920" y="536" width="2" height="2" fill="#379900"/>
<rect x="922" y="536" width="12" height="2" fill="#36aa00"/>
<rect x="934" y="536" width="11" height="2" fill="#359900"/>
<rect x="769" y="541" width="112" height="1" fill="#2d9900"/>
<rect x="881" y="541" width="11" height="1" fill="#2baa00"/>
<rect x="892" y="541" width="2" height="1" fill="#2d9900"/>
<rect x="894" y="541" width="12" height="1" fill="#2baa00"/>
<rect x="906" y="541" width="2" height="1" fill="#2d9900"/>
<rect x="908" y="541" width="12" height="1" fill="#2baa00"/>
<rect x="920" y="541" width="2" height="1" fill="#2d9900"/>
<rect x="922" y="541" width="12" height="1" fill="#29aa00"/>
<rect x="934" y="541" width="11" height="1" fill="#2b9900"/>
<rect x="769" y="544" width="112" height="2" fill="#399900"/>
<rect x="881" y="544" width="11" height="2" fill="#47aa00"/>
<rect x="892" y="544" width="2" height="2" fill="#399900"/>
<rect x="894" y="544" width="12" height="2" fill="#45aa00"/>
<rect x="906" y="544" width="2" height="2" fill="#399900"/>
<rect x="908" y="544" width="12" height="2" fill="#43aa00"/>
<rect x="920" y="544" width="2" height="2" fill="#399900"/>
<rect x="922" y="544" width="12" height="2" fill="#41aa00"/>
<rect x="934" y="544" width="11" height="2" fill="#389900"/>
<rect x="769" y="548" width="112" height="1" fill="#2d9900"/>
<rect x="881" y="548" width="11" height="1" fill="#2baa00"/>
<rect x="892" y="548" width="2" height="1" fill="#2d9900"/>
<rect x="894" y="548" width="12" height="1" fill="#2baa00"/>
<rect x="906" y="548" width="2" height="1" fill="#2d9900"/>
<rect x="908" y="548" width="12" height="1" fill="#2baa00"/>
<rect x="920" y="548" width="2" height="1" fill="#2d9900"/>
<rect x="922" y="548" width="12" height="1" fill="#29aa00"/>
<rect x="934" y="548" width="11" height="1" fill="#2b9900"/>
<rect x="769" y="553" width="112" height="3" fill="#379900"/>
<rect x="881" y="553" width="11" height="3" fill="#38aa00"/>
<rect x="892" y="553" width="2" height="3" fill="#379900"/>
<rect x="894" y="553" width="12" height="3" fill="#38aa00"/>
<rect x="906" y="553" width="2" height="3" fill="#379900"/>
<rect x="908" y="553" width="12" height="3" fill="#36aa00"/>
<rect x="920" y="553" width="2" height="3" fill="#379900"/>
<rect x="922" y="553" width="12" height="3" fill="#36aa00"/>
<rect x="934" y="553" width="11" height="3" fill="#359900"/>
<rect x="769" y="557" width="112" height="3" fill="#379900"/>
<rect x="881" y="557" width="11" height="3" fill="#38aa00"/>
<rect x="892" y="557" width="2" height="3" fill="#379900"/>
<rect x="894" y="557" width="12" height="3" fill="#38aa00"/>
<rect x="906" y="557" width="2" height="3" fill="#379900"/>
<rect x="908" y="557" width="12" height="3" fill="#36aa00"/>
<rect x="920" y="557" width="2" height="3" fill="#379900"/>
<rect x="922" y="557" width="12" height="3" fill="#36aa00"/>
<rect x="934" y="557" width="11" height="3" fill="#359900"/>
<rect x="769" y="564" width="112" height="1" fill="#389900"/>
<rect x="881" y="564" width="11" height="1" fill="#4aaa00"/>
<rect x="892" y="564" width="2" height="1" fill="#389900"/>
<rect x="894" y="564" width="12" height="1" fill="#47aa00"/>
<rect x="906" y="564" width="2" height="1" fill="#389900"/>
<rect x="908" y="564" width="12" height="1" fill="#43aa00"/>
<rect x="920" y="564" width="2" height="1" fill="#389900"/>
<rect x="922" y="564" width="12" height="1" fill="#41aa00"/>
<rect x="934" y="564" width="11" height="1" fill="#379900"/>
<rect x="769" y="566" width="112" height="3" fill="#389900"/>
<rect x="881" y="566" width="11" height="3" fill="#4aaa00"/>
<rect x="892" y="566" width="2" height="3" fill="#389900"/>
<rect x="894" y="566" width="12" height="3" fill="#47aa00"/>
<rect x="906" y="566" width="2" height="3" fill="#389900"/>
<rect x="908" y="566" width="12" height="3" fill="#43aa00"/>
<rect x="920" y="566" width="2" height="3" fill="#389900"/>
<rect x="922" y="566" width="12" height="3" fill="#41aa00"/>
<rect x="934" y="566" width="11" height="3" fill="#379900"/>
<rect x="769" y="571" width="112" height="1" fill="#2d9900"/>
<rect x="881" y="571" width="11" height="1" fill="#2baa00"/>
<rect x="892" y="571" width="2" height="1" fill="#2d9900"/>
<rect x="894" y="571" width="12" height="1" fill="#2baa00"/>
<rect x="906" y="571" width="2" height="1" fill="#2d9900"/>
<rect x="908" y="571" width="12" height="1" fill="#2baa00"/>
<rect x="920" y="571" width="2" height="1" fill="#2d9900"/>
<rect x="922" y="571" width="12" height="1" fill="#29aa00"/>
<rect x="934" y="571" width="11" height="1" fill="#2b9900"/>
<rect x="769" y="573" width="112" height="1" fill="#399900"/>
<rect x="881" y="573" width="11" height="1" fill="#47aa00"/>
<rect x="892" y="573" width="2" height="1" fill="#399900"/>
<rect x="894" y="573" width="12" height="1" fill="#45aa00"/>
<rect x="906" y="573" width="2" height="1" fill="#399900"/>
<rect x="908" y="573" width="12" height="1" fill="#43aa00"/>
<rect x="920" y="573" width="2" height="1" fill="#399900"/>
<rect x="922" y="573" width="12" height="1" fill="#41aa00"/>
<rect x="934" y="573" width="11" height="1" fill="#389900"/>
<rect x="769" y="575" width="112" height="8" fill="#379900"/>
<rect x="881" y="575" width="11" height="8" fill="#3eaa00"/>
<rect x="892" y="575" width="2" height="8" fill="#389900"/>
<rect x="894" y="575" width="12" height="8" fill="#41aa00"/>
<rect x="906" y="575" width="2" height="8" fill="#389900"/>
<rect x="908" y="575" width="12" height="8" fill="#41aa00"/>
<rect x="920" y="575" width="2" height="8" fill="#389900"/>
<rect x="922" y="575" width="12" height="8" fill="#3faa00"/>
<rect x="934" y="575" width="11" height="8" fill="#379900"/>
<rect x="769" y="584" width="112" height="7" fill="#379900"/>
<rect x="881" y="584" width="11" height="7" fill="#3eaa00"/>
<rect x="892" y="584" width="2" height="7" fill="#389900"/>
<rect x="894" y="584" width="12" height="7" fill="#41aa00"/>
<rect x="906" y="584" width="2" height="7" fill="#389900"/>
<rect x="908" y="584" width="12" height="7" fill="#41aa00"/>
<rect x="920" y="584" width="2" height="7" fill="#389900"/>
<rect x="922" y="584" width="12" height="7" fill="#3faa00"/>
<rect x="934" y="584" width="11" height="7" fill="#379900"/>
<rect x="769" y="592" width="112" height="3" fill="#379900"/>
<rect x="881" y="592" width="11" height="3" fill="#36aa00"/>
<rect x="892" y="592" width="2" height="3" fill="#379900"/>
<rect x="894" y="592" width="12" height="3" fill="#36aa00"/>
<rect x="906" y="592" width="2" height="3" fill="#379900"/>
<rect x="908" y="592" width="12" height="3" fill="#36aa00"/>
<rect x="920" y="592" width="2" height="3" fill="#379900"/>
<rect x="922" y="592" width="12" height="3" fill="#34aa00"/>
<rect x="934" y="592" width="11" height="3" fill="#359900"/>
<rect x="769" y="600" width="112" height="3" fill="#379900"/>
<rect x="881" y="600" width="11" height="3" fill="#36aa00"/>
<rect x="892" y="600" width="2" height="3" fill="#379900"/>
<rect x="894" y="600" width="12" height="3" fill="#36aa00"/>
<rect x="906" y="600" width="2" height="3" fill="#379900"/>
<rect x="908" y="600" width="12" height="3" fill="#36aa00"/>
<rect x="920" y="600" width="2" height="3" fill="#379900"/>
<rect x="922" y="600" width="12" height="3" fill="#34aa00"/>
<rect x="934" y="600" width="11" height="3" fill="#359900"/>
<rect x="769" y="606" width="112" height="6" fill="url(#g768m1)"/>
<rect x="881" y="606" width="11" height="6" fill="#9f3b00"/>
<rect x="892" y="606" width="2" height="6" fill="#409900"/>
<rect x="894" y="606" width="12" height="6" fill="#a33b00"/>
<rect x="906" y="606" width="2" height="6" fill="#409900"/>
<rect x="908" y="606" width="12" height="6" fill="#9f3b00"/>
<rect x="920" y="606" width="2" height="6" fill="#409900"/>
<rect x="922" y="606" width="12" height="6" fill="#9f3b00"/>
<rect x="934" y="606" width="11" height="6" fill="#399900"/>
<rect x="769" y="612" width="112" height="6" fill="url(#g768m2)"/>
<rect x="881" y="612" width="11" height="6" fill="#b53b00"/>
<rect x="892" y="612" width="2" height="6" fill="#409900"/>
<rect x="894" y="612" width="12" height="6" fill="#b33b00"/>
<rect x="906" y="612" width="2" height="6" fill="#409900"/>
<rect x="908" y="612" width="12" height="6" fill="#ad3b00"/>
<rect x="920" y="612" width="2" height="6" fill="#409900"/>
<rect x="922" y="612" width="12" height="6" fill="#af3b00"/>
<rect x="934" y="612" width="11" height="6" fill="#399900"/>
<rect x="769" y="618" width="112" height="4" fill="url(#g768m3)"/>
<rect x="881" y="618" width="11" height="4" fill="#af3b00"/>
<rect x="892" y="618" width="2" height="4" fill="#409900"/>
<rect x="894" y="618" width="12" height="4" fill="#a93b00"/>
<rect x="906" y="618" width="2" height="4" fill="#409900"/>
<rect x="908" y="618" width="12" height="4" fill="#ad3b00"/>
<rect x="920" y="618" width="2" height="4" fill="#409900"/>
<rect x="922" y="618" width="12" height="4" fill="#af3b00"/>
<rect x="934" y="618" width="11" height="4" fill="#399900"/>
<rect x="769" y="623" width="112" height="2" fill="url(#g768m4)"/>
<rect x="881" y="623" width="11" height="2" fill="#c83b00"/>
<rect x="892" y="623" width="2" height="2" fill="#409900"/>
<rect x="894" y="623" width="12" height="2" fill="#bb3b00"/>
<rect x="906" y="623" width="2" height="2" fill="#409900"/>
<rect x="908" y="623" width="12" height="2" fill="#af3b00"/>
<rect x="920" y="623" width="2" height="2" fill="#409900"/>
<rect x="922" y="623" width="12" height="2" fill="#ad3b00"/>
<rect x="934" y="623" width="11" height="2" fill="#399900"/>
<rect x="769" y="626" width="112" height="1" fill="url(#g768m5)"/>
<rect x="881" y="626" width="11" height="1" fill="#bd3b00"/>
<rect x="892" y="626" width="2" height="1" fill="#409900"/>
<rect x="894" y="626" width="12" height="1" fill="#b33b00"/>
<rect x="906" y="626" width="2" height="1" fill="#409900"/>
<rect x="908" y="626" width="12" height="1" fill="#af3b00"/>
<rect x="920" y="626" width="2" height="1" fill="#409900"/>
<rect x="922" y="626" width="12" height="1" fill="#ad3b00"/>
<rect x="934" y="626" width="11" height="1" fill="#399900"/>
<rect x="769" y="628" width="112" height="2" fill="url(#g768m6)"/>
<rect x="881" y="628" width="11" height="2" fill="#b33b00"/>
<rect x="892" y="628" width="2" height="2" fill="#409900"/>
<rect x="894" y="628" width="12" height="2" fill="#c33b00"/>
<rect x="906" y="628" width="2" height="2" fill="#409900"/>
<rect x="908" y="628" width="12" height="2" fill="#c13b00"/>
<rect x="920" y="628" width="2" height="2" fill="#409900"/>
<rect x="922" y="628" width="12" height="2" fill="#ad3b00"/>
<rect x="934" y="628" width="11" height="2" fill="#399900"/>
<rect x="769" y="632" width="112" height="3" fill="url(#g768m7)"/>
<rect x="881" y="632" width="11" height="3" fill="#a93b00"/>
<rect x="892" y="632" width="2" height="3" fill="#409900"/>
<rect x="894" y="632" width="12" height="3" fill="#ad3b00"/>
<rect x="906" y="632" width="2" height="3" fill="#409900"/>
<rect x="908" y="632" width="12" height="3" fill="#a73b00"/>
<rect x="920" y="632" width="2" height="3" fill="#409900"/>
<rect x="922" y="632" width="12" height="3" fill="#a53b00"/>
<rect x="934" y="632" width="11" height="3" fill="#399900"/>
<rect x="769" y="635" width="112" height="4" fill="url(#g768m8)"/>
<rect x="881" y="635" width="11" height="4" fill="#c33b00"/>
<rect x="892" y="635" width="2" height="4" fill="#409900"/>
<rect x="894" y="635" width="12" height="4" fill="#c33b00"/>
<rect x="906" y="635" width="2" height="4" fill="#409900"/>
<rect x="908" y="635" width="12" height="4" fill="#a73b00"/>
<rect x="920" y="635" width="2" height="4" fill="#409900"/>
<rect x="922" y="635" width="12" height="4" fill="#a53b00"/>
<rect x="934" y="635" width="11" height="4" fill="#399900"/>
<rect x="769" y="640" width="112" height="2" fill="url(#g768m9)"/>
<rect x="881" y="640" width="11" height="2" fill="#b53b00"/>
<rect x="892" y="640" width="2" height="2" fill="#409900"/>
<rect x="894" y="640" width="12" height="2" fill="#b33b00"/>
<rect x="906" y="640" width="2" height="2" fill="#409900"/>
<rect x="908" y="640" width="12" height="2" fill="#af3b00"/>
<rect x="920" y="640" width="2" height="2" fill="#409900"/>
<rect x="922" y="640" width="12" height="2" fill="#ad3b00"/>
<rect x="934" y="640" width="11" height="2" fill="#399900"/>
<rect x="769" y="643" width="112" height="3" fill="url(#g768m10)"/>
<rect x="881" y="643" width="11" height="3" fill="#ca3b00"/>
<rect x="892" y="643" width="2" height="3" fill="#409900"/>
<rect x="894" y="643" width="12" height="3" fill="#b33b00"/>
<rect x="906" y="643" width="2" height="3" fill="#409900"/>
<rect x="908" y="643" width="12" height="3" fill="#b33b00"/>
<rect x="920" y="643" width="2" height="3" fill="#409900"/>
<rect x="922" y="643" width="12" height="3" fill="#ad3b00"/>
<rect x="934" y="643" width="11" height="3" fill="#399900"/>
<rect x="769" y="646" width="112" height="5" fill="url(#g768m11)"/>
<rect x="881" y="646" width="11" height="5" fill="#ca3b00"/>
<rect x="892" y="646" width="2" height="5" fill="#409900"/>
<rect x="894" y="646" width="12" height="5" fill="#c83b00"/>
<rect x="906" y="646" width="2" height="5" fill="#409900"/>
<rect x="908" y="646" width="12" height="5" fill="#b33b00"/>
<rect x="920" y="646" width="2" height="5" fill="#409900"/>
<rect x="922" y="646" width="12" height="5" fill="#ad3b00"/>
<rect x="934" y="646" width="11" height="5" fill="#399900"/>
<rect x="769" y="652" width="112" height="2" fill="url(#g768m12)"/>
<rect x="881" y="652" width="11" height="2" fill="#bb3b00"/>
<rect x="892" y="652" width="2" height="2" fill="#409900"/>
<rect x="894" y="652" width="12" height="2" fill="#af3b00"/>
<rect x="906" y="652" width="2" height="2" fill="#409900"/>
<rect x="908" y="652" width="12" height="2" fill="#b93b00"/>
<rect x="920" y="652" width="2" height="2" fill="#409900"/>
<rect x="922" y="652" width="12" height="2" fill="#b53b00"/>
<rect x="934" y="652" width="11" height="2" fill="#389900"/>
<rect x="769" y="654" width="112" height="9" fill="url(#g768m13)"/>
<rect x="881" y="654" width="11" height="9" fill="#ab3b00"/>
<rect x="892" y="654" width="2" height="9" fill="#409900"/>
<rect x="894" y="654" width="12" height="9" fill="#ad3b00"/>
<rect x="906" y="654" width="2" height="9" fill="#409900"/>
<rect x="908" y="654" width="12" height="9" fill="#ab3b00"/>
<rect x="920" y="654" width="2" height="9" fill="#409900"/>
<rect x="922" y="654" width="12" height="9" fill="#a73b00"/>
<rect x="934" y="654" width="11" height="9" fill="#389900"/>
<rect x="769" y="665" width="112" height="3" fill="#399900"/>
<rect x="881" y="665" width="11" height="3" fill="#45aa00"/>
<rect x="892" y="665" width="2" height="3" fill="#399900"/>
<rect x="894" y="665" width="12" height="3" fill="#45aa00"/>
<rect x="906" y="665" width="2" height="3" fill="#399900"/>
<rect x="908" y="665" width="12" height="3" fill="#45aa00"/>
<rect x="920" y="665" width="2" height="3" fill="#399900"/>
<rect x="922" y="665" width="12" height="3" fill="#43aa00"/>
<rect x="934" y="665" width="11" height="3" fill="#399900"/>
<rect x="769" y="669" width="112" height="4" fill="#379900"/>
<rect x="881" y="669" width="11" height="4" fill="#36aa00"/>
<rect x="892" y="669" width="2" height="4" fill="#379900"/>
<rect x="894" y="669" width="12" height="4" fill="#36aa00"/>
<rect x="906" y="669" width="2" height="4" fill="#379900"/>
<rect x="908" y="669" width="12" height="4" fill="#36aa00"/>
<rect x="920" y="669" width="2" height="4" fill="#379900"/>
<rect x="922" y="669" width="12" height="4" fill="#34aa00"/>
<rect x="934" y="669" width="11" height="4" fill="#379900"/>
<rect x="769" y="674" width="112" height="5" fill="#379900"/>
<rect x="881" y="674" width="11" height="5" fill="#36aa00"/>
<rect x="892" y="674" width="2" height="5" fill="#379900"/>
<rect x="894" y="674" width="12" height="5" fill="#36aa00"/>
<rect x="906" y="674" width="2" height="5" fill="#379900"/>
<rect x="908" y="674" width="12" height="5" fill="#36aa00"/>
<rect x="920" y="674" width="2" height="5" fill="#379900"/>
<rect x="922" y="674" width="12" height="5" fill="#34aa00"/>
<rect x="934" y="674" width="11" height="5" fill="#379900"/>
<rect x="769" y="682" width="112" height="2" fill="#379900"/>
<rect x="881" y="682" width="11" height="2" fill="#36aa00"/>
<rect x="892" y="682" width="2" height="2" fill="#379900"/>
<rect x="894" y="682" width="12" height="2" fill="#36aa00"/>
<rect x="906" y="682" width="2" height="2" fill="#379900"/>
<rect x="908" y="682" width="12" height="2" fill="#36aa00"/>
<rect x="920" y="682" width="2" height="2" fill="#379900"/>
<rect x="922" y="682" width="12" height="2" fill="#34aa00"/>
<rect x="934" y="682" width="11" height="2" fill="#379900"/>
<rect x="769" y="691" width="112" height="4" fill="url(#g768d1)"/>
<rect x="881" y="691" width="11" height="4" fill="#a13300"/>
<rect x="892" y="691" width="2" height="4" fill="#3b9900"/>
<rect x="894" y="691" width="12" height="4" fill="#9b3300"/>
<rect x="906" y="691" width="2" height="4" fill="#3b9900"/>
<rect x="908" y="691" width="12" height="4" fill="#9d3300"/>
<rect x="920" y="691" width="2" height="4" fill="#3b9900"/>
<rect x="922" y="691" width="12" height="4" fill="#973300"/>
<rect x="934" y="691" width="11" height="4" fill="#399900"/>
<rect x="769" y="696" width="112" height="3" fill="url(#g768d2)"/>
<rect x="881" y="696" width="11" height="3" fill="#727700"/>
<rect x="892" y="696" width="2" height="3" fill="#3a9900"/>
<rect x="894" y="696" width="12" height="3" fill="#697700"/>
<rect x="906" y="696" width="2" height="3" fill="#3a9900"/>
<rect x="908" y="696" width="12" height="3" fill="#767700"/>
<rect x="920" y="696" width="2" height="3" fill="#3a9900"/>
<rect x="922" y="696" width="12" height="3" fill="#727700"/>
<rect x="934" y="696" width="11" height="3" fill="#389900"/>
<rect x="769" y="700" width="112" height="7" fill="url(#g768d3)"/>
<rect x="881" y="700" width="11" height="7" fill="#614c00"/>
<rect x="892" y="700" width="2" height="7" fill="#3b9900"/>
<rect x="894" y="700" width="12" height="7" fill="#644c00"/>
<rect x="906" y="700" width="2" height="7" fill="#3b9900"/>
<rect x="908" y="700" width="12" height="7" fill="#6c4c00"/>
<rect x="920" y="700" width="2" height="7" fill="#3b9900"/>
<rect x="922" y="700" width="12" height="7" fill="#6e4c00"/>
<rect x="934" y="700" width="11" height="7" fill="#399900"/>
<rect x="769" y="708" width="112" height="4" fill="url(#g768d4)"/>
<rect x="881" y="708" width="11" height="4" fill="#594400"/>
<rect x="892" y="708" width="2" height="4" fill="#3b9900"/>
<rect x="894" y="708" width="12" height="4" fill="#7a4400"/>
<rect x="906" y="708" width="2" height="4" fill="#3b9900"/>
<rect x="908" y="708" width="12" height="4" fill="#8c4400"/>
<rect x="920" y="708" width="2" height="4" fill="#3b9900"/>
<rect x="922" y="708" width="12" height="4" fill="#8a4400"/>
<rect x="934" y="708" width="11" height="4" fill="#389900"/>
<rect x="769" y="715" width="112" height="1" fill="url(#g768e1)"/>
<rect x="881" y="715" width="11" height="1" fill="#37aa00"/>
<rect x="892" y="715" width="2" height="1" fill="#3b9900"/>
<rect x="894" y="715" width="12" height="1" fill="#37aa00"/>
<rect x="906" y="715" width="2" height="1" fill="#3b9900"/>
<rect x="908" y="715" width="12" height="1" fill="#37aa00"/>
<rect x="920" y="715" width="2" height="1" fill="#3b9900"/>
<rect x="922" y="715" width="12" height="1" fill="#37aa00"/>
<rect x="934" y="715" width="11" height="1" fill="#3b9900"/>
<rect x="769" y="717" width="112" height="1" fill="url(#g768e1)"/>
<rect x="881" y="717" width="11" height="1" fill="#37aa00"/>
<rect x="892" y="717" width="2" height="1" fill="#3b9900"/>
<rect x="894" y="717" width="12" height="1" fill="#37aa00"/>
<rect x="906" y="717" width="2" height="1" fill="#3b9900"/>
<rect x="908" y="717" width="12" height="1" fill="#37aa00"/>
<rect x="920" y="717" width="2" height="1" fill="#3b9900"/>
<rect x="922" y="717" width="12" height="1" fill="#37aa00"/>
<rect x="934" y="717" width="11" height="1" fill="#3b9900"/>
<rect x="769" y="719" width="112" height="1" fill="url(#g768e1)"/>
<rect x="881" y="719" width="11" height="1" fill="#37aa00"/>
<rect x="892" y="719" width="2" height="1" fill="#3b9900"/>
<rect x="894" y="719" width="12" height="1" fill="#37aa00"/>
<rect x="906" y="719" width="2" height="1" fill="#3b9900"/>
<rect x="908" y="719" width="12" height="1" fill="#37aa00"/>
<rect x="920" y="719" width="2" height="1" fill="#3b9900"/>
<rect x="922" y="719" width="12" height="1" fill="#37aa00"/>
<rect x="934" y="719" width="11" height="1" fill="#3b9900"/>
</g>
<path d="M768 105h177v1h-177zM768 111h177v2h-177zM768 118h177v1h-177zM768 120h177v1h-177zM768 130h177v1h-177zM768 133h177v1h-177zM768 135h177v2h-177zM768 139h177v1h-177zM768 142h177v1h-177zM768 167h177v320h-177zM768 488h177v1h-177zM768 490h177v1h-177zM768 492h177v1h-177zM768 495h177v5h-177zM768 517h177v1h-177zM768 521h177v1h-177zM768 529h177v1h-177zM768 563h177v1h-177zM768 595h177v5h-177zM768 603h177v1h-177zM768 622h177v1h-177zM768 625h177v1h-177zM768 627h177v1h-177zM768 630h177v2h-177zM768 639h177v1h-177zM768 642h177v1h-177zM768 651h177v1h-177zM768 664h177v1h-177zM768 673h177v1h-177zM768 679h177v2h-177zM768 685h177v6h-177zM768 695h177v1h-177zM768 699h177v1h-177zM768 707h177v1h-177zM768 714h177v1h-177zM768 716h177v1h-177zM768 718h177v1h-177z" fill="#fff" shape-rendering="crispEdges"/>
<path d="M768 99h177v2h-177zM768 116h177v1h-177zM768 146h177v1h-177zM768 150h177v1h-177zM768 157h177v4h-177zM768 164h177v3h-177zM768 502h177v3h-177zM768 506h177v3h-177zM768 512h177v1h-177zM768 515h177v1h-177zM768 518h177v2h-177zM768 522h177v1h-177zM768 524h177v2h-177zM768 528h177v1h-177zM768 531h177v1h-177zM768 534h177v2h-177zM768 538h177v3h-177zM768 542h177v2h-177zM768 546h177v2h-177zM768 549h177v4h-177zM768 556h177v1h-177zM768 560h177v3h-177zM768 565h177v1h-177zM768 569h177v2h-177zM768 572h177v1h-177zM768 574h177v1h-177zM768 583h177v1h-177zM768 591h177v1h-177zM768 604h177v2h-177zM768 663h177v1h-177zM768 668h177v1h-177zM768 681h177v1h-177zM768 684h177v1h-177zM768 712h177v2h-177z" fill="#000" shape-rendering="crispEdges"/>
<rect x="768.5" y="80.5" width="177" height="640" fill="none" stroke="#000" stroke-opacity="0.17" stroke-width="3"/><rect x="768.5" y="80.5" width="177" height="640" fill="none" stroke="#000" stroke-width="1"/>
<path d="M810.5 720.5v-6.3M810.5 80.5v6.3M851.5 720.5v-6.3M851.5 80.5v6.3M892.5 720.5v-6.3M892.5 80.5v6.3M934.5 720.5v-6.3M934.5 80.5v6.3M768.5 587.5h6.3M945.5 587.5h-6.3M768.5 453.5h6.3M945.5 453.5h-6.3M768.5 320.5h6.3M945.5 320.5h-6.3M768.5 187.5h6.3M945.5 187.5h-6.3" stroke="#000" stroke-width="0.75" fill="none"/>
<text x="767.9" y="736.0" font-size="12.5" text-anchor="middle" letter-spacing="-0.6">320</text>
<text x="809.9" y="736.0" font-size="12.5" text-anchor="middle" letter-spacing="-0.6">335</text>
<text x="850.9" y="736.0" font-size="12.5" text-anchor="middle" letter-spacing="-0.6">350</text>
<text x="891.9" y="736.0" font-size="12.5" text-anchor="middle" letter-spacing="-0.6">365</text>
<text x="933.9" y="736.0" font-size="12.5" text-anchor="middle" letter-spacing="-0.6">380</text>
<text x="763.6" y="723.6" font-size="12.5" text-anchor="end" letter-spacing="-0.6">0</text>
<text x="763.6" y="590.3" font-size="12.5" text-anchor="end" letter-spacing="-0.6">5</text>
<text x="762.5" y="456.9" font-size="12.5" text-anchor="end" letter-spacing="-0.6">10</text>
<text x="762.5" y="323.6" font-size="12.5" text-anchor="end" letter-spacing="-0.6">15</text>
<text x="763.6" y="190.3" font-size="12.5" text-anchor="end" letter-spacing="-0.6">20</text>
<text x="857.7" y="73.2" font-size="15" text-anchor="middle">YX, V0*V14=EA09*EA17</text>
<text transform="translate(101.6,400) rotate(-90)" font-size="12.5" text-anchor="middle">UT (hours)</text>
<text x="432" y="755" font-size="12.5">frequency (MHz)</text>
<rect x="1019" y="160" width="16" height="481" fill="url(#cb)"/>
<rect x="1019.5" y="160.5" width="15" height="480" fill="none" stroke="#000" stroke-opacity="0.17" stroke-width="3"/><rect x="1019.5" y="160.5" width="15" height="480" fill="none" stroke="#000" stroke-width="1"/>
<path d="M1022.5 160.5v5.56M1022.5 640.5v-5.56M1025.5 160.5v5.56M1025.5 640.5v-5.56M1028.5 160.5v5.56M1028.5 640.5v-5.56M1031.5 160.5v5.56M1031.5 640.5v-5.56M1019.5 256.5h5.56M1034.5 256.5h-5.56M1019.5 352.5h5.56M1034.5 352.5h-5.56M1019.5 448.5h5.56M1034.5 448.5h-5.56M1019.5 544.5h5.56M1034.5 544.5h-5.56" stroke="#000" stroke-width="0.75" fill="none"/>
<text x="1013.4" y="163.4" font-size="10.42" text-anchor="end">1</text>
<text x="1013.4" y="259.4" font-size="10.42" text-anchor="end">0</text>
<text x="1013.4" y="355.4" font-size="10.42" text-anchor="end">−1</text>
<text x="1013.4" y="451.4" font-size="10.42" text-anchor="end">−2</text>
<text x="1013.4" y="547.4" font-size="10.42" text-anchor="end">−3</text>
<text x="1013.4" y="643.4" font-size="10.42" text-anchor="end">−4</text>
<text transform="translate(984.8,400) rotate(-90)" font-size="12.5" text-anchor="middle">log<tspan font-size="6.6" dy="2.6">10</tspan><tspan dy="-2.6"> amplitude</tspan></text>
<text x="1018.1" y="646.9" font-size="0.9" text-anchor="middle" fill="#000">0.0</text>
<text x="1021.2" y="646.9" font-size="0.9" text-anchor="middle" fill="#000">0.2</text>
<text x="1024.4" y="646.9" font-size="0.9" text-anchor="middle" fill="#000">0.4</text>
<text x="1027.5" y="646.9" font-size="0.9" text-anchor="middle" fill="#000">0.6</text>
<text x="1030.7" y="646.9" font-size="0.9" text-anchor="middle" fill="#000">0.8</text>
<text x="1033.8" y="646.9" font-size="0.9" text-anchor="middle" fill="#000">1.0</text>
</svg></body></html>
